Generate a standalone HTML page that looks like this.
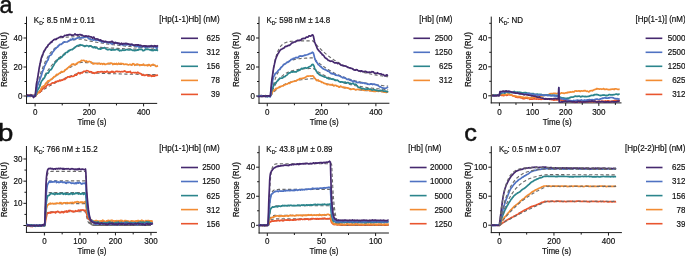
<!DOCTYPE html>
<html><head><meta charset="utf-8"><style>
html,body{margin:0;padding:0;background:#fff;}
svg{display:block;will-change:transform;}
text{font-family:"Liberation Sans",sans-serif;fill:#111;stroke:#111;stroke-width:0.18px;}
</style></head><body>
<svg xmlns="http://www.w3.org/2000/svg" width="685" height="256" viewBox="0 0 685 256">
<rect width="685" height="256" fill="#fff"/>
<line x1="26.50" y1="16.60" x2="26.50" y2="103.90" stroke="#1a1a1a" stroke-width="1.0" />
<line x1="26.00" y1="103.40" x2="157.20" y2="103.40" stroke="#1a1a1a" stroke-width="1.0" />
<line x1="35.10" y1="103.40" x2="35.10" y2="106.40" stroke="#1a1a1a" stroke-width="1.0" />
<text transform="translate(35.10,114.70) scale(1,1.05)" text-anchor="middle" font-size="8" >0</text>
<line x1="62.22" y1="103.40" x2="62.22" y2="105.40" stroke="#1a1a1a" stroke-width="1.0" />
<line x1="89.34" y1="103.40" x2="89.34" y2="106.40" stroke="#1a1a1a" stroke-width="1.0" />
<text transform="translate(89.34,114.70) scale(1,1.05)" text-anchor="middle" font-size="8" >200</text>
<line x1="116.46" y1="103.40" x2="116.46" y2="105.40" stroke="#1a1a1a" stroke-width="1.0" />
<line x1="143.58" y1="103.40" x2="143.58" y2="106.40" stroke="#1a1a1a" stroke-width="1.0" />
<text transform="translate(143.58,114.70) scale(1,1.05)" text-anchor="middle" font-size="8" >400</text>
<line x1="23.50" y1="96.00" x2="26.50" y2="96.00" stroke="#1a1a1a" stroke-width="1.0" />
<text transform="translate(22.50,98.90) scale(1,1.05)" text-anchor="end" font-size="8" >0</text>
<line x1="24.50" y1="81.50" x2="26.50" y2="81.50" stroke="#1a1a1a" stroke-width="1.0" />
<line x1="23.50" y1="67.00" x2="26.50" y2="67.00" stroke="#1a1a1a" stroke-width="1.0" />
<text transform="translate(22.50,69.90) scale(1,1.05)" text-anchor="end" font-size="8" >20</text>
<line x1="24.50" y1="52.50" x2="26.50" y2="52.50" stroke="#1a1a1a" stroke-width="1.0" />
<line x1="23.50" y1="38.00" x2="26.50" y2="38.00" stroke="#1a1a1a" stroke-width="1.0" />
<text transform="translate(22.50,40.90) scale(1,1.05)" text-anchor="end" font-size="8" >40</text>
<line x1="24.50" y1="23.50" x2="26.50" y2="23.50" stroke="#1a1a1a" stroke-width="1.0" />
<text x="0" y="0" transform="translate(6.80,59.60) rotate(-90) scale(1,1.05)" text-anchor="middle" font-size="8">Response (RU)</text>
<text transform="translate(91.90,125.00) scale(1,1.05)" text-anchor="middle" font-size="8" >Time (s)</text>
<text transform="translate(33.80,22.70) scale(1,1.05)" font-size="8">K<tspan font-size="5" dy="2.3">D</tspan><tspan dx="-0.5" dy="-2.3">: 8.5 nM ± 0.11</tspan></text>
<text transform="translate(219.60,21.60) scale(1,1.05)" text-anchor="end" font-size="8" >[Hp(1-1)Hb] (nM)</text>
<line x1="181.00" y1="38.30" x2="198.00" y2="38.30" stroke="#46296f" stroke-width="1.6" />
<text transform="translate(219.90,41.20) scale(1,1.05)" text-anchor="end" font-size="8" >625</text>
<line x1="181.00" y1="52.30" x2="198.00" y2="52.30" stroke="#4f72c2" stroke-width="1.6" />
<text transform="translate(219.90,55.20) scale(1,1.05)" text-anchor="end" font-size="8" >312</text>
<line x1="181.00" y1="66.30" x2="198.00" y2="66.30" stroke="#2b858c" stroke-width="1.6" />
<text transform="translate(219.90,69.20) scale(1,1.05)" text-anchor="end" font-size="8" >156</text>
<line x1="181.00" y1="80.40" x2="198.00" y2="80.40" stroke="#f28c33" stroke-width="1.6" />
<text transform="translate(219.90,83.30) scale(1,1.05)" text-anchor="end" font-size="8" >78</text>
<line x1="181.00" y1="94.40" x2="198.00" y2="94.40" stroke="#e9552f" stroke-width="1.6" />
<text transform="translate(219.90,97.30) scale(1,1.05)" text-anchor="end" font-size="8" >39</text>
<path d="M35.1,96.0 L36.6,94.8 L38.2,93.6 L39.7,92.5 L41.2,91.4 L42.8,90.3 L44.3,89.3 L45.8,88.3 L47.4,87.3 L48.9,86.4 L50.5,85.4 L52.0,84.6 L53.5,83.7 L55.1,82.9 L56.6,82.1 L58.1,81.3 L59.7,80.6 L61.2,79.9 L62.7,79.2 L64.3,78.5 L65.8,77.8 L67.3,77.2 L68.9,76.6 L70.4,76.0 L72.0,75.4 L73.5,74.9 L75.0,74.4 L76.6,73.8 L78.1,73.3 L79.6,72.8 L81.2,72.4 L82.7,72.4 L84.2,72.5 L85.8,72.6 L87.3,72.7 L88.8,72.8 L90.4,72.8 L91.9,72.9 L93.5,73.0 L95.0,73.1 L96.5,73.1 L98.1,73.2 L99.6,73.2 L101.1,73.3 L102.7,73.4 L104.2,73.4 L105.7,73.5 L107.3,73.5 L108.8,73.6 L110.3,73.6 L111.9,73.7 L113.4,73.7 L115.0,73.8 L116.5,73.8 L118.0,73.9 L119.6,73.9 L121.1,74.0 L122.6,74.0 L124.2,74.0 L125.7,74.1 L127.2,74.1 L128.8,74.2 L130.3,74.2 L131.8,74.2 L133.4,74.3 L134.9,74.3 L136.5,74.3 L138.0,74.4 L139.5,74.4 L141.1,74.4 L142.6,74.4 L144.1,74.5 L145.7,74.5 L147.2,74.5 L148.7,74.6 L150.3,74.6 L151.8,74.6 L153.3,74.6 L154.9,74.6 L156.4,74.7 L158.0,74.7" fill="none" stroke="#6a6a6a" stroke-width="1.1" stroke-linejoin="round" stroke-dasharray="3.3,2.3"/>
<path d="M35.1,96.0 L36.6,94.2 L38.2,92.4 L39.7,90.7 L41.2,89.1 L42.8,87.5 L44.3,86.0 L45.8,84.5 L47.4,83.1 L48.9,81.7 L50.5,80.4 L52.0,79.1 L53.5,77.9 L55.1,76.7 L56.6,75.6 L58.1,74.5 L59.7,73.5 L61.2,72.5 L62.7,71.5 L64.3,70.6 L65.8,69.7 L67.3,68.8 L68.9,68.0 L70.4,67.2 L72.0,66.4 L73.5,65.6 L75.0,64.9 L76.6,64.2 L78.1,63.5 L79.6,62.9 L81.2,62.3 L82.7,62.4 L84.2,62.5 L85.8,62.6 L87.3,62.7 L88.8,62.8 L90.4,62.9 L91.9,63.0 L93.5,63.1 L95.0,63.2 L96.5,63.3 L98.1,63.3 L99.6,63.4 L101.1,63.5 L102.7,63.6 L104.2,63.7 L105.7,63.7 L107.3,63.8 L108.8,63.9 L110.3,63.9 L111.9,64.0 L113.4,64.1 L115.0,64.1 L116.5,64.2 L118.0,64.3 L119.6,64.3 L121.1,64.4 L122.6,64.4 L124.2,64.5 L125.7,64.5 L127.2,64.6 L128.8,64.6 L130.3,64.7 L131.8,64.7 L133.4,64.8 L134.9,64.8 L136.5,64.9 L138.0,64.9 L139.5,64.9 L141.1,65.0 L142.6,65.0 L144.1,65.0 L145.7,65.1 L147.2,65.1 L148.7,65.1 L150.3,65.2 L151.8,65.2 L153.3,65.2 L154.9,65.3 L156.4,65.3 L158.0,65.3" fill="none" stroke="#6a6a6a" stroke-width="1.1" stroke-linejoin="round" stroke-dasharray="3.3,2.3"/>
<path d="M35.1,96.0 L36.6,92.1 L38.2,88.4 L39.7,85.0 L41.2,81.9 L42.8,78.9 L44.3,76.2 L45.8,73.6 L47.4,71.2 L48.9,69.0 L50.5,66.9 L52.0,65.0 L53.5,63.2 L55.1,61.5 L56.6,60.0 L58.1,58.5 L59.7,57.2 L61.2,55.9 L62.7,54.7 L64.3,53.6 L65.8,52.6 L67.3,51.7 L68.9,50.8 L70.4,50.0 L72.0,49.2 L73.5,48.5 L75.0,47.8 L76.6,47.2 L78.1,46.6 L79.6,46.1 L81.2,45.6 L82.7,45.7 L84.2,45.9 L85.8,46.1 L87.3,46.2 L88.8,46.4 L90.4,46.5 L91.9,46.6 L93.5,46.8 L95.0,46.9 L96.5,47.0 L98.1,47.1 L99.6,47.3 L101.1,47.4 L102.7,47.5 L104.2,47.6 L105.7,47.7 L107.3,47.8 L108.8,47.9 L110.3,48.0 L111.9,48.1 L113.4,48.1 L115.0,48.2 L116.5,48.3 L118.0,48.4 L119.6,48.5 L121.1,48.5 L122.6,48.6 L124.2,48.7 L125.7,48.7 L127.2,48.8 L128.8,48.8 L130.3,48.9 L131.8,49.0 L133.4,49.0 L134.9,49.1 L136.5,49.1 L138.0,49.2 L139.5,49.2 L141.1,49.3 L142.6,49.3 L144.1,49.4 L145.7,49.4 L147.2,49.4 L148.7,49.5 L150.3,49.5 L151.8,49.6 L153.3,49.6 L154.9,49.6 L156.4,49.7 L158.0,49.7" fill="none" stroke="#6a6a6a" stroke-width="1.1" stroke-linejoin="round" stroke-dasharray="3.3,2.3"/>
<path d="M35.1,96.0 L36.6,88.6 L38.2,82.2 L39.7,76.6 L41.2,71.7 L42.8,67.4 L44.3,63.7 L45.8,60.4 L47.4,57.6 L48.9,55.1 L50.5,52.9 L52.0,51.0 L53.5,49.4 L55.1,47.9 L56.6,46.7 L58.1,45.6 L59.7,44.6 L61.2,43.8 L62.7,43.0 L64.3,42.4 L65.8,41.8 L67.3,41.3 L68.9,40.9 L70.4,40.5 L72.0,40.2 L73.5,39.9 L75.0,39.7 L76.6,39.5 L78.1,39.3 L79.6,39.1 L81.2,39.0 L82.7,39.4 L84.2,39.7 L85.8,40.1 L87.3,40.4 L88.8,40.8 L90.4,41.1 L91.9,41.4 L93.5,41.7 L95.0,42.0 L96.5,42.3 L98.1,42.5 L99.6,42.8 L101.1,43.0 L102.7,43.3 L104.2,43.5 L105.7,43.8 L107.3,44.0 L108.8,44.2 L110.3,44.4 L111.9,44.6 L113.4,44.8 L115.0,45.0 L116.5,45.2 L118.0,45.3 L119.6,45.5 L121.1,45.7 L122.6,45.8 L124.2,46.0 L125.7,46.1 L127.2,46.3 L128.8,46.4 L130.3,46.5 L131.8,46.7 L133.4,46.8 L134.9,46.9 L136.5,47.0 L138.0,47.1 L139.5,47.2 L141.1,47.4 L142.6,47.5 L144.1,47.6 L145.7,47.6 L147.2,47.7 L148.7,47.8 L150.3,47.9 L151.8,48.0 L153.3,48.1 L154.9,48.2 L156.4,48.2 L158.0,48.3" fill="none" stroke="#6a6a6a" stroke-width="1.1" stroke-linejoin="round" stroke-dasharray="3.3,2.3"/>
<path d="M35.1,96.0 L36.6,84.0 L38.2,74.3 L39.7,66.7 L41.2,60.6 L42.8,55.7 L44.3,51.8 L45.8,48.7 L47.4,46.3 L48.9,44.3 L50.5,42.7 L52.0,41.5 L53.5,40.5 L55.1,39.7 L56.6,39.0 L58.1,38.5 L59.7,38.1 L61.2,37.8 L62.7,37.6 L64.3,37.4 L65.8,37.2 L67.3,37.1 L68.9,37.0 L70.4,36.9 L72.0,36.8 L73.5,36.8 L75.0,36.7 L76.6,36.7 L78.1,36.7 L79.6,36.6 L81.2,36.6 L82.7,37.0 L84.2,37.4 L85.8,37.8 L87.3,38.1 L88.8,38.5 L90.4,38.8 L91.9,39.1 L93.5,39.4 L95.0,39.7 L96.5,40.0 L98.1,40.3 L99.6,40.6 L101.1,40.9 L102.7,41.1 L104.2,41.4 L105.7,41.6 L107.3,41.8 L108.8,42.0 L110.3,42.3 L111.9,42.5 L113.4,42.7 L115.0,42.9 L116.5,43.1 L118.0,43.2 L119.6,43.4 L121.1,43.6 L122.6,43.7 L124.2,43.9 L125.7,44.1 L127.2,44.2 L128.8,44.3 L130.3,44.5 L131.8,44.6 L133.4,44.7 L134.9,44.9 L136.5,45.0 L138.0,45.1 L139.5,45.2 L141.1,45.3 L142.6,45.4 L144.1,45.5 L145.7,45.6 L147.2,45.7 L148.7,45.8 L150.3,45.9 L151.8,46.0 L153.3,46.1 L154.9,46.2 L156.4,46.2 L158.0,46.3" fill="none" stroke="#6a6a6a" stroke-width="1.1" stroke-linejoin="round" stroke-dasharray="3.3,2.3"/>
<path d="M27.0,96.0 L27.7,95.7 L28.4,95.9 L29.1,96.0 L29.9,96.4 L30.6,96.3 L31.3,95.7 L32.1,95.7 L32.8,95.4 L33.5,95.5 L34.2,95.6 L35.0,95.7 L35.7,96.1 L36.4,94.5 L37.2,93.2 L37.9,92.5 L38.6,92.7 L39.3,92.7 L40.1,92.0 L40.8,91.2 L41.5,90.1 L42.2,89.4 L43.0,88.6 L43.7,88.3 L44.4,87.6 L45.2,86.9 L45.9,86.7 L46.6,85.5 L47.3,85.1 L48.1,84.4 L48.8,84.6 L49.5,84.6 L50.3,84.3 L51.0,83.9 L51.7,83.3 L52.4,82.9 L53.2,82.9 L53.9,82.9 L54.6,82.7 L55.3,81.7 L56.1,81.8 L56.8,81.4 L57.5,81.0 L58.3,81.4 L59.0,80.9 L59.7,80.1 L60.4,80.8 L61.2,80.5 L61.9,80.1 L62.6,80.1 L63.3,79.4 L64.1,79.2 L64.8,79.5 L65.5,78.7 L66.3,78.1 L67.0,77.6 L67.7,76.9 L68.4,76.8 L69.2,76.8 L69.9,77.2 L70.6,76.5 L71.4,76.5 L72.1,76.3 L72.8,76.4 L73.5,76.2 L74.3,75.8 L75.0,74.6 L75.7,75.2 L76.4,75.1 L77.2,74.2 L77.9,73.1 L78.6,72.6 L79.4,73.3 L80.1,73.8 L80.8,73.0 L81.5,72.8 L82.3,72.9 L83.0,72.0 L83.7,71.4 L84.5,71.4 L85.2,71.3 L85.9,71.2 L86.6,70.6 L87.4,70.8 L88.1,71.0 L88.8,71.2 L89.5,72.2 L90.3,71.8 L91.0,71.7 L91.7,71.9 L92.5,73.0 L93.2,73.2 L93.9,72.6 L94.6,73.3 L95.4,73.0 L96.1,72.3 L96.8,72.8 L97.6,71.9 L98.3,71.8 L99.0,72.0 L99.7,71.9 L100.5,71.7 L101.2,71.8 L101.9,71.5 L102.6,72.0 L103.4,72.2 L104.1,71.7 L104.8,71.8 L105.6,72.2 L106.3,71.7 L107.0,71.2 L107.7,71.7 L108.5,72.4 L109.2,72.3 L109.9,72.2 L110.7,72.2 L111.4,71.5 L112.1,72.1 L112.8,71.5 L113.6,72.2 L114.3,72.4 L115.0,72.0 L115.7,71.5 L116.5,71.3 L117.2,71.4 L117.9,71.6 L118.7,71.7 L119.4,71.6 L120.1,71.8 L120.8,71.8 L121.6,71.6 L122.3,71.8 L123.0,71.6 L123.8,71.5 L124.5,70.9 L125.2,71.3 L125.9,71.8 L126.7,72.1 L127.4,72.1 L128.1,71.8 L128.8,72.1 L129.6,72.0 L130.3,71.4 L131.0,72.8 L131.8,73.1 L132.5,72.7 L133.2,72.5 L133.9,72.5 L134.7,72.8 L135.4,72.6 L136.1,72.6 L136.8,73.1 L137.6,72.2 L138.3,72.5 L139.0,73.1 L139.8,73.4 L140.5,73.7 L141.2,73.8 L141.9,75.1 L142.7,75.1 L143.4,74.6 L144.1,75.3 L144.9,75.4 L145.6,75.0 L146.3,75.0 L147.0,74.7 L147.8,75.8 L148.5,75.9 L149.2,76.0 L149.9,75.6 L150.7,75.2 L151.4,76.4 L152.1,75.7 L152.9,76.2 L153.6,75.7 L154.3,76.2 L155.0,75.8 L155.8,75.2 L156.5,75.3 L157.2,75.3 L158.0,75.0" fill="none" stroke="#e9552f" stroke-width="1.7" stroke-linejoin="round" />
<path d="M27.0,95.8 L27.7,95.9 L28.4,95.3 L29.1,95.1 L29.9,95.6 L30.6,94.6 L31.3,95.6 L32.1,95.4 L32.8,95.7 L33.5,95.8 L34.2,95.6 L35.0,95.7 L35.7,95.1 L36.4,94.5 L37.2,93.7 L37.9,92.5 L38.6,92.1 L39.3,91.6 L40.1,91.0 L40.8,89.3 L41.5,88.1 L42.2,86.7 L43.0,86.7 L43.7,85.9 L44.4,85.6 L45.2,84.4 L45.9,83.0 L46.6,83.0 L47.3,81.7 L48.1,80.9 L48.8,80.7 L49.5,81.1 L50.3,79.7 L51.0,79.3 L51.7,79.1 L52.4,78.4 L53.2,77.7 L53.9,76.7 L54.6,76.9 L55.3,76.0 L56.1,75.0 L56.8,74.3 L57.5,74.3 L58.3,74.4 L59.0,73.5 L59.7,73.1 L60.4,72.7 L61.2,71.7 L61.9,71.6 L62.6,72.1 L63.3,71.5 L64.1,71.5 L64.8,70.3 L65.5,69.6 L66.3,69.3 L67.0,68.7 L67.7,67.9 L68.4,67.5 L69.2,66.5 L69.9,66.4 L70.6,65.6 L71.4,64.9 L72.1,64.2 L72.8,64.6 L73.5,64.0 L74.3,64.7 L75.0,64.5 L75.7,64.7 L76.4,63.3 L77.2,63.3 L77.9,62.6 L78.6,62.2 L79.4,61.8 L80.1,61.7 L80.8,61.2 L81.5,60.3 L82.3,60.5 L83.0,60.5 L83.7,60.3 L84.5,60.7 L85.2,61.4 L85.9,61.5 L86.6,61.0 L87.4,61.9 L88.1,62.0 L88.8,61.5 L89.5,61.4 L90.3,61.9 L91.0,62.0 L91.7,62.5 L92.5,63.4 L93.2,64.0 L93.9,64.0 L94.6,63.2 L95.4,63.4 L96.1,63.6 L96.8,63.6 L97.6,63.9 L98.3,63.6 L99.0,63.8 L99.7,63.3 L100.5,64.2 L101.2,63.6 L101.9,63.7 L102.6,64.3 L103.4,63.6 L104.1,63.6 L104.8,64.4 L105.6,64.4 L106.3,64.0 L107.0,64.0 L107.7,63.6 L108.5,63.4 L109.2,63.3 L109.9,63.4 L110.7,63.1 L111.4,63.2 L112.1,63.4 L112.8,64.5 L113.6,64.0 L114.3,63.5 L115.0,63.9 L115.7,64.2 L116.5,63.4 L117.2,64.5 L117.9,64.2 L118.7,63.2 L119.4,64.0 L120.1,63.9 L120.8,63.3 L121.6,63.8 L122.3,63.8 L123.0,63.6 L123.8,64.3 L124.5,64.4 L125.2,64.3 L125.9,64.0 L126.7,64.2 L127.4,64.4 L128.1,64.9 L128.8,64.9 L129.6,64.4 L130.3,64.4 L131.0,64.8 L131.8,65.1 L132.5,63.8 L133.2,63.7 L133.9,63.9 L134.7,65.3 L135.4,64.8 L136.1,64.6 L136.8,64.1 L137.6,64.2 L138.3,64.5 L139.0,64.5 L139.8,65.5 L140.5,64.9 L141.2,64.8 L141.9,65.2 L142.7,64.6 L143.4,64.1 L144.1,65.1 L144.9,65.4 L145.6,65.2 L146.3,65.2 L147.0,65.4 L147.8,65.8 L148.5,64.7 L149.2,64.6 L149.9,65.4 L150.7,66.0 L151.4,65.1 L152.1,64.9 L152.9,64.4 L153.6,64.5 L154.3,65.3 L155.0,65.3 L155.8,66.3 L156.5,66.4 L157.2,66.1 L158.0,65.8" fill="none" stroke="#f28c33" stroke-width="1.7" stroke-linejoin="round" />
<path d="M27.0,96.4 L27.7,96.4 L28.4,96.1 L29.1,95.9 L29.9,95.7 L30.6,95.8 L31.3,96.0 L32.1,95.7 L32.8,95.8 L33.5,96.3 L34.2,96.4 L35.0,96.2 L35.7,95.5 L36.4,93.3 L37.2,91.2 L37.9,89.7 L38.6,88.4 L39.3,87.5 L40.1,85.5 L40.8,83.0 L41.5,81.3 L42.2,80.5 L43.0,79.4 L43.7,78.6 L44.4,77.9 L45.2,76.1 L45.9,75.0 L46.6,73.5 L47.3,73.1 L48.1,73.2 L48.8,72.3 L49.5,70.5 L50.3,69.9 L51.0,69.6 L51.7,68.8 L52.4,67.4 L53.2,66.1 L53.9,65.0 L54.6,63.4 L55.3,62.4 L56.1,61.9 L56.8,61.0 L57.5,59.8 L58.3,59.1 L59.0,58.4 L59.7,58.6 L60.4,58.1 L61.2,57.2 L61.9,56.9 L62.6,55.9 L63.3,55.3 L64.1,54.6 L64.8,54.4 L65.5,52.9 L66.3,52.4 L67.0,52.4 L67.7,52.1 L68.4,50.7 L69.2,50.8 L69.9,50.3 L70.6,49.7 L71.4,49.5 L72.1,49.7 L72.8,49.2 L73.5,48.6 L74.3,47.7 L75.0,47.2 L75.7,46.9 L76.4,46.3 L77.2,45.8 L77.9,45.5 L78.6,45.3 L79.4,45.2 L80.1,44.7 L80.8,45.1 L81.5,45.2 L82.3,45.1 L83.0,45.7 L83.7,45.7 L84.5,46.4 L85.2,46.4 L85.9,45.9 L86.6,45.6 L87.4,45.8 L88.1,46.0 L88.8,46.7 L89.5,45.8 L90.3,45.9 L91.0,45.8 L91.7,46.6 L92.5,46.8 L93.2,47.7 L93.9,47.2 L94.6,46.9 L95.4,47.9 L96.1,47.8 L96.8,47.5 L97.6,48.3 L98.3,48.9 L99.0,49.0 L99.7,48.9 L100.5,49.2 L101.2,48.8 L101.9,48.5 L102.6,48.3 L103.4,48.1 L104.1,47.7 L104.8,47.7 L105.6,48.7 L106.3,49.0 L107.0,49.4 L107.7,49.8 L108.5,49.6 L109.2,49.4 L109.9,49.2 L110.7,49.9 L111.4,50.2 L112.1,49.9 L112.8,49.8 L113.6,49.8 L114.3,49.7 L115.0,49.9 L115.7,49.5 L116.5,49.4 L117.2,49.5 L117.9,49.8 L118.7,49.8 L119.4,50.8 L120.1,50.7 L120.8,50.3 L121.6,50.6 L122.3,50.2 L123.0,49.9 L123.8,50.4 L124.5,50.2 L125.2,50.1 L125.9,49.8 L126.7,49.5 L127.4,49.6 L128.1,50.0 L128.8,50.0 L129.6,49.9 L130.3,49.6 L131.0,49.5 L131.8,49.9 L132.5,50.4 L133.2,50.3 L133.9,50.4 L134.7,50.7 L135.4,50.4 L136.1,50.4 L136.8,50.2 L137.6,49.9 L138.3,50.1 L139.0,49.1 L139.8,49.6 L140.5,49.3 L141.2,49.5 L141.9,49.3 L142.7,50.6 L143.4,50.7 L144.1,50.4 L144.9,50.0 L145.6,49.1 L146.3,49.4 L147.0,49.2 L147.8,49.3 L148.5,49.3 L149.2,49.5 L149.9,49.9 L150.7,49.9 L151.4,50.5 L152.1,50.0 L152.9,50.6 L153.6,50.5 L154.3,49.6 L155.0,50.1 L155.8,50.3 L156.5,49.9 L157.2,50.2 L158.0,50.7" fill="none" stroke="#2b858c" stroke-width="1.7" stroke-linejoin="round" />
<path d="M27.0,96.0 L27.7,95.8 L28.4,95.7 L29.1,96.2 L29.9,95.4 L30.6,95.0 L31.3,95.4 L32.1,95.6 L32.8,95.9 L33.5,95.4 L34.2,95.9 L35.0,95.7 L35.7,94.2 L36.4,90.5 L37.2,87.4 L37.9,84.6 L38.6,82.7 L39.3,81.2 L40.1,78.8 L40.8,77.0 L41.5,74.9 L42.2,72.4 L43.0,70.4 L43.7,69.1 L44.4,66.4 L45.2,65.1 L45.9,63.4 L46.6,62.2 L47.3,60.6 L48.1,59.8 L48.8,57.3 L49.5,55.7 L50.3,55.3 L51.0,54.9 L51.7,54.3 L52.4,52.4 L53.2,51.6 L53.9,50.7 L54.6,49.8 L55.3,48.8 L56.1,48.3 L56.8,47.3 L57.5,47.1 L58.3,46.2 L59.0,45.4 L59.7,44.6 L60.4,44.3 L61.2,44.3 L61.9,43.7 L62.6,43.4 L63.3,42.3 L64.1,41.9 L64.8,41.9 L65.5,42.0 L66.3,42.0 L67.0,42.0 L67.7,41.7 L68.4,41.1 L69.2,40.6 L69.9,40.2 L70.6,39.3 L71.4,39.8 L72.1,39.7 L72.8,38.4 L73.5,39.4 L74.3,39.4 L75.0,39.0 L75.7,38.7 L76.4,38.3 L77.2,38.2 L77.9,37.9 L78.6,37.7 L79.4,37.3 L80.1,38.0 L80.8,38.0 L81.5,37.6 L82.3,37.7 L83.0,37.8 L83.7,37.1 L84.5,37.3 L85.2,36.9 L85.9,36.7 L86.6,37.0 L87.4,37.2 L88.1,37.8 L88.8,38.8 L89.5,39.0 L90.3,39.1 L91.0,39.5 L91.7,39.7 L92.5,39.5 L93.2,40.1 L93.9,39.9 L94.6,39.3 L95.4,40.0 L96.1,40.2 L96.8,40.5 L97.6,40.0 L98.3,40.3 L99.0,40.3 L99.7,40.9 L100.5,41.1 L101.2,41.3 L101.9,42.1 L102.6,41.4 L103.4,41.2 L104.1,42.2 L104.8,41.9 L105.6,42.0 L106.3,42.0 L107.0,42.0 L107.7,42.8 L108.5,42.8 L109.2,42.2 L109.9,42.7 L110.7,43.2 L111.4,43.7 L112.1,43.9 L112.8,43.5 L113.6,42.7 L114.3,42.8 L115.0,43.0 L115.7,42.3 L116.5,43.1 L117.2,43.6 L117.9,43.5 L118.7,43.5 L119.4,44.1 L120.1,44.6 L120.8,44.3 L121.6,44.2 L122.3,44.8 L123.0,44.7 L123.8,44.9 L124.5,44.6 L125.2,44.7 L125.9,44.8 L126.7,44.9 L127.4,44.5 L128.1,44.1 L128.8,44.7 L129.6,44.5 L130.3,45.1 L131.0,45.2 L131.8,45.0 L132.5,44.6 L133.2,45.1 L133.9,45.4 L134.7,45.5 L135.4,46.2 L136.1,46.1 L136.8,46.3 L137.6,46.1 L138.3,46.6 L139.0,47.2 L139.8,46.8 L140.5,46.5 L141.2,46.7 L141.9,46.2 L142.7,46.5 L143.4,46.7 L144.1,46.5 L144.9,47.2 L145.6,47.3 L146.3,47.1 L147.0,46.6 L147.8,46.8 L148.5,46.7 L149.2,47.0 L149.9,46.9 L150.7,46.2 L151.4,46.8 L152.1,45.9 L152.9,46.7 L153.6,46.8 L154.3,46.9 L155.0,46.6 L155.8,47.4 L156.5,48.2 L157.2,47.6 L158.0,47.2" fill="none" stroke="#4f72c2" stroke-width="1.7" stroke-linejoin="round" />
<path d="M27.0,95.9 L27.7,94.9 L28.4,95.3 L29.1,95.5 L29.9,95.4 L30.6,95.5 L31.3,95.1 L32.1,96.0 L32.8,96.2 L33.5,97.5 L34.2,96.6 L35.0,96.5 L35.7,91.0 L36.4,84.1 L37.2,80.2 L37.9,76.3 L38.6,71.8 L39.3,67.4 L40.1,63.8 L40.8,60.1 L41.5,57.5 L42.2,55.5 L43.0,53.8 L43.7,51.9 L44.4,50.5 L45.2,49.5 L45.9,48.1 L46.6,47.3 L47.3,46.8 L48.1,45.1 L48.8,44.2 L49.5,44.0 L50.3,42.8 L51.0,42.2 L51.7,42.3 L52.4,40.9 L53.2,40.4 L53.9,39.7 L54.6,39.4 L55.3,39.2 L56.1,39.5 L56.8,38.5 L57.5,38.2 L58.3,38.0 L59.0,37.5 L59.7,37.2 L60.4,36.7 L61.2,36.7 L61.9,36.5 L62.6,37.2 L63.3,36.8 L64.1,36.0 L64.8,35.3 L65.5,35.5 L66.3,35.5 L67.0,34.8 L67.7,35.2 L68.4,35.0 L69.2,34.4 L69.9,34.8 L70.6,34.5 L71.4,35.1 L72.1,35.1 L72.8,35.2 L73.5,35.1 L74.3,34.7 L75.0,33.9 L75.7,34.6 L76.4,34.9 L77.2,34.7 L77.9,35.2 L78.6,34.8 L79.4,34.6 L80.1,34.8 L80.8,34.6 L81.5,35.4 L82.3,35.0 L83.0,35.8 L83.7,36.0 L84.5,36.1 L85.2,36.2 L85.9,35.8 L86.6,36.0 L87.4,36.4 L88.1,36.4 L88.8,36.1 L89.5,36.6 L90.3,36.9 L91.0,36.8 L91.7,37.2 L92.5,38.2 L93.2,37.4 L93.9,37.1 L94.6,38.7 L95.4,38.9 L96.1,39.0 L96.8,38.9 L97.6,39.0 L98.3,39.5 L99.0,40.1 L99.7,40.1 L100.5,39.8 L101.2,40.6 L101.9,41.0 L102.6,41.0 L103.4,41.7 L104.1,41.6 L104.8,41.6 L105.6,41.3 L106.3,41.7 L107.0,42.0 L107.7,42.0 L108.5,42.0 L109.2,42.2 L109.9,42.1 L110.7,41.8 L111.4,41.5 L112.1,41.2 L112.8,42.0 L113.6,42.4 L114.3,43.5 L115.0,42.5 L115.7,42.9 L116.5,43.0 L117.2,42.8 L117.9,43.5 L118.7,43.2 L119.4,43.3 L120.1,44.1 L120.8,43.8 L121.6,43.2 L122.3,44.2 L123.0,43.7 L123.8,43.7 L124.5,43.6 L125.2,43.6 L125.9,43.3 L126.7,43.8 L127.4,43.7 L128.1,44.1 L128.8,44.0 L129.6,44.6 L130.3,44.7 L131.0,44.0 L131.8,44.2 L132.5,44.5 L133.2,45.2 L133.9,45.5 L134.7,45.3 L135.4,44.9 L136.1,44.9 L136.8,44.9 L137.6,45.2 L138.3,44.8 L139.0,45.3 L139.8,45.7 L140.5,45.4 L141.2,45.5 L141.9,45.8 L142.7,46.1 L143.4,46.1 L144.1,45.8 L144.9,45.8 L145.6,46.4 L146.3,46.1 L147.0,46.0 L147.8,46.5 L148.5,46.1 L149.2,46.3 L149.9,46.4 L150.7,46.0 L151.4,45.6 L152.1,46.2 L152.9,46.1 L153.6,46.6 L154.3,45.6 L155.0,46.1 L155.8,45.8 L156.5,46.4 L157.2,46.1 L158.0,45.4" fill="none" stroke="#46296f" stroke-width="1.7" stroke-linejoin="round" />
<line x1="259.00" y1="16.60" x2="259.00" y2="103.75" stroke="#1a1a1a" stroke-width="1.0" />
<line x1="258.50" y1="103.25" x2="389.40" y2="103.25" stroke="#1a1a1a" stroke-width="1.0" />
<line x1="267.25" y1="103.25" x2="267.25" y2="106.25" stroke="#1a1a1a" stroke-width="1.0" />
<text transform="translate(267.25,114.70) scale(1,1.05)" text-anchor="middle" font-size="8" >0</text>
<line x1="294.41" y1="103.25" x2="294.41" y2="105.25" stroke="#1a1a1a" stroke-width="1.0" />
<line x1="321.57" y1="103.25" x2="321.57" y2="106.25" stroke="#1a1a1a" stroke-width="1.0" />
<text transform="translate(321.57,114.70) scale(1,1.05)" text-anchor="middle" font-size="8" >200</text>
<line x1="348.73" y1="103.25" x2="348.73" y2="105.25" stroke="#1a1a1a" stroke-width="1.0" />
<line x1="375.89" y1="103.25" x2="375.89" y2="106.25" stroke="#1a1a1a" stroke-width="1.0" />
<text transform="translate(375.89,114.70) scale(1,1.05)" text-anchor="middle" font-size="8" >400</text>
<line x1="256.00" y1="96.00" x2="259.00" y2="96.00" stroke="#1a1a1a" stroke-width="1.0" />
<text transform="translate(255.00,98.90) scale(1,1.05)" text-anchor="end" font-size="8" >0</text>
<line x1="257.00" y1="81.50" x2="259.00" y2="81.50" stroke="#1a1a1a" stroke-width="1.0" />
<line x1="256.00" y1="67.00" x2="259.00" y2="67.00" stroke="#1a1a1a" stroke-width="1.0" />
<text transform="translate(255.00,69.90) scale(1,1.05)" text-anchor="end" font-size="8" >20</text>
<line x1="257.00" y1="52.50" x2="259.00" y2="52.50" stroke="#1a1a1a" stroke-width="1.0" />
<line x1="256.00" y1="38.00" x2="259.00" y2="38.00" stroke="#1a1a1a" stroke-width="1.0" />
<text transform="translate(255.00,40.90) scale(1,1.05)" text-anchor="end" font-size="8" >40</text>
<line x1="257.00" y1="23.50" x2="259.00" y2="23.50" stroke="#1a1a1a" stroke-width="1.0" />
<text x="0" y="0" transform="translate(239.30,59.60) rotate(-90) scale(1,1.05)" text-anchor="middle" font-size="8">Response (RU)</text>
<text transform="translate(324.20,125.00) scale(1,1.05)" text-anchor="middle" font-size="8" >Time (s)</text>
<text transform="translate(266.40,22.70) scale(1,1.05)" font-size="8">K<tspan font-size="5" dy="2.3">D</tspan><tspan dx="-0.5" dy="-2.3">: 598 nM ± 14.8</tspan></text>
<text transform="translate(452.50,21.60) scale(1,1.05)" text-anchor="end" font-size="8" >[Hb] (nM)</text>
<line x1="413.40" y1="38.30" x2="430.00" y2="38.30" stroke="#46296f" stroke-width="1.6" />
<text transform="translate(452.40,41.20) scale(1,1.05)" text-anchor="end" font-size="8" >2500</text>
<line x1="413.40" y1="52.30" x2="430.00" y2="52.30" stroke="#4f72c2" stroke-width="1.6" />
<text transform="translate(452.40,55.20) scale(1,1.05)" text-anchor="end" font-size="8" >1250</text>
<line x1="413.40" y1="66.30" x2="430.00" y2="66.30" stroke="#2b858c" stroke-width="1.6" />
<text transform="translate(452.40,69.20) scale(1,1.05)" text-anchor="end" font-size="8" >625</text>
<line x1="413.40" y1="80.40" x2="430.00" y2="80.40" stroke="#f28c33" stroke-width="1.6" />
<text transform="translate(452.40,83.30) scale(1,1.05)" text-anchor="end" font-size="8" >312</text>
<path d="M270.6,96.0 L271.8,94.5 L273.0,93.1 L274.2,91.9 L275.3,90.7 L276.5,89.6 L277.7,88.7 L278.9,87.8 L280.0,86.9 L281.2,86.2 L282.4,85.5 L283.6,84.9 L284.7,84.3 L285.9,83.8 L287.1,83.3 L288.3,82.8 L289.4,82.4 L290.6,82.0 L291.8,81.7 L293.0,81.4 L294.1,81.1 L295.3,80.8 L296.5,80.6 L297.7,80.4 L298.8,80.1 L300.0,80.0 L301.2,79.8 L302.4,79.6 L303.5,79.5 L304.7,79.4 L305.9,79.2 L307.1,79.1 L308.2,79.0 L309.4,78.9 L310.6,78.8 L311.8,78.8 L312.9,78.7 L314.1,79.1 L315.3,79.6 L316.5,80.1 L317.6,80.6 L318.8,81.1 L320.0,81.5 L321.2,81.9 L322.3,82.3 L323.5,82.7 L324.7,83.1 L325.9,83.5 L327.0,83.9 L328.2,84.2 L329.4,84.5 L330.6,84.9 L331.7,85.2 L332.9,85.5 L334.1,85.7 L335.3,86.0 L336.4,86.3 L337.6,86.5 L338.8,86.8 L340.0,87.0 L341.1,87.3 L342.3,87.5 L343.5,87.7 L344.6,87.9 L345.8,88.1 L347.0,88.3 L348.2,88.5 L349.3,88.7 L350.5,88.8 L351.7,89.0 L352.9,89.1 L354.0,89.3 L355.2,89.5 L356.4,89.6 L357.6,89.7 L358.7,89.9 L359.9,90.0 L361.1,90.1 L362.3,90.2 L363.4,90.3 L364.6,90.5 L365.8,90.6 L367.0,90.7 L368.1,90.8 L369.3,90.9 L370.5,91.0 L371.7,91.0 L372.8,91.1 L374.0,91.2 L375.2,91.3 L376.4,91.4 L377.5,91.4 L378.7,91.5 L379.9,91.6 L381.1,91.6 L382.2,91.7 L383.4,91.8 L384.6,91.8 L385.8,91.9 L386.9,91.9 L388.1,92.0" fill="none" stroke="#6a6a6a" stroke-width="1.1" stroke-linejoin="round" stroke-dasharray="3.3,2.3"/>
<path d="M270.6,96.0 L271.8,92.6 L273.0,89.6 L274.2,87.0 L275.3,84.7 L276.5,82.7 L277.7,80.9 L278.9,79.4 L280.0,78.0 L281.2,76.8 L282.4,75.8 L283.6,74.8 L284.7,74.0 L285.9,73.3 L287.1,72.7 L288.3,72.1 L289.4,71.7 L290.6,71.2 L291.8,70.9 L293.0,70.5 L294.1,70.2 L295.3,70.0 L296.5,69.8 L297.7,69.6 L298.8,69.4 L300.0,69.2 L301.2,69.1 L302.4,69.0 L303.5,68.9 L304.7,68.8 L305.9,68.7 L307.1,68.7 L308.2,68.6 L309.4,68.5 L310.6,68.5 L311.8,68.5 L312.9,68.4 L314.1,69.1 L315.3,69.9 L316.5,70.7 L317.6,71.5 L318.8,72.2 L320.0,72.9 L321.2,73.6 L322.3,74.3 L323.5,74.9 L324.7,75.5 L325.9,76.1 L327.0,76.7 L328.2,77.2 L329.4,77.8 L330.6,78.3 L331.7,78.8 L332.9,79.2 L334.1,79.7 L335.3,80.1 L336.4,80.5 L337.6,81.0 L338.8,81.3 L340.0,81.7 L341.1,82.1 L342.3,82.4 L343.5,82.8 L344.6,83.1 L345.8,83.4 L347.0,83.7 L348.2,84.0 L349.3,84.3 L350.5,84.6 L351.7,84.8 L352.9,85.1 L354.0,85.3 L355.2,85.6 L356.4,85.8 L357.6,86.0 L358.7,86.2 L359.9,86.4 L361.1,86.6 L362.3,86.8 L363.4,87.0 L364.6,87.2 L365.8,87.3 L367.0,87.5 L368.1,87.7 L369.3,87.8 L370.5,88.0 L371.7,88.1 L372.8,88.2 L374.0,88.4 L375.2,88.5 L376.4,88.6 L377.5,88.7 L378.7,88.8 L379.9,89.0 L381.1,89.1 L382.2,89.2 L383.4,89.3 L384.6,89.4 L385.8,89.4 L386.9,89.5 L388.1,89.6" fill="none" stroke="#6a6a6a" stroke-width="1.1" stroke-linejoin="round" stroke-dasharray="3.3,2.3"/>
<path d="M270.6,96.0 L271.8,90.6 L273.0,86.0 L274.2,82.0 L275.3,78.6 L276.5,75.7 L277.7,73.2 L278.9,71.0 L280.0,69.1 L281.2,67.5 L282.4,66.1 L283.6,65.0 L284.7,63.9 L285.9,63.1 L287.1,62.3 L288.3,61.7 L289.4,61.1 L290.6,60.6 L291.8,60.2 L293.0,59.9 L294.1,59.6 L295.3,59.3 L296.5,59.1 L297.7,58.9 L298.8,58.7 L300.0,58.6 L301.2,58.5 L302.4,58.4 L303.5,58.3 L304.7,58.2 L305.9,58.1 L307.1,58.1 L308.2,58.0 L309.4,58.0 L310.6,57.9 L311.8,57.9 L312.9,57.9 L314.1,58.8 L315.3,59.9 L316.5,61.0 L317.6,62.0 L318.8,63.0 L320.0,63.9 L321.2,64.8 L322.3,65.7 L323.5,66.5 L324.7,67.3 L325.9,68.1 L327.0,68.9 L328.2,69.6 L329.4,70.3 L330.6,71.0 L331.7,71.7 L332.9,72.3 L334.1,72.9 L335.3,73.5 L336.4,74.1 L337.6,74.6 L338.8,75.1 L340.0,75.6 L341.1,76.1 L342.3,76.6 L343.5,77.0 L344.6,77.5 L345.8,77.9 L347.0,78.3 L348.2,78.7 L349.3,79.1 L350.5,79.4 L351.7,79.8 L352.9,80.1 L354.0,80.4 L355.2,80.8 L356.4,81.1 L357.6,81.4 L358.7,81.6 L359.9,81.9 L361.1,82.2 L362.3,82.4 L363.4,82.7 L364.6,82.9 L365.8,83.1 L367.0,83.3 L368.1,83.5 L369.3,83.7 L370.5,83.9 L371.7,84.1 L372.8,84.3 L374.0,84.5 L375.2,84.7 L376.4,84.8 L377.5,85.0 L378.7,85.1 L379.9,85.3 L381.1,85.4 L382.2,85.5 L383.4,85.7 L384.6,85.8 L385.8,85.9 L386.9,86.0 L388.1,86.1" fill="none" stroke="#6a6a6a" stroke-width="1.1" stroke-linejoin="round" stroke-dasharray="3.3,2.3"/>
<path d="M270.6,96.0 L271.8,82.9 L273.0,72.9 L274.2,65.2 L275.3,59.4 L276.5,55.0 L277.7,51.6 L278.9,49.1 L280.0,47.1 L281.2,45.6 L282.4,44.5 L283.6,43.7 L284.7,43.0 L285.9,42.5 L287.1,42.1 L288.3,41.8 L289.4,41.6 L290.6,41.4 L291.8,41.3 L293.0,41.2 L294.1,41.1 L295.3,41.1 L296.5,41.0 L297.7,41.0 L298.8,41.0 L300.0,41.0 L301.2,40.9 L302.4,40.9 L303.5,40.9 L304.7,40.9 L305.9,40.9 L307.1,40.9 L308.2,40.9 L309.4,40.9 L310.6,40.9 L311.8,40.9 L312.9,40.9 L314.1,42.1 L315.3,43.5 L316.5,44.8 L317.6,46.1 L318.8,47.3 L320.0,48.5 L321.2,49.7 L322.3,50.8 L323.5,51.9 L324.7,52.9 L325.9,53.9 L327.0,54.9 L328.2,55.8 L329.4,56.7 L330.6,57.6 L331.7,58.4 L332.9,59.2 L334.1,60.0 L335.3,60.7 L336.4,61.4 L337.6,62.1 L338.8,62.8 L340.0,63.4 L341.1,64.0 L342.3,64.6 L343.5,65.2 L344.6,65.8 L345.8,66.3 L347.0,66.8 L348.2,67.3 L349.3,67.8 L350.5,68.3 L351.7,68.7 L352.9,69.1 L354.0,69.5 L355.2,69.9 L356.4,70.3 L357.6,70.7 L358.7,71.1 L359.9,71.4 L361.1,71.7 L362.3,72.0 L363.4,72.4 L364.6,72.6 L365.8,72.9 L367.0,73.2 L368.1,73.5 L369.3,73.7 L370.5,74.0 L371.7,74.2 L372.8,74.4 L374.0,74.7 L375.2,74.9 L376.4,75.1 L377.5,75.3 L378.7,75.5 L379.9,75.7 L381.1,75.8 L382.2,76.0 L383.4,76.2 L384.6,76.3 L385.8,76.5 L386.9,76.6 L388.1,76.8" fill="none" stroke="#6a6a6a" stroke-width="1.1" stroke-linejoin="round" stroke-dasharray="3.3,2.3"/>
<path d="M257.7,96.7 L258.3,96.5 L258.9,96.2 L259.5,96.1 L260.1,96.3 L260.7,95.6 L261.3,95.7 L261.9,96.3 L262.5,95.9 L263.1,96.4 L263.7,95.9 L264.3,96.1 L264.9,96.0 L265.4,95.7 L266.0,95.8 L266.6,96.2 L267.2,96.6 L267.8,96.0 L268.4,95.8 L269.0,96.1 L269.6,95.8 L270.2,95.8 L270.8,95.0 L271.4,94.4 L272.0,92.9 L272.6,91.7 L273.2,90.9 L273.7,90.2 L274.3,90.5 L274.9,89.9 L275.5,89.3 L276.1,88.3 L276.7,88.4 L277.3,88.3 L277.9,87.9 L278.5,87.4 L279.1,87.3 L279.7,86.7 L280.3,86.8 L280.9,86.4 L281.4,86.3 L282.0,86.0 L282.6,85.9 L283.2,86.0 L283.8,85.3 L284.4,84.9 L285.0,84.9 L285.6,84.5 L286.2,84.0 L286.8,84.2 L287.4,83.9 L288.0,83.5 L288.6,83.2 L289.2,83.1 L289.7,83.4 L290.3,82.6 L290.9,82.3 L291.5,82.1 L292.1,81.9 L292.7,81.6 L293.3,81.5 L293.9,81.5 L294.5,81.3 L295.1,81.1 L295.7,80.9 L296.3,80.8 L296.9,80.2 L297.4,80.2 L298.0,79.7 L298.6,79.7 L299.2,79.3 L299.8,78.7 L300.4,78.6 L301.0,78.7 L301.6,78.5 L302.2,78.2 L302.8,78.5 L303.4,78.3 L304.0,77.9 L304.6,77.8 L305.2,77.5 L305.7,77.0 L306.3,76.7 L306.9,76.3 L307.5,76.1 L308.1,76.2 L308.7,76.1 L309.3,76.0 L309.9,76.0 L310.5,75.9 L311.1,76.2 L311.7,76.0 L312.3,75.8 L312.9,76.0 L313.4,76.3 L314.0,77.3 L314.6,78.4 L315.2,78.3 L315.8,79.6 L316.4,79.9 L317.0,80.6 L317.6,80.3 L318.2,79.9 L318.8,81.0 L319.4,81.1 L320.0,81.1 L320.6,81.5 L321.2,81.6 L321.7,82.5 L322.3,82.4 L322.9,82.5 L323.5,82.8 L324.1,83.3 L324.7,83.3 L325.3,83.7 L325.9,83.8 L326.5,84.1 L327.1,84.7 L327.7,84.6 L328.3,84.5 L328.9,84.3 L329.4,84.7 L330.0,84.8 L330.6,84.7 L331.2,84.8 L331.8,84.7 L332.4,84.4 L333.0,85.1 L333.6,85.8 L334.2,85.5 L334.8,85.3 L335.4,85.3 L336.0,85.4 L336.6,85.9 L337.1,86.2 L337.7,86.1 L338.3,86.5 L338.9,87.0 L339.5,87.2 L340.1,86.4 L340.7,86.1 L341.3,86.7 L341.9,87.0 L342.5,87.1 L343.1,87.4 L343.7,87.1 L344.3,87.3 L344.9,87.7 L345.4,87.4 L346.0,87.7 L346.6,87.8 L347.2,87.9 L347.8,88.1 L348.4,88.1 L349.0,88.3 L349.6,88.9 L350.2,89.3 L350.8,89.4 L351.4,89.3 L352.0,89.1 L352.6,89.0 L353.1,88.8 L353.7,88.9 L354.3,89.2 L354.9,89.4 L355.5,89.9 L356.1,89.7 L356.7,89.5 L357.3,89.4 L357.9,89.5 L358.5,89.6 L359.1,89.4 L359.7,89.5 L360.3,89.5 L360.9,89.5 L361.4,89.6 L362.0,89.5 L362.6,89.9 L363.2,90.1 L363.8,90.3 L364.4,90.5 L365.0,90.1 L365.6,89.7 L366.2,90.0 L366.8,90.1 L367.4,90.0 L368.0,90.0 L368.6,90.0 L369.1,90.6 L369.7,90.9 L370.3,90.7 L370.9,90.4 L371.5,90.6 L372.1,91.0 L372.7,91.1 L373.3,91.3 L373.9,91.5 L374.5,91.0 L375.1,91.3 L375.7,91.3 L376.3,90.8 L376.9,90.7 L377.4,90.9 L378.0,91.3 L378.6,91.3 L379.2,91.0 L379.8,91.1 L380.4,91.1 L381.0,91.3 L381.6,91.4 L382.2,91.7 L382.8,91.7 L383.4,91.5 L384.0,92.1 L384.6,92.1 L385.1,92.1 L385.7,92.3 L386.3,92.4 L386.9,92.2 L387.5,91.7 L388.1,91.9" fill="none" stroke="#f28c33" stroke-width="1.7" stroke-linejoin="round" />
<path d="M257.7,95.9 L258.3,96.4 L258.9,95.7 L259.5,95.8 L260.1,95.9 L260.7,96.2 L261.3,96.2 L261.9,96.4 L262.5,96.2 L263.1,96.0 L263.7,96.0 L264.3,95.9 L264.9,96.2 L265.4,95.7 L266.0,96.0 L266.6,96.5 L267.2,96.3 L267.8,96.4 L268.4,96.5 L269.0,96.4 L269.6,96.2 L270.2,96.4 L270.8,94.8 L271.4,92.1 L272.0,89.6 L272.6,88.1 L273.2,86.7 L273.7,85.6 L274.3,84.6 L274.9,83.5 L275.5,82.8 L276.1,82.6 L276.7,81.7 L277.3,81.2 L277.9,80.2 L278.5,79.8 L279.1,79.2 L279.7,78.2 L280.3,78.3 L280.9,78.2 L281.4,78.1 L282.0,78.2 L282.6,78.0 L283.2,77.2 L283.8,76.8 L284.4,76.8 L285.0,76.6 L285.6,75.7 L286.2,75.5 L286.8,75.1 L287.4,74.6 L288.0,73.8 L288.6,73.2 L289.2,72.9 L289.7,72.9 L290.3,72.7 L290.9,72.2 L291.5,71.8 L292.1,72.1 L292.7,71.9 L293.3,71.8 L293.9,71.8 L294.5,71.8 L295.1,72.0 L295.7,71.9 L296.3,71.9 L296.9,71.2 L297.4,70.8 L298.0,71.0 L298.6,70.3 L299.2,69.9 L299.8,70.3 L300.4,69.4 L301.0,69.1 L301.6,68.4 L302.2,68.8 L302.8,68.5 L303.4,68.3 L304.0,68.1 L304.6,68.0 L305.2,67.6 L305.7,68.0 L306.3,68.1 L306.9,68.1 L307.5,67.8 L308.1,67.6 L308.7,67.1 L309.3,66.8 L309.9,66.5 L310.5,66.3 L311.1,65.9 L311.7,65.0 L312.3,64.5 L312.9,64.4 L313.4,65.0 L314.0,66.1 L314.6,68.1 L315.2,69.1 L315.8,70.0 L316.4,71.3 L317.0,72.1 L317.6,73.3 L318.2,73.6 L318.8,74.0 L319.4,74.9 L320.0,74.9 L320.6,75.5 L321.2,75.3 L321.7,75.8 L322.3,76.1 L322.9,76.3 L323.5,76.6 L324.1,76.7 L324.7,77.1 L325.3,77.1 L325.9,77.3 L326.5,77.5 L327.1,78.4 L327.7,78.0 L328.3,78.2 L328.9,78.8 L329.4,78.8 L330.0,78.7 L330.6,78.6 L331.2,79.2 L331.8,78.9 L332.4,79.3 L333.0,78.9 L333.6,79.4 L334.2,79.5 L334.8,80.0 L335.4,80.5 L336.0,80.3 L336.6,80.3 L337.1,80.1 L337.7,80.3 L338.3,80.9 L338.9,81.5 L339.5,81.7 L340.1,81.9 L340.7,82.1 L341.3,81.9 L341.9,81.9 L342.5,82.1 L343.1,82.2 L343.7,82.3 L344.3,82.3 L344.9,82.2 L345.4,82.2 L346.0,82.6 L346.6,83.1 L347.2,82.6 L347.8,82.7 L348.4,82.6 L349.0,83.2 L349.6,83.3 L350.2,83.3 L350.8,83.7 L351.4,83.8 L352.0,83.6 L352.6,83.4 L353.1,83.2 L353.7,83.8 L354.3,84.3 L354.9,84.3 L355.5,84.2 L356.1,84.4 L356.7,85.2 L357.3,85.9 L357.9,87.0 L358.5,87.2 L359.1,87.6 L359.7,87.7 L360.3,87.7 L360.9,88.1 L361.4,88.8 L362.0,88.7 L362.6,88.6 L363.2,88.7 L363.8,88.6 L364.4,89.0 L365.0,89.1 L365.6,89.3 L366.2,89.2 L366.8,88.9 L367.4,89.2 L368.0,88.8 L368.6,88.8 L369.1,89.0 L369.7,89.2 L370.3,89.0 L370.9,89.4 L371.5,89.7 L372.1,90.1 L372.7,90.0 L373.3,89.7 L373.9,89.7 L374.5,89.8 L375.1,90.0 L375.7,90.1 L376.3,90.5 L376.9,90.2 L377.4,90.4 L378.0,90.7 L378.6,90.8 L379.2,90.9 L379.8,90.5 L380.4,90.3 L381.0,90.8 L381.6,90.5 L382.2,90.3 L382.8,90.7 L383.4,91.1 L384.0,91.2 L384.6,91.2 L385.1,91.0 L385.7,91.1 L386.3,91.6 L386.9,91.4 L387.5,91.7 L388.1,91.3" fill="none" stroke="#2b858c" stroke-width="1.7" stroke-linejoin="round" />
<path d="M257.7,96.3 L258.3,96.4 L258.9,96.4 L259.5,96.4 L260.1,95.9 L260.7,95.7 L261.3,95.7 L261.9,95.7 L262.5,96.2 L263.1,96.3 L263.7,96.3 L264.3,96.4 L264.9,96.1 L265.4,96.3 L266.0,96.3 L266.6,96.5 L267.2,96.8 L267.8,96.3 L268.4,95.9 L269.0,95.9 L269.6,96.2 L270.2,96.8 L270.8,94.9 L271.4,88.4 L272.0,84.0 L272.6,80.8 L273.2,78.2 L273.7,76.5 L274.3,75.6 L274.9,74.3 L275.5,73.3 L276.1,73.1 L276.7,72.4 L277.3,71.9 L277.9,71.0 L278.5,70.1 L279.1,69.7 L279.7,69.5 L280.3,68.3 L280.9,67.7 L281.4,66.8 L282.0,66.8 L282.6,66.0 L283.2,65.1 L283.8,64.3 L284.4,64.3 L285.0,64.0 L285.6,63.7 L286.2,63.0 L286.8,62.4 L287.4,62.2 L288.0,62.3 L288.6,61.6 L289.2,61.4 L289.7,60.8 L290.3,60.4 L290.9,59.7 L291.5,59.3 L292.1,59.4 L292.7,59.1 L293.3,58.4 L293.9,58.6 L294.5,58.3 L295.1,57.9 L295.7,57.5 L296.3,57.4 L296.9,57.7 L297.4,57.8 L298.0,57.4 L298.6,57.0 L299.2,56.1 L299.8,56.4 L300.4,56.0 L301.0,55.8 L301.6,56.3 L302.2,56.2 L302.8,55.9 L303.4,55.8 L304.0,55.6 L304.6,55.2 L305.2,55.3 L305.7,55.0 L306.3,55.0 L306.9,54.9 L307.5,54.5 L308.1,54.5 L308.7,54.2 L309.3,53.6 L309.9,53.6 L310.5,53.5 L311.1,53.1 L311.7,52.9 L312.3,52.2 L312.9,52.5 L313.4,53.1 L314.0,55.3 L314.6,57.7 L315.2,59.2 L315.8,61.1 L316.4,61.8 L317.0,62.7 L317.6,63.3 L318.2,64.6 L318.8,64.9 L319.4,65.3 L320.0,66.1 L320.6,66.8 L321.2,66.7 L321.7,67.4 L322.3,68.1 L322.9,68.7 L323.5,68.9 L324.1,69.2 L324.7,69.6 L325.3,69.5 L325.9,70.1 L326.5,70.4 L327.1,70.4 L327.7,71.2 L328.3,71.2 L328.9,71.1 L329.4,72.0 L330.0,72.6 L330.6,73.0 L331.2,73.6 L331.8,73.4 L332.4,74.0 L333.0,73.8 L333.6,73.6 L334.2,74.3 L334.8,74.5 L335.4,75.1 L336.0,74.9 L336.6,75.2 L337.1,75.4 L337.7,75.5 L338.3,75.5 L338.9,75.8 L339.5,76.0 L340.1,76.3 L340.7,76.5 L341.3,77.0 L341.9,77.0 L342.5,77.7 L343.1,77.8 L343.7,77.3 L344.3,77.6 L344.9,78.2 L345.4,78.2 L346.0,78.7 L346.6,79.2 L347.2,79.4 L347.8,79.2 L348.4,79.3 L349.0,79.5 L349.6,80.0 L350.2,80.4 L350.8,80.1 L351.4,80.3 L352.0,80.8 L352.6,81.4 L353.1,81.7 L353.7,81.0 L354.3,81.5 L354.9,81.6 L355.5,81.7 L356.1,81.9 L356.7,82.1 L357.3,82.5 L357.9,82.7 L358.5,82.2 L359.1,82.5 L359.7,82.4 L360.3,83.0 L360.9,83.0 L361.4,82.9 L362.0,82.7 L362.6,83.1 L363.2,83.0 L363.8,82.9 L364.4,83.3 L365.0,83.2 L365.6,83.5 L366.2,83.7 L366.8,83.6 L367.4,84.3 L368.0,84.1 L368.6,84.2 L369.1,84.4 L369.7,84.3 L370.3,83.9 L370.9,84.1 L371.5,83.8 L372.1,84.2 L372.7,84.6 L373.3,84.1 L373.9,84.2 L374.5,84.1 L375.1,84.7 L375.7,84.6 L376.3,84.8 L376.9,85.0 L377.4,85.3 L378.0,85.3 L378.6,85.9 L379.2,86.4 L379.8,87.0 L380.4,86.7 L381.0,87.1 L381.6,87.5 L382.2,87.8 L382.8,87.9 L383.4,88.2 L384.0,88.2 L384.6,88.3 L385.1,88.3 L385.7,88.3 L386.3,88.0 L386.9,87.8 L387.5,87.4 L388.1,87.0" fill="none" stroke="#4f72c2" stroke-width="1.7" stroke-linejoin="round" />
<path d="M257.7,95.9 L258.3,96.5 L258.9,96.5 L259.5,96.5 L260.1,96.1 L260.7,96.5 L261.3,96.5 L261.9,96.4 L262.5,96.3 L263.1,95.9 L263.7,96.1 L264.3,95.8 L264.9,96.3 L265.4,96.6 L266.0,96.1 L266.6,95.9 L267.2,95.8 L267.8,95.9 L268.4,95.8 L269.0,96.2 L269.6,95.9 L270.2,96.1 L270.8,91.1 L271.4,83.7 L272.0,78.9 L272.6,74.8 L273.2,70.6 L273.7,67.4 L274.3,64.9 L274.9,62.1 L275.5,59.5 L276.1,58.0 L276.7,56.5 L277.3,55.2 L277.9,53.7 L278.5,53.0 L279.1,51.8 L279.7,50.9 L280.3,50.1 L280.9,49.6 L281.4,49.3 L282.0,49.0 L282.6,48.6 L283.2,48.4 L283.8,48.0 L284.4,47.7 L285.0,46.8 L285.6,46.4 L286.2,46.2 L286.8,46.4 L287.4,45.9 L288.0,45.6 L288.6,45.4 L289.2,45.3 L289.7,45.3 L290.3,44.6 L290.9,44.1 L291.5,43.1 L292.1,43.0 L292.7,42.9 L293.3,42.3 L293.9,42.2 L294.5,42.0 L295.1,41.8 L295.7,41.8 L296.3,41.1 L296.9,40.7 L297.4,40.3 L298.0,40.5 L298.6,40.4 L299.2,40.6 L299.8,40.1 L300.4,40.3 L301.0,39.8 L301.6,39.2 L302.2,38.6 L302.8,38.8 L303.4,38.3 L304.0,38.4 L304.6,38.3 L305.2,38.4 L305.7,37.7 L306.3,37.0 L306.9,37.1 L307.5,37.2 L308.1,37.0 L308.7,36.1 L309.3,35.8 L309.9,35.9 L310.5,36.2 L311.1,36.0 L311.7,35.4 L312.3,34.8 L312.9,35.0 L313.4,36.3 L314.0,39.0 L314.6,42.0 L315.2,43.3 L315.8,45.1 L316.4,46.2 L317.0,47.9 L317.6,49.2 L318.2,49.8 L318.8,50.7 L319.4,51.1 L320.0,51.8 L320.6,52.7 L321.2,53.1 L321.7,53.6 L322.3,54.8 L322.9,54.9 L323.5,55.5 L324.1,56.1 L324.7,57.3 L325.3,57.9 L325.9,58.4 L326.5,58.4 L327.1,59.2 L327.7,59.7 L328.3,60.4 L328.9,60.5 L329.4,60.5 L330.0,61.1 L330.6,61.3 L331.2,61.2 L331.8,61.0 L332.4,61.2 L333.0,61.7 L333.6,62.3 L334.2,62.6 L334.8,62.9 L335.4,62.9 L336.0,63.0 L336.6,62.7 L337.1,63.0 L337.7,63.6 L338.3,63.3 L338.9,63.4 L339.5,63.8 L340.1,64.3 L340.7,65.0 L341.3,65.3 L341.9,65.0 L342.5,65.4 L343.1,65.9 L343.7,65.9 L344.3,65.9 L344.9,66.0 L345.4,66.1 L346.0,66.1 L346.6,66.7 L347.2,66.8 L347.8,67.4 L348.4,67.4 L349.0,67.7 L349.6,67.9 L350.2,67.9 L350.8,68.3 L351.4,68.3 L352.0,68.5 L352.6,68.8 L353.1,69.3 L353.7,69.7 L354.3,70.0 L354.9,70.1 L355.5,70.2 L356.1,69.5 L356.7,69.8 L357.3,69.9 L357.9,70.5 L358.5,70.8 L359.1,71.0 L359.7,70.9 L360.3,71.3 L360.9,70.8 L361.4,71.1 L362.0,70.9 L362.6,71.7 L363.2,71.6 L363.8,71.5 L364.4,71.5 L365.0,71.4 L365.6,71.4 L366.2,71.5 L366.8,72.1 L367.4,72.2 L368.0,72.7 L368.6,72.2 L369.1,72.0 L369.7,72.1 L370.3,72.3 L370.9,72.4 L371.5,71.9 L372.1,71.6 L372.7,72.0 L373.3,71.9 L373.9,72.6 L374.5,73.1 L375.1,73.2 L375.7,73.3 L376.3,73.4 L376.9,73.4 L377.4,72.7 L378.0,73.3 L378.6,73.5 L379.2,73.7 L379.8,73.9 L380.4,73.9 L381.0,73.7 L381.6,74.4 L382.2,74.5 L382.8,74.7 L383.4,74.7 L384.0,75.2 L384.6,75.6 L385.1,76.0 L385.7,75.4 L386.3,75.1 L386.9,74.9 L387.5,75.3 L388.1,75.1" fill="none" stroke="#46296f" stroke-width="1.7" stroke-linejoin="round" />
<line x1="491.25" y1="16.60" x2="491.25" y2="103.40" stroke="#1a1a1a" stroke-width="1.0" />
<line x1="490.75" y1="102.90" x2="621.50" y2="102.90" stroke="#1a1a1a" stroke-width="1.0" />
<line x1="499.40" y1="102.90" x2="499.40" y2="105.90" stroke="#1a1a1a" stroke-width="1.0" />
<text transform="translate(499.40,114.70) scale(1,1.05)" text-anchor="middle" font-size="8" >0</text>
<line x1="515.97" y1="102.90" x2="515.97" y2="104.90" stroke="#1a1a1a" stroke-width="1.0" />
<line x1="532.54" y1="102.90" x2="532.54" y2="105.90" stroke="#1a1a1a" stroke-width="1.0" />
<text transform="translate(532.54,114.70) scale(1,1.05)" text-anchor="middle" font-size="8" >100</text>
<line x1="549.11" y1="102.90" x2="549.11" y2="104.90" stroke="#1a1a1a" stroke-width="1.0" />
<line x1="565.68" y1="102.90" x2="565.68" y2="105.90" stroke="#1a1a1a" stroke-width="1.0" />
<text transform="translate(565.68,114.70) scale(1,1.05)" text-anchor="middle" font-size="8" >200</text>
<line x1="582.25" y1="102.90" x2="582.25" y2="104.90" stroke="#1a1a1a" stroke-width="1.0" />
<line x1="598.82" y1="102.90" x2="598.82" y2="105.90" stroke="#1a1a1a" stroke-width="1.0" />
<text transform="translate(598.82,114.70) scale(1,1.05)" text-anchor="middle" font-size="8" >300</text>
<line x1="615.39" y1="102.90" x2="615.39" y2="104.90" stroke="#1a1a1a" stroke-width="1.0" />
<line x1="488.25" y1="95.80" x2="491.25" y2="95.80" stroke="#1a1a1a" stroke-width="1.0" />
<text transform="translate(487.25,98.70) scale(1,1.05)" text-anchor="end" font-size="8" >0</text>
<line x1="489.25" y1="81.30" x2="491.25" y2="81.30" stroke="#1a1a1a" stroke-width="1.0" />
<line x1="488.25" y1="66.80" x2="491.25" y2="66.80" stroke="#1a1a1a" stroke-width="1.0" />
<text transform="translate(487.25,69.70) scale(1,1.05)" text-anchor="end" font-size="8" >20</text>
<line x1="489.25" y1="52.30" x2="491.25" y2="52.30" stroke="#1a1a1a" stroke-width="1.0" />
<line x1="488.25" y1="37.80" x2="491.25" y2="37.80" stroke="#1a1a1a" stroke-width="1.0" />
<text transform="translate(487.25,40.70) scale(1,1.05)" text-anchor="end" font-size="8" >40</text>
<line x1="489.25" y1="23.30" x2="491.25" y2="23.30" stroke="#1a1a1a" stroke-width="1.0" />
<text x="0" y="0" transform="translate(471.10,59.60) rotate(-90) scale(1,1.05)" text-anchor="middle" font-size="8">Response (RU)</text>
<text transform="translate(557.20,125.00) scale(1,1.05)" text-anchor="middle" font-size="8" >Time (s)</text>
<text transform="translate(498.5,22.7) scale(1,1.05)" font-size="8">K<tspan font-size="5" dy="2.3">D</tspan><tspan dx="-0.5" dy="-2.3">: ND</tspan></text>
<text transform="translate(685.60,21.60) scale(1,1.05)" text-anchor="end" font-size="8" >[Hp(1-1)] (nM)</text>
<line x1="645.60" y1="38.30" x2="662.30" y2="38.30" stroke="#46296f" stroke-width="1.6" />
<text transform="translate(685.50,41.20) scale(1,1.05)" text-anchor="end" font-size="8" >5000</text>
<line x1="645.60" y1="52.30" x2="662.30" y2="52.30" stroke="#4f72c2" stroke-width="1.6" />
<text transform="translate(685.50,55.20) scale(1,1.05)" text-anchor="end" font-size="8" >2500</text>
<line x1="645.60" y1="66.30" x2="662.30" y2="66.30" stroke="#2b858c" stroke-width="1.6" />
<text transform="translate(685.50,69.20) scale(1,1.05)" text-anchor="end" font-size="8" >1250</text>
<line x1="645.60" y1="80.40" x2="662.30" y2="80.40" stroke="#f28c33" stroke-width="1.6" />
<text transform="translate(685.50,83.30) scale(1,1.05)" text-anchor="end" font-size="8" >625</text>
<line x1="645.60" y1="94.40" x2="662.30" y2="94.40" stroke="#e9552f" stroke-width="1.6" />
<text transform="translate(685.50,97.30) scale(1,1.05)" text-anchor="end" font-size="8" >312</text>
<path d="M492.0,95.3 L492.6,95.1 L493.2,95.1 L493.8,95.4 L494.4,95.6 L495.0,95.5 L495.6,95.6 L496.3,95.4 L496.9,95.5 L497.5,95.5 L498.1,95.6 L498.7,95.6 L499.3,95.5 L500.0,95.2 L500.7,94.9 L501.4,95.4 L502.0,95.3 L502.6,95.2 L503.3,95.6 L503.9,95.6 L504.5,94.9 L505.1,95.0 L505.8,95.0 L506.4,95.3 L507.0,95.3 L507.6,95.1 L508.3,94.6 L508.9,94.4 L509.5,94.7 L510.1,95.0 L510.8,94.9 L511.4,95.1 L512.0,95.3 L512.6,95.6 L513.3,95.9 L513.9,96.0 L514.5,96.0 L515.1,96.6 L515.8,97.1 L516.4,97.1 L517.0,97.3 L517.6,97.4 L518.2,97.5 L518.9,97.5 L519.5,97.3 L520.1,97.5 L520.7,97.8 L521.3,97.5 L521.9,98.0 L522.5,98.4 L523.1,98.6 L523.8,98.8 L524.4,98.6 L525.0,98.4 L525.6,98.2 L526.2,98.0 L526.8,98.2 L527.4,98.3 L528.0,98.5 L528.7,98.1 L529.3,98.8 L529.9,99.3 L530.5,99.1 L531.1,99.1 L531.8,99.1 L532.4,99.1 L533.1,99.0 L533.7,98.9 L534.4,98.8 L535.0,98.9 L535.7,99.0 L536.3,99.1 L537.0,98.9 L537.6,99.0 L538.3,99.1 L538.9,99.3 L539.5,99.0 L540.1,99.1 L540.8,99.3 L541.4,99.3 L542.0,99.1 L542.6,98.9 L543.3,98.8 L543.9,99.0 L544.5,99.2 L545.1,99.0 L545.8,98.7 L546.4,98.8 L547.0,98.9 L547.6,98.8 L548.3,98.8 L548.9,99.0 L549.5,99.4 L550.1,99.2 L550.8,99.2 L551.4,99.6 L552.0,99.5 L552.6,99.8 L553.3,100.0 L553.9,100.2 L554.6,99.9 L555.3,99.9 L556.0,99.8 L556.6,99.9 L557.3,99.7 L558.0,99.9 L558.6,99.5 L559.2,99.6 L559.9,99.8 L560.5,100.1 L561.1,99.9 L561.7,100.1 L562.3,100.0 L562.9,100.2 L563.5,100.6 L564.2,100.3 L564.8,100.4 L565.4,100.1 L566.0,100.5 L566.6,100.8 L567.3,100.7 L567.9,100.5 L568.5,100.8 L569.1,101.1 L569.8,101.3 L570.4,101.5 L571.0,101.0 L571.6,101.0 L572.3,101.5 L572.9,101.3 L573.5,101.7 L574.1,102.2 L574.8,102.3 L575.4,102.3 L576.0,102.0 L576.6,101.7 L577.2,101.7 L577.8,101.7 L578.4,101.7 L579.0,101.9 L579.6,101.8 L580.2,101.8 L580.8,101.9 L581.4,101.8 L582.0,102.2 L582.6,102.1 L583.2,102.0 L583.8,101.8 L584.4,101.6 L585.0,102.0 L585.6,101.9 L586.2,101.6 L586.8,101.5 L587.4,101.5 L588.0,101.5 L588.6,101.8 L589.2,101.5 L589.8,101.7 L590.4,101.7 L591.0,101.4 L591.6,101.5 L592.2,101.6 L592.8,101.7 L593.4,101.6 L594.0,101.7 L594.6,101.3 L595.2,101.2 L595.8,101.5 L596.4,101.8 L597.0,101.7 L597.6,101.5 L598.2,101.8 L598.8,101.2 L599.4,101.2 L600.0,101.5 L600.6,101.6 L601.2,101.3 L601.9,101.0 L602.5,101.5 L603.1,101.5 L603.7,101.2 L604.3,101.3 L604.9,101.5 L605.5,100.9 L606.1,101.3 L606.7,101.4 L607.3,100.9 L607.9,101.2 L608.5,100.8 L609.2,101.2 L609.8,101.3 L610.4,101.7 L611.0,101.3 L611.6,101.2 L612.2,101.4 L612.8,101.1 L613.5,100.8 L614.1,100.7 L614.7,100.7 L615.3,100.4 L616.0,100.6 L616.6,100.6 L617.2,100.6 L617.8,100.8 L618.5,100.5 L619.1,100.7 L619.7,100.2" fill="none" stroke="#e9552f" stroke-width="1.7" stroke-linejoin="round" />
<path d="M492.0,95.4 L492.6,95.6 L493.2,95.1 L493.8,95.3 L494.4,95.4 L495.0,95.3 L495.6,95.2 L496.3,95.3 L496.9,95.2 L497.5,94.8 L498.1,95.0 L498.7,95.1 L499.3,95.1 L500.0,94.5 L500.7,94.4 L501.4,94.5 L502.0,94.4 L502.6,94.3 L503.3,94.6 L503.9,94.7 L504.5,94.7 L505.1,94.7 L505.8,94.4 L506.4,94.3 L507.0,94.4 L507.6,94.1 L508.3,94.1 L508.9,94.1 L509.5,94.4 L510.2,94.5 L510.8,94.9 L511.5,95.1 L512.1,95.4 L512.8,95.8 L513.4,96.0 L514.1,96.3 L514.8,96.1 L515.4,96.1 L516.0,96.1 L516.6,96.4 L517.2,96.9 L517.9,96.5 L518.5,96.7 L519.1,96.6 L519.7,96.6 L520.3,96.7 L520.9,97.0 L521.5,97.1 L522.1,97.4 L522.8,97.1 L523.4,97.4 L524.0,97.6 L524.6,97.5 L525.2,97.6 L525.8,97.4 L526.4,97.3 L527.0,97.3 L527.7,97.3 L528.3,98.1 L528.9,97.9 L529.5,98.3 L530.1,98.0 L530.8,97.9 L531.4,97.9 L532.0,97.5 L532.6,97.6 L533.2,97.5 L533.9,97.0 L534.5,97.2 L535.1,97.2 L535.8,97.2 L536.4,97.4 L537.0,97.0 L537.6,97.0 L538.2,97.0 L538.9,96.6 L539.5,96.8 L540.1,96.3 L540.8,96.0 L541.4,96.1 L542.0,95.8 L542.6,95.8 L543.2,95.4 L543.9,95.5 L544.5,95.2 L545.1,95.3 L545.8,94.9 L546.4,95.0 L547.0,94.9 L547.6,94.9 L548.2,94.7 L548.9,94.7 L549.5,94.2 L550.1,93.7 L550.8,93.8 L551.4,93.7 L552.0,93.6 L552.6,93.8 L553.3,93.4 L553.9,93.4 L554.6,93.4 L555.2,93.3 L555.9,93.6 L556.5,93.6 L557.2,93.5 L557.8,93.3 L558.5,93.6 L559.1,93.5 L559.8,93.6 L560.4,93.6 L561.0,93.1 L561.6,92.9 L562.2,93.0 L562.8,93.1 L563.4,93.2 L564.0,93.3 L564.6,93.3 L565.2,93.0 L565.8,92.8 L566.4,92.9 L567.0,92.6 L567.6,92.8 L568.2,92.2 L568.8,92.4 L569.4,92.3 L570.0,91.8 L570.6,92.1 L571.2,92.1 L571.8,92.0 L572.5,91.7 L573.1,91.7 L573.7,92.0 L574.3,91.7 L574.9,90.9 L575.5,91.0 L576.1,90.9 L576.7,91.1 L577.4,91.1 L578.0,91.0 L578.6,90.9 L579.2,91.3 L579.8,90.9 L580.4,91.4 L581.0,91.1 L581.6,90.8 L582.3,91.0 L582.9,91.1 L583.5,90.7 L584.1,90.9 L584.8,90.6 L585.4,90.6 L586.1,91.2 L586.8,91.3 L587.5,91.1 L588.1,91.5 L588.8,91.9 L589.4,91.6 L590.0,90.9 L590.7,90.7 L591.3,90.7 L591.9,90.7 L592.5,90.8 L593.2,90.3 L593.8,89.9 L594.4,89.6 L595.0,89.6 L595.7,89.1 L596.3,89.2 L596.9,88.5 L597.5,88.9 L598.2,88.8 L598.8,89.0 L599.4,89.2 L600.0,88.9 L600.7,89.0 L601.3,89.1 L601.9,89.3 L602.5,89.0 L603.1,88.9 L603.8,88.6 L604.4,89.5 L605.0,89.4 L605.6,89.3 L606.3,89.0 L606.9,89.4 L607.5,89.3 L608.1,89.6 L608.7,89.7 L609.3,89.6 L609.9,89.7 L610.5,89.3 L611.2,89.3 L611.8,89.2 L612.4,89.0 L613.0,89.2 L613.6,89.2 L614.2,89.6 L614.8,88.8 L615.4,88.9 L616.0,88.9 L616.7,89.0 L617.3,89.2 L617.9,89.4 L618.5,89.4 L619.1,89.3 L619.7,89.4" fill="none" stroke="#f28c33" stroke-width="1.7" stroke-linejoin="round" />
<path d="M492.0,95.6 L492.6,95.6 L493.2,95.2 L493.8,95.3 L494.4,95.0 L495.0,95.0 L495.6,95.2 L496.3,95.3 L496.9,95.4 L497.5,95.3 L498.1,95.3 L498.7,95.2 L499.3,95.4 L500.0,93.1 L500.6,93.4 L501.2,93.5 L501.8,93.0 L502.5,92.8 L503.1,92.6 L503.7,92.7 L504.3,93.1 L504.9,93.1 L505.5,92.4 L506.2,92.2 L506.8,92.0 L507.4,92.3 L508.0,92.4 L508.6,92.5 L509.2,92.8 L509.9,92.5 L510.5,92.3 L511.1,92.7 L511.7,92.7 L512.3,92.4 L513.0,91.9 L513.6,91.7 L514.2,91.4 L514.8,91.8 L515.4,92.0 L516.1,92.3 L516.7,92.2 L517.3,92.0 L517.9,92.0 L518.5,92.6 L519.1,92.1 L519.7,92.3 L520.3,92.4 L520.9,92.6 L521.5,92.5 L522.1,92.7 L522.8,92.9 L523.4,92.8 L524.0,92.7 L524.6,92.8 L525.2,92.6 L525.8,92.7 L526.4,92.8 L527.0,93.0 L527.6,93.4 L528.2,93.6 L528.9,93.4 L529.5,93.6 L530.1,93.6 L530.7,93.8 L531.4,93.7 L532.0,93.8 L532.6,93.7 L533.2,93.6 L533.9,94.0 L534.5,94.3 L535.1,94.4 L535.8,94.4 L536.4,94.4 L537.0,94.3 L537.6,94.0 L538.3,94.3 L538.9,94.5 L539.5,94.4 L540.1,94.3 L540.8,94.8 L541.4,94.4 L542.0,94.9 L542.6,95.0 L543.3,95.5 L543.9,95.1 L544.5,95.1 L545.1,95.0 L545.8,95.0 L546.4,95.0 L547.0,94.9 L547.6,95.3 L548.3,95.1 L548.9,95.1 L549.5,95.3 L550.1,95.3 L550.8,95.2 L551.4,95.4 L552.0,95.4 L552.6,95.2 L553.2,95.3 L553.9,95.3 L554.5,95.8 L555.1,95.4 L555.8,95.7 L556.4,95.4 L557.0,95.4 L557.7,95.7 L558.4,96.2 L559.1,96.7 L559.8,97.4 L560.4,97.2 L561.0,97.6 L561.6,97.8 L562.3,98.0 L562.9,97.8 L563.5,98.1 L564.1,98.1 L564.8,98.3 L565.4,98.3 L566.0,98.3 L566.6,98.4 L567.3,98.4 L567.9,98.0 L568.5,98.0 L569.1,98.1 L569.8,97.5 L570.4,97.7 L571.0,97.1 L571.6,97.1 L572.3,97.1 L572.9,97.2 L573.5,97.0 L574.1,96.6 L574.8,96.3 L575.4,96.1 L576.0,96.4 L576.6,96.3 L577.2,96.2 L577.8,96.4 L578.4,96.2 L579.0,96.2 L579.6,96.2 L580.2,96.6 L580.9,96.9 L581.5,96.6 L582.1,96.2 L582.7,96.3 L583.3,96.4 L583.9,96.5 L584.5,96.6 L585.1,96.4 L585.7,96.6 L586.4,96.7 L587.0,96.6 L587.6,96.5 L588.2,96.3 L588.8,96.5 L589.4,96.1 L590.0,95.9 L590.7,95.7 L591.3,95.3 L591.9,95.5 L592.5,95.4 L593.2,95.2 L593.8,95.3 L594.4,94.7 L595.0,94.7 L595.7,94.6 L596.3,94.7 L596.9,94.4 L597.5,94.7 L598.1,94.8 L598.7,95.1 L599.3,95.3 L599.9,95.3 L600.5,95.7 L601.1,95.5 L601.7,95.3 L602.3,95.2 L602.9,95.1 L603.5,95.2 L604.1,94.9 L604.7,95.2 L605.3,95.4 L605.9,95.6 L606.5,95.4 L607.1,95.6 L607.7,95.3 L608.3,95.2 L608.9,94.7 L609.5,94.6 L610.1,94.6 L610.7,95.0 L611.3,95.0 L611.9,94.7 L612.5,94.8 L613.1,94.8 L613.7,94.7 L614.3,94.6 L614.9,94.5 L615.5,94.3 L616.1,94.0 L616.7,94.1 L617.3,94.4 L617.9,94.6 L618.5,94.4 L619.1,94.1 L619.7,94.1" fill="none" stroke="#2b858c" stroke-width="1.7" stroke-linejoin="round" />
<path d="M492.0,95.5 L492.6,95.7 L493.2,95.7 L493.8,95.5 L494.4,95.6 L495.0,95.5 L495.6,95.6 L496.3,95.5 L496.9,95.2 L497.5,95.3 L498.1,95.6 L498.7,95.3 L499.3,95.4 L500.0,92.6 L500.6,92.4 L501.2,92.1 L501.8,92.5 L502.4,92.5 L503.0,92.5 L503.6,92.0 L504.2,92.2 L504.8,91.6 L505.4,91.4 L506.0,91.5 L506.6,91.9 L507.2,91.6 L507.8,91.5 L508.4,91.7 L509.0,91.3 L509.6,91.7 L510.2,91.9 L510.8,91.8 L511.4,92.0 L512.0,92.2 L512.6,92.3 L513.2,92.5 L513.8,92.8 L514.5,92.6 L515.1,92.7 L515.7,92.7 L516.3,93.0 L516.9,93.0 L517.5,93.2 L518.2,93.3 L518.8,93.3 L519.4,93.8 L520.0,93.7 L520.6,94.0 L521.2,94.0 L521.8,94.1 L522.5,93.9 L523.1,94.0 L523.7,94.0 L524.3,93.8 L524.9,93.8 L525.5,93.8 L526.1,93.8 L526.8,94.1 L527.4,93.8 L528.0,93.5 L528.6,93.3 L529.2,93.4 L529.8,93.5 L530.5,93.7 L531.1,93.9 L531.7,94.3 L532.3,94.3 L532.9,94.4 L533.6,94.2 L534.2,94.4 L534.9,94.7 L535.5,94.9 L536.1,94.4 L536.8,94.7 L537.4,95.1 L538.1,95.2 L538.7,94.8 L539.4,94.8 L540.0,95.1 L540.6,95.2 L541.2,95.0 L541.8,94.9 L542.5,95.2 L543.1,94.9 L543.7,95.4 L544.3,95.4 L544.9,95.4 L545.5,95.1 L546.2,95.1 L546.8,95.4 L547.4,95.1 L548.0,95.7 L548.6,95.4 L549.2,95.2 L549.8,95.4 L550.5,95.6 L551.1,95.8 L551.7,95.7 L552.3,95.7 L552.9,95.7 L553.5,95.7 L554.2,95.2 L554.8,95.7 L555.4,95.9 L556.0,96.0 L556.6,96.1 L557.2,96.5 L557.9,96.7 L558.5,97.0 L558.8,87.7 L559.1,98.1 L559.7,98.3 L560.3,98.3 L560.9,98.4 L561.5,99.0 L562.1,98.8 L562.7,99.0 L563.3,99.0 L563.9,99.4 L564.5,99.3 L565.2,99.1 L565.8,99.5 L566.4,99.7 L567.0,99.8 L567.6,100.2 L568.2,100.1 L568.8,100.2 L569.4,100.4 L570.0,100.7 L570.6,100.5 L571.2,100.7 L571.8,101.1 L572.5,100.8 L573.1,101.1 L573.7,100.4 L574.3,100.7 L574.9,100.5 L575.5,100.5 L576.1,100.4 L576.7,100.3 L577.4,100.0 L578.0,100.1 L578.6,100.5 L579.2,100.6 L579.8,100.4 L580.4,100.3 L581.0,100.1 L581.6,99.9 L582.3,100.4 L582.9,100.5 L583.5,100.4 L584.1,100.2 L584.7,99.9 L585.3,100.3 L585.9,100.3 L586.6,100.0 L587.2,100.2 L587.8,99.8 L588.4,100.0 L589.0,99.7 L589.6,99.6 L590.2,99.8 L590.8,99.8 L591.5,99.9 L592.1,99.6 L592.7,99.9 L593.3,100.0 L593.9,99.8 L594.5,99.7 L595.1,99.4 L595.7,99.3 L596.4,99.0 L597.0,99.1 L597.6,99.2 L598.2,99.5 L598.8,99.5 L599.4,99.4 L600.0,99.1 L600.6,98.9 L601.2,98.7 L601.9,98.6 L602.5,98.1 L603.1,98.4 L603.7,98.0 L604.3,97.9 L604.9,98.0 L605.5,97.8 L606.1,98.2 L606.7,98.0 L607.4,98.2 L608.0,98.2 L608.6,97.8 L609.2,97.7 L609.8,97.8 L610.4,97.5 L611.0,97.5 L611.6,97.5 L612.3,97.7 L612.9,97.7 L613.5,97.9 L614.1,98.3 L614.7,98.6 L615.4,98.6 L616.0,98.6 L616.6,98.9 L617.2,98.8 L617.8,98.7 L618.5,99.1 L619.1,99.0 L619.7,99.2" fill="none" stroke="#4f72c2" stroke-width="1.7" stroke-linejoin="round" />
<path d="M492.0,95.7 L492.6,95.4 L493.2,95.8 L493.8,95.5 L494.4,95.7 L495.0,95.9 L495.6,95.5 L496.3,95.8 L496.9,95.5 L497.5,95.1 L498.1,95.4 L498.7,95.6 L499.3,95.5 L500.0,91.5 L500.6,91.6 L501.2,91.5 L501.8,91.5 L502.4,91.4 L503.0,91.0 L503.6,91.0 L504.2,91.4 L504.8,91.6 L505.4,91.3 L506.0,90.9 L506.7,91.1 L507.4,91.4 L508.0,91.5 L508.7,91.2 L509.4,91.4 L510.1,91.5 L510.8,91.8 L511.4,92.1 L512.0,92.2 L512.6,92.5 L513.3,92.4 L513.9,92.8 L514.5,92.7 L515.1,92.9 L515.8,93.2 L516.4,93.1 L517.0,93.1 L517.7,92.9 L518.3,93.2 L518.9,93.4 L519.6,93.5 L520.2,93.8 L520.8,93.5 L521.5,93.8 L522.1,94.0 L522.7,94.1 L523.4,94.5 L524.0,94.9 L524.6,94.7 L525.3,94.5 L525.9,94.5 L526.6,94.7 L527.2,95.0 L527.8,94.8 L528.5,95.2 L529.1,95.0 L529.7,95.3 L530.4,95.4 L531.0,95.5 L531.7,96.0 L532.3,95.8 L532.9,95.8 L533.5,96.0 L534.1,96.3 L534.7,96.0 L535.3,96.3 L535.9,96.3 L536.5,96.7 L537.1,97.1 L537.7,97.2 L538.3,97.2 L538.9,97.4 L539.5,96.9 L540.1,97.4 L540.8,97.8 L541.4,98.0 L542.0,98.0 L542.6,98.1 L543.3,98.3 L543.9,98.7 L544.5,98.8 L545.1,99.2 L545.8,98.7 L546.4,98.9 L547.0,99.1 L547.6,99.1 L548.3,98.8 L548.9,98.8 L549.5,99.2 L550.1,98.9 L550.8,98.8 L551.4,98.8 L552.0,98.8 L552.7,99.0 L553.3,99.0 L554.0,98.5 L554.7,98.8 L555.3,98.5 L556.0,98.3 L556.6,98.8 L557.2,98.8 L557.9,98.5 L558.5,98.6 L558.8,87.7 L559.2,102.1 L559.8,102.0 L560.5,102.2 L561.1,102.1 L561.8,101.6 L562.4,102.2 L563.1,101.6 L563.7,101.5 L564.4,101.3 L565.0,101.3 L565.6,101.2 L566.2,101.3 L566.8,101.8 L567.4,101.7 L568.0,101.4 L568.7,101.5 L569.3,101.4 L569.9,101.4 L570.5,101.5 L571.1,101.7 L571.7,101.7 L572.3,101.9 L572.9,101.9 L573.5,101.6 L574.1,102.0 L574.8,101.9 L575.4,102.2 L576.0,102.0 L576.6,102.1 L577.2,102.1 L577.8,101.4 L578.4,101.3 L579.0,101.3 L579.6,101.8 L580.2,101.4 L580.8,101.8 L581.4,102.0 L582.0,102.1 L582.7,102.1 L583.3,101.9 L583.9,101.8 L584.5,101.9 L585.1,101.9 L585.7,102.0 L586.3,101.8 L586.9,101.6 L587.5,101.5 L588.1,101.7 L588.7,101.3 L589.4,101.2 L590.0,101.3 L590.6,101.3 L591.2,101.4 L591.8,100.9 L592.4,101.1 L593.0,101.2 L593.6,101.6 L594.2,101.2 L594.8,101.3 L595.4,101.6 L596.0,101.7 L596.6,102.0 L597.2,102.1 L597.8,101.7 L598.4,101.9 L599.0,101.7 L599.6,101.6 L600.2,102.0 L600.8,101.8 L601.4,101.6 L602.0,101.6 L602.6,101.5 L603.2,101.8 L603.8,101.9 L604.4,102.2 L605.0,102.2 L605.6,101.9 L606.2,102.1 L606.8,101.9 L607.4,101.8 L608.0,101.8 L608.6,101.9 L609.2,102.2 L609.8,102.0 L610.4,102.0 L611.0,102.0 L611.6,101.7 L612.2,101.6 L612.8,101.7 L613.5,101.8 L614.1,101.9 L614.7,101.9 L615.3,101.9 L616.0,101.7 L616.6,101.8 L617.2,101.5 L617.8,101.2 L618.5,101.3 L619.1,101.1 L619.7,101.5" fill="none" stroke="#46296f" stroke-width="1.7" stroke-linejoin="round" />
<line x1="26.45" y1="146.00" x2="26.45" y2="232.90" stroke="#1a1a1a" stroke-width="1.0" />
<line x1="25.95" y1="232.40" x2="156.90" y2="232.40" stroke="#1a1a1a" stroke-width="1.0" />
<line x1="44.40" y1="232.40" x2="44.40" y2="235.40" stroke="#1a1a1a" stroke-width="1.0" />
<text transform="translate(44.40,243.90) scale(1,1.05)" text-anchor="middle" font-size="8" >0</text>
<line x1="62.16" y1="232.40" x2="62.16" y2="234.40" stroke="#1a1a1a" stroke-width="1.0" />
<line x1="79.92" y1="232.40" x2="79.92" y2="235.40" stroke="#1a1a1a" stroke-width="1.0" />
<text transform="translate(79.92,243.90) scale(1,1.05)" text-anchor="middle" font-size="8" >100</text>
<line x1="97.68" y1="232.40" x2="97.68" y2="234.40" stroke="#1a1a1a" stroke-width="1.0" />
<line x1="115.44" y1="232.40" x2="115.44" y2="235.40" stroke="#1a1a1a" stroke-width="1.0" />
<text transform="translate(115.44,243.90) scale(1,1.05)" text-anchor="middle" font-size="8" >200</text>
<line x1="133.20" y1="232.40" x2="133.20" y2="234.40" stroke="#1a1a1a" stroke-width="1.0" />
<line x1="150.96" y1="232.40" x2="150.96" y2="235.40" stroke="#1a1a1a" stroke-width="1.0" />
<text transform="translate(150.96,243.90) scale(1,1.05)" text-anchor="middle" font-size="8" >300</text>
<line x1="23.45" y1="225.50" x2="26.45" y2="225.50" stroke="#1a1a1a" stroke-width="1.0" />
<line x1="24.45" y1="214.41" x2="26.45" y2="214.41" stroke="#1a1a1a" stroke-width="1.0" />
<line x1="23.45" y1="203.33" x2="26.45" y2="203.33" stroke="#1a1a1a" stroke-width="1.0" />
<text transform="translate(22.45,206.23) scale(1,1.05)" text-anchor="end" font-size="8" >10</text>
<line x1="24.45" y1="192.25" x2="26.45" y2="192.25" stroke="#1a1a1a" stroke-width="1.0" />
<line x1="23.45" y1="181.16" x2="26.45" y2="181.16" stroke="#1a1a1a" stroke-width="1.0" />
<text transform="translate(22.45,184.06) scale(1,1.05)" text-anchor="end" font-size="8" >20</text>
<line x1="24.45" y1="170.07" x2="26.45" y2="170.07" stroke="#1a1a1a" stroke-width="1.0" />
<line x1="23.45" y1="158.99" x2="26.45" y2="158.99" stroke="#1a1a1a" stroke-width="1.0" />
<text transform="translate(22.45,161.89) scale(1,1.05)" text-anchor="end" font-size="8" >30</text>
<text x="0" y="0" transform="translate(6.80,189.70) rotate(-90) scale(1,1.05)" text-anchor="middle" font-size="8">Response (RU)</text>
<text transform="translate(92.00,254.40) scale(1,1.05)" text-anchor="middle" font-size="8" >Time (s)</text>
<text transform="translate(33.70,151.70) scale(1,1.05)" font-size="8">K<tspan font-size="5" dy="2.3">D</tspan><tspan dx="-0.5" dy="-2.3">: 766 nM ± 15.2</tspan></text>
<text transform="translate(219.60,150.60) scale(1,1.05)" text-anchor="end" font-size="8" >[Hp(1-1)Hb] (nM)</text>
<line x1="181.00" y1="167.50" x2="198.00" y2="167.50" stroke="#46296f" stroke-width="1.6" />
<text transform="translate(219.90,170.40) scale(1,1.05)" text-anchor="end" font-size="8" >2500</text>
<line x1="181.00" y1="181.50" x2="198.00" y2="181.50" stroke="#4f72c2" stroke-width="1.6" />
<text transform="translate(219.90,184.40) scale(1,1.05)" text-anchor="end" font-size="8" >1250</text>
<line x1="181.00" y1="195.60" x2="198.00" y2="195.60" stroke="#2b858c" stroke-width="1.6" />
<text transform="translate(219.90,198.50) scale(1,1.05)" text-anchor="end" font-size="8" >625</text>
<line x1="181.00" y1="209.60" x2="198.00" y2="209.60" stroke="#f28c33" stroke-width="1.6" />
<text transform="translate(219.90,212.50) scale(1,1.05)" text-anchor="end" font-size="8" >312</text>
<line x1="181.00" y1="223.70" x2="198.00" y2="223.70" stroke="#e9552f" stroke-width="1.6" />
<text transform="translate(219.90,226.60) scale(1,1.05)" text-anchor="end" font-size="8" >156</text>
<path d="M44.4,225.5 L44.9,225.5 L45.5,219.9 L46.0,216.2 L46.5,214.2 L47.1,213.1 L47.6,212.5 L48.1,212.2 L48.7,212.0 L49.2,211.9 L49.7,211.8 L50.3,211.8 L50.8,211.8 L51.3,211.8 L51.9,211.8 L52.4,211.8 L52.9,211.8 L53.5,211.8 L54.0,211.8 L54.5,211.8 L55.1,211.8 L55.6,211.8 L56.1,211.8 L56.7,211.8 L57.2,211.8 L57.7,211.8 L58.3,211.8 L58.8,211.8 L59.3,211.8 L59.9,211.8 L60.4,211.8 L60.9,211.8 L61.4,211.8 L62.0,211.8 L62.5,211.8 L63.0,211.8 L63.6,211.8 L64.1,211.8 L64.6,211.8 L65.2,211.8 L65.7,211.8 L66.2,211.8 L66.8,211.8 L67.3,211.8 L67.8,211.8 L68.4,211.8 L68.9,211.8 L69.4,211.8 L70.0,211.8 L70.5,211.8 L71.0,211.8 L71.6,211.8 L72.1,211.8 L72.6,211.8 L73.2,211.8 L73.7,211.8 L74.2,211.8 L74.8,211.8 L75.3,211.8 L75.8,211.8 L76.4,211.8 L76.9,211.8 L77.4,211.8 L78.0,211.8 L78.5,211.8 L79.0,211.8 L79.6,211.8 L80.1,211.8 L80.6,211.8 L81.2,211.8 L81.7,211.8 L82.2,211.8 L82.8,211.8 L83.3,211.8 L83.8,211.8 L84.4,211.8 L84.9,211.8 L85.4,211.8 L86.0,213.1 L86.5,216.3 L87.0,218.7 L87.6,220.4 L88.1,221.8 L88.6,222.7 L89.2,223.4 L89.7,224.0 L90.2,224.4 L90.8,224.7 L91.3,224.9 L91.8,225.0 L92.4,225.2 L92.9,225.2 L93.4,225.3 L94.0,225.4 L94.5,225.4 L95.0,225.4 L95.5,225.4 L96.1,225.5 L96.6,225.5 L97.1,225.5 L97.7,225.5 L98.2,225.5 L98.7,225.5 L99.3,225.5 L99.8,225.5 L100.3,225.5 L100.9,225.5 L101.4,225.5 L101.9,225.5 L102.5,225.5 L103.0,225.5 L103.5,225.5 L104.1,225.5 L104.6,225.5 L105.1,225.5 L105.7,225.5 L106.2,225.5 L106.7,225.5 L107.3,225.5 L107.8,225.5 L108.3,225.5 L108.9,225.5 L109.4,225.5 L109.9,225.5 L110.5,225.5 L111.0,225.5 L111.5,225.5 L112.1,225.5 L112.6,225.5 L113.1,225.5 L113.7,225.5 L114.2,225.5 L114.7,225.5 L115.3,225.5 L115.8,225.5 L116.3,225.5 L116.9,225.5 L117.4,225.5 L117.9,225.5 L118.5,225.5 L119.0,225.5 L119.5,225.5 L120.1,225.5 L120.6,225.5 L121.1,225.5 L121.7,225.5 L122.2,225.5 L122.7,225.5 L123.3,225.5 L123.8,225.5 L124.3,225.5 L124.9,225.5 L125.4,225.5 L125.9,225.5 L126.5,225.5 L127.0,225.5 L127.5,225.5 L128.0,225.5 L128.6,225.5 L129.1,225.5 L129.6,225.5 L130.2,225.5 L130.7,225.5 L131.2,225.5 L131.8,225.5 L132.3,225.5 L132.8,225.5 L133.4,225.5 L133.9,225.5 L134.4,225.5 L135.0,225.5 L135.5,225.5 L136.0,225.5 L136.6,225.5 L137.1,225.5 L137.6,225.5 L138.2,225.5 L138.7,225.5 L139.2,225.5 L139.8,225.5 L140.3,225.5 L140.8,225.5 L141.4,225.5 L141.9,225.5 L142.4,225.5 L143.0,225.5 L143.5,225.5 L144.0,225.5 L144.6,225.5 L145.1,225.5 L145.6,225.5 L146.2,225.5 L146.7,225.5 L147.2,225.5 L147.8,225.5 L148.3,225.5 L148.8,225.5 L149.4,225.5 L149.9,225.5 L150.4,225.5 L151.0,225.5" fill="none" stroke="#6a6a6a" stroke-width="1.1" stroke-linejoin="round" stroke-dasharray="3.3,2.3"/>
<path d="M44.4,225.5 L44.9,225.5 L45.5,216.6 L46.0,210.7 L46.5,207.5 L47.1,205.7 L47.6,204.7 L48.1,204.2 L48.7,203.9 L49.2,203.7 L49.7,203.7 L50.3,203.6 L50.8,203.6 L51.3,203.6 L51.9,203.6 L52.4,203.6 L52.9,203.6 L53.5,203.6 L54.0,203.6 L54.5,203.6 L55.1,203.6 L55.6,203.6 L56.1,203.6 L56.7,203.6 L57.2,203.6 L57.7,203.6 L58.3,203.6 L58.8,203.6 L59.3,203.6 L59.9,203.6 L60.4,203.6 L60.9,203.6 L61.4,203.6 L62.0,203.6 L62.5,203.6 L63.0,203.6 L63.6,203.6 L64.1,203.6 L64.6,203.6 L65.2,203.6 L65.7,203.6 L66.2,203.6 L66.8,203.6 L67.3,203.6 L67.8,203.6 L68.4,203.6 L68.9,203.6 L69.4,203.6 L70.0,203.6 L70.5,203.6 L71.0,203.6 L71.6,203.6 L72.1,203.6 L72.6,203.6 L73.2,203.6 L73.7,203.6 L74.2,203.6 L74.8,203.6 L75.3,203.6 L75.8,203.6 L76.4,203.6 L76.9,203.6 L77.4,203.6 L78.0,203.6 L78.5,203.6 L79.0,203.6 L79.6,203.6 L80.1,203.6 L80.6,203.6 L81.2,203.6 L81.7,203.6 L82.2,203.6 L82.8,203.6 L83.3,203.6 L83.8,203.6 L84.4,203.6 L84.9,203.6 L85.4,203.6 L86.0,205.6 L86.5,210.8 L87.0,214.6 L87.6,217.4 L88.1,219.5 L88.6,221.1 L89.2,222.2 L89.7,223.1 L90.2,223.7 L90.8,224.2 L91.3,224.5 L91.8,224.8 L92.4,225.0 L92.9,225.1 L93.4,225.2 L94.0,225.3 L94.5,225.3 L95.0,225.4 L95.5,225.4 L96.1,225.4 L96.6,225.5 L97.1,225.5 L97.7,225.5 L98.2,225.5 L98.7,225.5 L99.3,225.5 L99.8,225.5 L100.3,225.5 L100.9,225.5 L101.4,225.5 L101.9,225.5 L102.5,225.5 L103.0,225.5 L103.5,225.5 L104.1,225.5 L104.6,225.5 L105.1,225.5 L105.7,225.5 L106.2,225.5 L106.7,225.5 L107.3,225.5 L107.8,225.5 L108.3,225.5 L108.9,225.5 L109.4,225.5 L109.9,225.5 L110.5,225.5 L111.0,225.5 L111.5,225.5 L112.1,225.5 L112.6,225.5 L113.1,225.5 L113.7,225.5 L114.2,225.5 L114.7,225.5 L115.3,225.5 L115.8,225.5 L116.3,225.5 L116.9,225.5 L117.4,225.5 L117.9,225.5 L118.5,225.5 L119.0,225.5 L119.5,225.5 L120.1,225.5 L120.6,225.5 L121.1,225.5 L121.7,225.5 L122.2,225.5 L122.7,225.5 L123.3,225.5 L123.8,225.5 L124.3,225.5 L124.9,225.5 L125.4,225.5 L125.9,225.5 L126.5,225.5 L127.0,225.5 L127.5,225.5 L128.0,225.5 L128.6,225.5 L129.1,225.5 L129.6,225.5 L130.2,225.5 L130.7,225.5 L131.2,225.5 L131.8,225.5 L132.3,225.5 L132.8,225.5 L133.4,225.5 L133.9,225.5 L134.4,225.5 L135.0,225.5 L135.5,225.5 L136.0,225.5 L136.6,225.5 L137.1,225.5 L137.6,225.5 L138.2,225.5 L138.7,225.5 L139.2,225.5 L139.8,225.5 L140.3,225.5 L140.8,225.5 L141.4,225.5 L141.9,225.5 L142.4,225.5 L143.0,225.5 L143.5,225.5 L144.0,225.5 L144.6,225.5 L145.1,225.5 L145.6,225.5 L146.2,225.5 L146.7,225.5 L147.2,225.5 L147.8,225.5 L148.3,225.5 L148.8,225.5 L149.4,225.5 L149.9,225.5 L150.4,225.5 L151.0,225.5" fill="none" stroke="#6a6a6a" stroke-width="1.1" stroke-linejoin="round" stroke-dasharray="3.3,2.3"/>
<path d="M44.4,225.5 L44.9,225.5 L45.5,212.1 L46.0,203.2 L46.5,198.4 L47.1,195.7 L47.6,194.2 L48.1,193.4 L48.7,193.0 L49.2,192.8 L49.7,192.6 L50.3,192.6 L50.8,192.5 L51.3,192.5 L51.9,192.5 L52.4,192.5 L52.9,192.5 L53.5,192.5 L54.0,192.5 L54.5,192.5 L55.1,192.5 L55.6,192.5 L56.1,192.5 L56.7,192.5 L57.2,192.5 L57.7,192.5 L58.3,192.5 L58.8,192.5 L59.3,192.5 L59.9,192.5 L60.4,192.5 L60.9,192.5 L61.4,192.5 L62.0,192.5 L62.5,192.5 L63.0,192.5 L63.6,192.5 L64.1,192.5 L64.6,192.5 L65.2,192.5 L65.7,192.5 L66.2,192.5 L66.8,192.5 L67.3,192.5 L67.8,192.5 L68.4,192.5 L68.9,192.5 L69.4,192.5 L70.0,192.5 L70.5,192.5 L71.0,192.5 L71.6,192.5 L72.1,192.5 L72.6,192.5 L73.2,192.5 L73.7,192.5 L74.2,192.5 L74.8,192.5 L75.3,192.5 L75.8,192.5 L76.4,192.5 L76.9,192.5 L77.4,192.5 L78.0,192.5 L78.5,192.5 L79.0,192.5 L79.6,192.5 L80.1,192.5 L80.6,192.5 L81.2,192.5 L81.7,192.5 L82.2,192.5 L82.8,192.5 L83.3,192.5 L83.8,192.5 L84.4,192.5 L84.9,192.5 L85.4,192.5 L86.0,195.6 L86.5,203.4 L87.0,209.1 L87.6,213.3 L88.1,216.5 L88.6,218.8 L89.2,220.6 L89.7,221.8 L90.2,222.8 L90.8,223.5 L91.3,224.0 L91.8,224.4 L92.4,224.7 L92.9,224.9 L93.4,225.1 L94.0,225.2 L94.5,225.3 L95.0,225.3 L95.5,225.4 L96.1,225.4 L96.6,225.4 L97.1,225.4 L97.7,225.5 L98.2,225.5 L98.7,225.5 L99.3,225.5 L99.8,225.5 L100.3,225.5 L100.9,225.5 L101.4,225.5 L101.9,225.5 L102.5,225.5 L103.0,225.5 L103.5,225.5 L104.1,225.5 L104.6,225.5 L105.1,225.5 L105.7,225.5 L106.2,225.5 L106.7,225.5 L107.3,225.5 L107.8,225.5 L108.3,225.5 L108.9,225.5 L109.4,225.5 L109.9,225.5 L110.5,225.5 L111.0,225.5 L111.5,225.5 L112.1,225.5 L112.6,225.5 L113.1,225.5 L113.7,225.5 L114.2,225.5 L114.7,225.5 L115.3,225.5 L115.8,225.5 L116.3,225.5 L116.9,225.5 L117.4,225.5 L117.9,225.5 L118.5,225.5 L119.0,225.5 L119.5,225.5 L120.1,225.5 L120.6,225.5 L121.1,225.5 L121.7,225.5 L122.2,225.5 L122.7,225.5 L123.3,225.5 L123.8,225.5 L124.3,225.5 L124.9,225.5 L125.4,225.5 L125.9,225.5 L126.5,225.5 L127.0,225.5 L127.5,225.5 L128.0,225.5 L128.6,225.5 L129.1,225.5 L129.6,225.5 L130.2,225.5 L130.7,225.5 L131.2,225.5 L131.8,225.5 L132.3,225.5 L132.8,225.5 L133.4,225.5 L133.9,225.5 L134.4,225.5 L135.0,225.5 L135.5,225.5 L136.0,225.5 L136.6,225.5 L137.1,225.5 L137.6,225.5 L138.2,225.5 L138.7,225.5 L139.2,225.5 L139.8,225.5 L140.3,225.5 L140.8,225.5 L141.4,225.5 L141.9,225.5 L142.4,225.5 L143.0,225.5 L143.5,225.5 L144.0,225.5 L144.6,225.5 L145.1,225.5 L145.6,225.5 L146.2,225.5 L146.7,225.5 L147.2,225.5 L147.8,225.5 L148.3,225.5 L148.8,225.5 L149.4,225.5 L149.9,225.5 L150.4,225.5 L151.0,225.5" fill="none" stroke="#6a6a6a" stroke-width="1.1" stroke-linejoin="round" stroke-dasharray="3.3,2.3"/>
<path d="M44.4,225.5 L44.9,225.5 L45.5,207.4 L46.0,195.5 L46.5,188.9 L47.1,185.3 L47.6,183.3 L48.1,182.3 L48.7,181.7 L49.2,181.3 L49.7,181.2 L50.3,181.1 L50.8,181.0 L51.3,181.0 L51.9,181.0 L52.4,180.9 L52.9,180.9 L53.5,180.9 L54.0,180.9 L54.5,180.9 L55.1,180.9 L55.6,180.9 L56.1,180.9 L56.7,180.9 L57.2,180.9 L57.7,180.9 L58.3,180.9 L58.8,180.9 L59.3,180.9 L59.9,180.9 L60.4,180.9 L60.9,180.9 L61.4,180.9 L62.0,180.9 L62.5,180.9 L63.0,180.9 L63.6,180.9 L64.1,180.9 L64.6,180.9 L65.2,180.9 L65.7,180.9 L66.2,180.9 L66.8,180.9 L67.3,180.9 L67.8,180.9 L68.4,180.9 L68.9,180.9 L69.4,180.9 L70.0,180.9 L70.5,180.9 L71.0,180.9 L71.6,180.9 L72.1,180.9 L72.6,180.9 L73.2,180.9 L73.7,180.9 L74.2,180.9 L74.8,180.9 L75.3,180.9 L75.8,180.9 L76.4,180.9 L76.9,180.9 L77.4,180.9 L78.0,180.9 L78.5,180.9 L79.0,180.9 L79.6,180.9 L80.1,180.9 L80.6,180.9 L81.2,180.9 L81.7,180.9 L82.2,180.9 L82.8,180.9 L83.3,180.9 L83.8,180.9 L84.4,180.9 L84.9,180.9 L85.4,180.9 L86.0,185.2 L86.5,195.6 L87.0,203.4 L87.6,209.1 L88.1,213.4 L88.6,216.5 L89.2,218.8 L89.7,220.6 L90.2,221.8 L90.8,222.8 L91.3,223.5 L91.8,224.0 L92.4,224.4 L92.9,224.7 L93.4,224.9 L94.0,225.1 L94.5,225.2 L95.0,225.3 L95.5,225.3 L96.1,225.4 L96.6,225.4 L97.1,225.4 L97.7,225.4 L98.2,225.5 L98.7,225.5 L99.3,225.5 L99.8,225.5 L100.3,225.5 L100.9,225.5 L101.4,225.5 L101.9,225.5 L102.5,225.5 L103.0,225.5 L103.5,225.5 L104.1,225.5 L104.6,225.5 L105.1,225.5 L105.7,225.5 L106.2,225.5 L106.7,225.5 L107.3,225.5 L107.8,225.5 L108.3,225.5 L108.9,225.5 L109.4,225.5 L109.9,225.5 L110.5,225.5 L111.0,225.5 L111.5,225.5 L112.1,225.5 L112.6,225.5 L113.1,225.5 L113.7,225.5 L114.2,225.5 L114.7,225.5 L115.3,225.5 L115.8,225.5 L116.3,225.5 L116.9,225.5 L117.4,225.5 L117.9,225.5 L118.5,225.5 L119.0,225.5 L119.5,225.5 L120.1,225.5 L120.6,225.5 L121.1,225.5 L121.7,225.5 L122.2,225.5 L122.7,225.5 L123.3,225.5 L123.8,225.5 L124.3,225.5 L124.9,225.5 L125.4,225.5 L125.9,225.5 L126.5,225.5 L127.0,225.5 L127.5,225.5 L128.0,225.5 L128.6,225.5 L129.1,225.5 L129.6,225.5 L130.2,225.5 L130.7,225.5 L131.2,225.5 L131.8,225.5 L132.3,225.5 L132.8,225.5 L133.4,225.5 L133.9,225.5 L134.4,225.5 L135.0,225.5 L135.5,225.5 L136.0,225.5 L136.6,225.5 L137.1,225.5 L137.6,225.5 L138.2,225.5 L138.7,225.5 L139.2,225.5 L139.8,225.5 L140.3,225.5 L140.8,225.5 L141.4,225.5 L141.9,225.5 L142.4,225.5 L143.0,225.5 L143.5,225.5 L144.0,225.5 L144.6,225.5 L145.1,225.5 L145.6,225.5 L146.2,225.5 L146.7,225.5 L147.2,225.5 L147.8,225.5 L148.3,225.5 L148.8,225.5 L149.4,225.5 L149.9,225.5 L150.4,225.5 L151.0,225.5" fill="none" stroke="#6a6a6a" stroke-width="1.1" stroke-linejoin="round" stroke-dasharray="3.3,2.3"/>
<path d="M44.4,225.5 L44.9,225.5 L45.5,203.6 L46.0,189.1 L46.5,181.1 L47.1,176.7 L47.6,174.3 L48.1,173.0 L48.7,172.3 L49.2,171.9 L49.7,171.7 L50.3,171.6 L50.8,171.5 L51.3,171.4 L51.9,171.4 L52.4,171.4 L52.9,171.4 L53.5,171.4 L54.0,171.4 L54.5,171.4 L55.1,171.4 L55.6,171.4 L56.1,171.4 L56.7,171.4 L57.2,171.4 L57.7,171.4 L58.3,171.4 L58.8,171.4 L59.3,171.4 L59.9,171.4 L60.4,171.4 L60.9,171.4 L61.4,171.4 L62.0,171.4 L62.5,171.4 L63.0,171.4 L63.6,171.4 L64.1,171.4 L64.6,171.4 L65.2,171.4 L65.7,171.4 L66.2,171.4 L66.8,171.4 L67.3,171.4 L67.8,171.4 L68.4,171.4 L68.9,171.4 L69.4,171.4 L70.0,171.4 L70.5,171.4 L71.0,171.4 L71.6,171.4 L72.1,171.4 L72.6,171.4 L73.2,171.4 L73.7,171.4 L74.2,171.4 L74.8,171.4 L75.3,171.4 L75.8,171.4 L76.4,171.4 L76.9,171.4 L77.4,171.4 L78.0,171.4 L78.5,171.4 L79.0,171.4 L79.6,171.4 L80.1,171.4 L80.6,171.4 L81.2,171.4 L81.7,171.4 L82.2,171.4 L82.8,171.4 L83.3,171.4 L83.8,171.4 L84.4,171.4 L84.9,171.4 L85.4,171.4 L86.0,176.6 L86.5,189.2 L87.0,198.6 L87.6,205.6 L88.1,210.8 L88.6,214.6 L89.2,217.4 L89.7,219.5 L90.2,221.1 L90.8,222.2 L91.3,223.1 L91.8,223.7 L92.4,224.2 L92.9,224.5 L93.4,224.8 L94.0,225.0 L94.5,225.1 L95.0,225.2 L95.5,225.3 L96.1,225.3 L96.6,225.4 L97.1,225.4 L97.7,225.4 L98.2,225.5 L98.7,225.5 L99.3,225.5 L99.8,225.5 L100.3,225.5 L100.9,225.5 L101.4,225.5 L101.9,225.5 L102.5,225.5 L103.0,225.5 L103.5,225.5 L104.1,225.5 L104.6,225.5 L105.1,225.5 L105.7,225.5 L106.2,225.5 L106.7,225.5 L107.3,225.5 L107.8,225.5 L108.3,225.5 L108.9,225.5 L109.4,225.5 L109.9,225.5 L110.5,225.5 L111.0,225.5 L111.5,225.5 L112.1,225.5 L112.6,225.5 L113.1,225.5 L113.7,225.5 L114.2,225.5 L114.7,225.5 L115.3,225.5 L115.8,225.5 L116.3,225.5 L116.9,225.5 L117.4,225.5 L117.9,225.5 L118.5,225.5 L119.0,225.5 L119.5,225.5 L120.1,225.5 L120.6,225.5 L121.1,225.5 L121.7,225.5 L122.2,225.5 L122.7,225.5 L123.3,225.5 L123.8,225.5 L124.3,225.5 L124.9,225.5 L125.4,225.5 L125.9,225.5 L126.5,225.5 L127.0,225.5 L127.5,225.5 L128.0,225.5 L128.6,225.5 L129.1,225.5 L129.6,225.5 L130.2,225.5 L130.7,225.5 L131.2,225.5 L131.8,225.5 L132.3,225.5 L132.8,225.5 L133.4,225.5 L133.9,225.5 L134.4,225.5 L135.0,225.5 L135.5,225.5 L136.0,225.5 L136.6,225.5 L137.1,225.5 L137.6,225.5 L138.2,225.5 L138.7,225.5 L139.2,225.5 L139.8,225.5 L140.3,225.5 L140.8,225.5 L141.4,225.5 L141.9,225.5 L142.4,225.5 L143.0,225.5 L143.5,225.5 L144.0,225.5 L144.6,225.5 L145.1,225.5 L145.6,225.5 L146.2,225.5 L146.7,225.5 L147.2,225.5 L147.8,225.5 L148.3,225.5 L148.8,225.5 L149.4,225.5 L149.9,225.5 L150.4,225.5 L151.0,225.5" fill="none" stroke="#6a6a6a" stroke-width="1.1" stroke-linejoin="round" stroke-dasharray="3.3,2.3"/>
<path d="M26.6,225.7 L27.1,225.8 L27.5,225.9 L27.9,225.7 L28.3,225.9 L28.7,225.9 L29.2,226.2 L29.6,225.9 L30.0,226.0 L30.4,225.7 L30.8,226.5 L31.3,226.3 L31.7,225.9 L32.1,226.5 L32.5,226.2 L32.9,225.9 L33.4,225.7 L33.8,226.1 L34.2,225.8 L34.6,225.6 L35.0,225.9 L35.5,225.5 L35.9,225.5 L36.3,225.5 L36.7,225.6 L37.1,225.4 L37.6,225.4 L38.0,225.1 L38.4,225.1 L38.8,225.5 L39.2,225.5 L39.7,225.3 L40.1,225.5 L40.5,225.4 L40.9,225.3 L41.4,225.4 L41.8,226.1 L42.2,225.8 L42.6,225.6 L43.0,225.5 L43.5,225.8 L43.9,225.3 L44.3,225.4 L44.7,225.6 L45.1,224.3 L45.6,220.4 L46.0,218.2 L46.4,216.7 L46.8,214.8 L47.2,213.8 L47.7,213.2 L48.1,212.7 L48.5,212.6 L48.9,213.2 L49.3,212.7 L49.8,212.4 L50.2,212.4 L50.6,213.1 L51.0,212.6 L51.4,212.2 L51.9,212.5 L52.3,212.5 L52.7,212.3 L53.1,212.4 L53.5,212.1 L54.0,212.2 L54.4,212.1 L54.8,212.2 L55.2,212.7 L55.6,212.9 L56.1,211.7 L56.5,211.9 L56.9,211.7 L57.3,211.6 L57.7,211.3 L58.2,211.5 L58.6,212.0 L59.0,212.0 L59.4,212.7 L59.8,212.5 L60.3,212.1 L60.7,212.7 L61.1,212.4 L61.5,212.0 L61.9,211.6 L62.4,212.0 L62.8,212.2 L63.2,212.6 L63.6,212.6 L64.0,212.2 L64.5,211.4 L64.9,211.9 L65.3,211.4 L65.7,211.4 L66.2,211.7 L66.6,211.0 L67.0,212.1 L67.4,211.9 L67.8,211.7 L68.3,211.0 L68.7,210.7 L69.1,210.4 L69.5,210.8 L69.9,210.8 L70.4,210.6 L70.8,210.8 L71.2,210.9 L71.6,211.2 L72.0,211.4 L72.5,211.7 L72.9,211.0 L73.3,211.2 L73.7,211.9 L74.1,211.5 L74.6,211.4 L75.0,211.3 L75.4,210.7 L75.8,210.9 L76.2,211.0 L76.7,211.3 L77.1,211.2 L77.5,211.3 L77.9,211.1 L78.3,210.1 L78.8,210.3 L79.2,210.8 L79.6,210.3 L80.0,210.2 L80.4,210.2 L80.9,210.2 L81.3,210.2 L81.7,210.2 L82.1,210.0 L82.5,210.0 L83.0,209.8 L83.4,210.3 L83.8,210.4 L84.2,210.7 L84.6,210.4 L85.1,210.2 L85.5,210.5 L85.9,211.0 L86.3,212.3 L86.7,213.9 L87.2,216.0 L87.6,217.1 L88.0,217.9 L88.4,218.7 L88.8,219.2 L89.3,219.3 L89.7,219.8 L90.1,220.6 L90.5,220.6 L90.9,220.9 L91.4,221.0 L91.8,221.3 L92.2,221.8 L92.6,222.1 L93.1,222.0 L93.5,222.1 L93.9,222.7 L94.3,222.0 L94.7,222.2 L95.2,222.2 L95.6,221.8 L96.0,222.5 L96.4,221.8 L96.8,222.0 L97.3,221.7 L97.7,221.8 L98.1,221.7 L98.5,221.7 L98.9,221.7 L99.4,222.3 L99.8,222.5 L100.2,222.2 L100.6,221.6 L101.0,221.8 L101.5,221.6 L101.9,221.6 L102.3,221.5 L102.7,221.3 L103.1,221.9 L103.6,221.8 L104.0,221.8 L104.4,221.9 L104.8,222.1 L105.2,222.2 L105.7,222.3 L106.1,222.4 L106.5,221.4 L106.9,221.0 L107.3,221.3 L107.8,221.2 L108.2,221.7 L108.6,222.6 L109.0,222.8 L109.4,222.3 L109.9,221.7 L110.3,221.7 L110.7,222.0 L111.1,222.0 L111.5,222.2 L112.0,222.4 L112.4,222.2 L112.8,222.1 L113.2,222.2 L113.6,222.3 L114.1,222.4 L114.5,222.0 L114.9,221.5 L115.3,221.6 L115.7,221.0 L116.2,221.8 L116.6,221.7 L117.0,222.1 L117.4,222.0 L117.8,221.8 L118.3,221.6 L118.7,221.3 L119.1,221.7 L119.5,222.1 L120.0,222.0 L120.4,221.8 L120.8,222.0 L121.2,221.6 L121.6,221.1 L122.1,221.8 L122.5,221.7 L122.9,221.4 L123.3,222.1 L123.7,221.9 L124.2,221.9 L124.6,222.3 L125.0,221.7 L125.4,221.6 L125.8,221.8 L126.3,221.6 L126.7,221.5 L127.1,221.3 L127.5,221.3 L127.9,221.4 L128.4,221.9 L128.8,221.9 L129.2,221.8 L129.6,222.6 L130.0,221.6 L130.5,221.8 L130.9,222.1 L131.3,222.5 L131.7,222.1 L132.1,221.9 L132.6,222.0 L133.0,222.0 L133.4,222.2 L133.8,222.2 L134.2,222.1 L134.7,222.1 L135.1,221.8 L135.5,221.8 L135.9,221.7 L136.3,221.6 L136.8,221.3 L137.2,221.3 L137.6,221.4 L138.0,221.6 L138.4,221.9 L138.9,221.9 L139.3,221.6 L139.7,221.6 L140.1,221.8 L140.5,222.2 L141.0,222.5 L141.4,222.1 L141.8,221.6 L142.2,221.6 L142.6,222.0 L143.1,222.0 L143.5,221.8 L143.9,222.1 L144.3,221.8 L144.7,221.8 L145.2,222.1 L145.6,222.3 L146.0,221.8 L146.4,221.7 L146.9,222.0 L147.3,222.2 L147.7,221.7 L148.1,221.6 L148.5,221.7 L149.0,221.2 L149.4,221.5 L149.8,221.9 L150.2,221.5 L150.6,221.7 L151.1,221.6 L151.5,221.6 L151.9,222.0 L152.3,222.2 L152.7,222.1" fill="none" stroke="#e9552f" stroke-width="1.7" stroke-linejoin="round" />
<path d="M26.6,225.1 L27.1,225.5 L27.5,225.1 L27.9,225.2 L28.3,225.7 L28.7,225.5 L29.2,225.3 L29.6,225.7 L30.0,226.2 L30.4,225.8 L30.8,226.0 L31.3,225.7 L31.7,226.2 L32.1,226.0 L32.5,226.0 L32.9,226.3 L33.4,226.0 L33.8,225.8 L34.2,225.8 L34.6,226.1 L35.0,225.8 L35.5,226.2 L35.9,225.8 L36.3,225.5 L36.7,225.0 L37.1,224.9 L37.6,225.1 L38.0,225.2 L38.4,225.3 L38.8,225.8 L39.2,225.2 L39.7,225.2 L40.1,225.4 L40.5,225.8 L40.9,225.2 L41.4,225.2 L41.8,225.7 L42.2,225.4 L42.6,224.9 L43.0,225.1 L43.5,225.2 L43.9,225.4 L44.3,225.6 L44.7,225.3 L45.1,221.8 L45.6,215.7 L46.0,211.7 L46.4,208.8 L46.8,207.2 L47.2,205.8 L47.7,204.8 L48.1,204.7 L48.5,204.7 L48.9,204.3 L49.3,203.8 L49.8,203.6 L50.2,203.2 L50.6,203.8 L51.0,203.5 L51.4,203.7 L51.9,203.6 L52.3,203.4 L52.7,203.7 L53.1,203.6 L53.5,203.9 L54.0,203.6 L54.4,203.7 L54.8,203.7 L55.2,203.5 L55.6,203.6 L56.1,203.1 L56.5,203.4 L56.9,203.1 L57.3,203.0 L57.7,203.4 L58.2,203.4 L58.6,203.5 L59.0,203.5 L59.4,203.4 L59.8,202.7 L60.3,203.0 L60.7,202.6 L61.1,202.6 L61.5,203.2 L61.9,203.8 L62.4,203.3 L62.8,203.7 L63.2,203.2 L63.6,202.8 L64.0,202.7 L64.5,202.9 L64.9,202.9 L65.3,202.8 L65.7,202.9 L66.2,203.0 L66.6,203.1 L67.0,202.6 L67.4,202.9 L67.8,202.7 L68.3,203.1 L68.7,203.1 L69.1,203.4 L69.5,203.2 L69.9,202.7 L70.4,202.6 L70.8,202.8 L71.2,202.5 L71.6,202.6 L72.0,202.5 L72.5,202.4 L72.9,202.3 L73.3,203.1 L73.7,203.3 L74.1,202.7 L74.6,202.6 L75.0,201.9 L75.4,202.2 L75.8,202.4 L76.2,202.0 L76.7,202.0 L77.1,201.5 L77.5,201.7 L77.9,202.0 L78.3,201.9 L78.8,202.3 L79.2,202.4 L79.6,202.5 L80.0,202.5 L80.4,202.1 L80.9,202.3 L81.3,202.1 L81.7,202.3 L82.1,202.0 L82.5,202.8 L83.0,202.6 L83.4,202.3 L83.8,202.5 L84.2,202.0 L84.6,202.0 L85.1,201.6 L85.5,201.5 L85.9,202.6 L86.3,206.3 L86.7,209.5 L87.2,211.8 L87.6,213.7 L88.0,215.0 L88.4,216.3 L88.8,216.2 L89.3,217.8 L89.7,218.1 L90.1,218.9 L90.5,219.4 L90.9,219.4 L91.4,219.8 L91.8,220.4 L92.2,220.4 L92.6,220.6 L93.1,221.3 L93.5,221.0 L93.9,221.3 L94.3,221.3 L94.7,221.0 L95.2,220.9 L95.6,221.0 L96.0,220.4 L96.4,220.5 L96.8,220.9 L97.3,220.9 L97.7,221.0 L98.1,221.7 L98.5,221.9 L98.9,222.0 L99.4,221.0 L99.8,221.1 L100.2,221.1 L100.6,221.3 L101.0,220.9 L101.5,221.0 L101.9,220.5 L102.3,220.5 L102.7,220.2 L103.1,220.6 L103.6,220.7 L104.0,221.0 L104.4,221.1 L104.8,221.6 L105.2,221.5 L105.7,221.6 L106.1,221.6 L106.5,221.0 L106.9,221.0 L107.3,220.6 L107.8,220.6 L108.2,220.5 L108.6,220.4 L109.0,220.9 L109.4,220.7 L109.9,220.9 L110.3,221.2 L110.7,220.8 L111.1,220.2 L111.5,220.9 L112.0,220.4 L112.4,220.4 L112.8,220.9 L113.2,220.9 L113.6,220.9 L114.1,220.8 L114.5,221.0 L114.9,221.4 L115.3,221.3 L115.7,220.9 L116.2,220.8 L116.6,220.7 L117.0,220.5 L117.4,221.0 L117.8,221.1 L118.3,221.0 L118.7,220.7 L119.1,220.8 L119.5,220.8 L120.0,220.8 L120.4,220.3 L120.8,221.3 L121.2,221.2 L121.6,220.4 L122.1,220.6 L122.5,221.3 L122.9,221.2 L123.3,221.6 L123.7,221.6 L124.2,221.3 L124.6,220.7 L125.0,220.7 L125.4,220.6 L125.8,220.5 L126.3,220.7 L126.7,221.1 L127.1,221.1 L127.5,221.0 L127.9,221.1 L128.4,221.3 L128.8,221.3 L129.2,221.7 L129.6,221.7 L130.0,221.5 L130.5,221.4 L130.9,221.3 L131.3,220.8 L131.7,220.8 L132.1,220.9 L132.6,221.3 L133.0,221.5 L133.4,221.2 L133.8,221.4 L134.2,221.2 L134.7,221.4 L135.1,221.3 L135.5,221.2 L135.9,220.8 L136.3,221.1 L136.8,221.2 L137.2,221.1 L137.6,221.0 L138.0,220.5 L138.4,220.8 L138.9,221.1 L139.3,221.2 L139.7,221.0 L140.1,220.9 L140.5,220.8 L141.0,221.3 L141.4,220.5 L141.8,220.2 L142.2,220.5 L142.6,221.1 L143.1,221.0 L143.5,220.9 L143.9,221.7 L144.3,221.4 L144.7,221.7 L145.2,221.3 L145.6,220.8 L146.0,220.6 L146.4,221.2 L146.9,220.8 L147.3,220.6 L147.7,220.9 L148.1,220.8 L148.5,220.5 L149.0,220.8 L149.4,220.9 L149.8,221.1 L150.2,220.8 L150.6,221.5 L151.1,220.9 L151.5,221.3 L151.9,220.9 L152.3,221.5 L152.7,221.6" fill="none" stroke="#f28c33" stroke-width="1.7" stroke-linejoin="round" />
<path d="M26.6,225.7 L27.1,225.4 L27.5,225.9 L27.9,225.6 L28.3,225.7 L28.7,225.3 L29.2,225.5 L29.6,225.3 L30.0,225.4 L30.4,224.9 L30.8,225.3 L31.3,225.4 L31.7,224.8 L32.1,225.1 L32.5,225.0 L32.9,225.4 L33.4,225.4 L33.8,226.1 L34.2,225.8 L34.6,225.9 L35.0,226.2 L35.5,226.3 L35.9,225.7 L36.3,225.5 L36.7,225.9 L37.1,225.2 L37.6,225.5 L38.0,225.6 L38.4,225.5 L38.8,225.8 L39.2,226.2 L39.7,226.1 L40.1,225.5 L40.5,225.2 L40.9,225.8 L41.4,225.3 L41.8,225.4 L42.2,225.3 L42.6,225.4 L43.0,225.3 L43.5,225.7 L43.9,225.9 L44.3,225.9 L44.7,225.9 L45.1,221.8 L45.6,212.8 L46.0,206.0 L46.4,202.2 L46.8,199.7 L47.2,197.6 L47.7,196.3 L48.1,195.7 L48.5,195.5 L48.9,195.3 L49.3,195.4 L49.8,194.6 L50.2,194.1 L50.6,193.6 L51.0,193.6 L51.4,193.7 L51.9,193.7 L52.3,193.5 L52.7,193.8 L53.1,193.8 L53.5,193.3 L54.0,194.1 L54.4,194.5 L54.8,194.6 L55.2,194.2 L55.6,193.7 L56.1,194.0 L56.5,193.8 L56.9,193.9 L57.3,193.8 L57.7,194.1 L58.2,194.0 L58.6,194.0 L59.0,193.7 L59.4,193.1 L59.8,194.0 L60.3,193.8 L60.7,193.9 L61.1,193.6 L61.5,193.4 L61.9,193.4 L62.4,193.3 L62.8,193.8 L63.2,194.4 L63.6,193.7 L64.0,193.4 L64.5,193.9 L64.9,193.5 L65.3,193.4 L65.7,194.3 L66.2,193.9 L66.6,194.1 L67.0,193.7 L67.4,193.9 L67.8,194.1 L68.3,194.4 L68.7,194.2 L69.1,193.8 L69.5,194.0 L69.9,194.4 L70.4,193.5 L70.8,193.1 L71.2,193.1 L71.6,193.5 L72.0,194.0 L72.5,194.4 L72.9,193.9 L73.3,193.4 L73.7,193.9 L74.1,193.8 L74.6,193.8 L75.0,193.8 L75.4,193.6 L75.8,193.0 L76.2,193.5 L76.7,193.3 L77.1,193.1 L77.5,193.4 L77.9,193.5 L78.3,194.0 L78.8,193.5 L79.2,193.7 L79.6,193.8 L80.0,193.7 L80.4,193.9 L80.9,194.1 L81.3,194.0 L81.7,193.3 L82.1,193.5 L82.5,193.3 L83.0,193.9 L83.4,194.3 L83.8,193.4 L84.2,193.6 L84.6,194.0 L85.1,193.8 L85.5,193.5 L85.9,195.8 L86.3,201.1 L86.7,205.0 L87.2,208.6 L87.6,211.0 L88.0,212.9 L88.4,214.7 L88.8,216.4 L89.3,217.6 L89.7,218.8 L90.1,219.5 L90.5,220.0 L90.9,220.6 L91.4,220.7 L91.8,220.3 L92.2,221.1 L92.6,221.4 L93.1,221.4 L93.5,221.6 L93.9,221.9 L94.3,222.3 L94.7,222.0 L95.2,222.0 L95.6,222.0 L96.0,222.5 L96.4,222.3 L96.8,222.2 L97.3,222.4 L97.7,222.3 L98.1,221.7 L98.5,222.6 L98.9,222.4 L99.4,222.9 L99.8,223.2 L100.2,223.0 L100.6,222.7 L101.0,222.6 L101.5,223.0 L101.9,223.3 L102.3,223.2 L102.7,222.9 L103.1,223.1 L103.6,223.3 L104.0,222.5 L104.4,222.8 L104.8,222.8 L105.2,222.9 L105.7,223.0 L106.1,222.8 L106.5,222.8 L106.9,222.6 L107.3,222.9 L107.8,223.3 L108.2,222.4 L108.6,222.5 L109.0,222.3 L109.4,222.1 L109.9,222.1 L110.3,222.3 L110.7,222.9 L111.1,223.3 L111.5,222.7 L112.0,222.5 L112.4,222.4 L112.8,223.0 L113.2,223.5 L113.6,223.4 L114.1,223.5 L114.5,223.1 L114.9,223.2 L115.3,222.5 L115.7,222.7 L116.2,222.9 L116.6,222.5 L117.0,222.4 L117.4,222.8 L117.8,222.5 L118.3,222.0 L118.7,222.6 L119.1,222.7 L119.5,223.0 L120.0,223.4 L120.4,222.9 L120.8,222.6 L121.2,222.3 L121.6,222.3 L122.1,223.0 L122.5,222.9 L122.9,223.0 L123.3,223.2 L123.7,223.3 L124.2,222.8 L124.6,222.8 L125.0,222.1 L125.4,222.2 L125.8,222.9 L126.3,222.5 L126.7,222.2 L127.1,222.4 L127.5,222.8 L127.9,222.2 L128.4,222.8 L128.8,222.7 L129.2,223.3 L129.6,223.4 L130.0,223.6 L130.5,222.9 L130.9,222.4 L131.3,222.6 L131.7,223.0 L132.1,222.9 L132.6,222.7 L133.0,223.1 L133.4,223.3 L133.8,223.0 L134.2,222.7 L134.7,222.6 L135.1,222.5 L135.5,222.9 L135.9,223.5 L136.3,223.1 L136.8,223.2 L137.2,223.0 L137.6,223.0 L138.0,222.7 L138.4,222.9 L138.9,222.3 L139.3,222.4 L139.7,222.4 L140.1,222.3 L140.5,222.1 L141.0,222.2 L141.4,222.9 L141.8,223.0 L142.2,222.3 L142.6,222.3 L143.1,222.2 L143.5,222.2 L143.9,222.6 L144.3,222.8 L144.7,222.9 L145.2,222.5 L145.6,222.4 L146.0,222.0 L146.4,222.1 L146.9,221.7 L147.3,221.9 L147.7,222.6 L148.1,222.1 L148.5,222.2 L149.0,222.0 L149.4,222.2 L149.8,222.5 L150.2,222.5 L150.6,222.9 L151.1,223.1 L151.5,223.2 L151.9,223.1 L152.3,223.3 L152.7,223.1" fill="none" stroke="#2b858c" stroke-width="1.7" stroke-linejoin="round" />
<path d="M26.6,225.4 L27.1,224.8 L27.5,224.5 L27.9,224.9 L28.3,224.9 L28.7,225.2 L29.2,225.2 L29.6,225.3 L30.0,225.6 L30.4,225.5 L30.8,226.0 L31.3,225.6 L31.7,225.7 L32.1,225.9 L32.5,225.9 L32.9,225.6 L33.4,225.7 L33.8,225.5 L34.2,225.3 L34.6,224.9 L35.0,225.5 L35.5,225.5 L35.9,225.4 L36.3,225.0 L36.7,225.1 L37.1,225.0 L37.6,225.7 L38.0,225.8 L38.4,225.2 L38.8,225.4 L39.2,224.8 L39.7,225.3 L40.1,225.5 L40.5,226.0 L40.9,225.6 L41.4,225.5 L41.8,224.9 L42.2,225.1 L42.6,225.3 L43.0,225.8 L43.5,225.7 L43.9,225.3 L44.3,225.2 L44.7,224.9 L45.1,219.6 L45.6,206.6 L46.0,197.8 L46.4,192.2 L46.8,188.9 L47.2,185.8 L47.7,184.2 L48.1,183.6 L48.5,182.7 L48.9,182.2 L49.3,181.7 L49.8,181.2 L50.2,182.3 L50.6,181.8 L51.0,181.3 L51.4,181.7 L51.9,182.2 L52.3,181.9 L52.7,181.7 L53.1,181.6 L53.5,182.0 L54.0,182.0 L54.4,181.9 L54.8,181.6 L55.2,181.0 L55.6,181.3 L56.1,181.7 L56.5,182.5 L56.9,182.0 L57.3,182.0 L57.7,182.0 L58.2,182.3 L58.6,182.0 L59.0,182.6 L59.4,182.4 L59.8,182.2 L60.3,182.1 L60.7,181.7 L61.1,182.0 L61.5,182.0 L61.9,181.9 L62.4,182.5 L62.8,182.5 L63.2,182.4 L63.6,182.1 L64.0,182.5 L64.5,182.2 L64.9,182.2 L65.3,182.8 L65.7,183.1 L66.2,183.3 L66.6,183.0 L67.0,182.7 L67.4,182.5 L67.8,182.3 L68.3,182.6 L68.7,182.3 L69.1,182.2 L69.5,182.3 L69.9,182.3 L70.4,182.9 L70.8,182.8 L71.2,183.1 L71.6,183.4 L72.0,183.3 L72.5,183.1 L72.9,183.0 L73.3,183.1 L73.7,183.4 L74.1,183.2 L74.6,183.4 L75.0,183.7 L75.4,183.4 L75.8,182.8 L76.2,183.1 L76.7,183.5 L77.1,182.9 L77.5,182.5 L77.9,182.9 L78.3,183.1 L78.8,183.1 L79.2,182.3 L79.6,182.7 L80.0,182.7 L80.4,182.8 L80.9,183.6 L81.3,183.9 L81.7,184.1 L82.1,183.7 L82.5,183.6 L83.0,183.1 L83.4,183.4 L83.8,183.4 L84.2,183.5 L84.6,183.5 L85.1,182.9 L85.5,183.1 L85.9,185.4 L86.3,192.5 L86.7,198.8 L87.2,203.5 L87.6,207.6 L88.0,210.7 L88.4,213.1 L88.8,215.2 L89.3,217.0 L89.7,217.8 L90.1,219.1 L90.5,219.8 L90.9,220.1 L91.4,220.7 L91.8,221.1 L92.2,221.3 L92.6,221.6 L93.1,221.7 L93.5,222.7 L93.9,222.4 L94.3,222.8 L94.7,223.6 L95.2,223.7 L95.6,224.1 L96.0,223.9 L96.4,224.2 L96.8,224.3 L97.3,224.0 L97.7,223.8 L98.1,224.0 L98.5,223.9 L98.9,223.9 L99.4,223.8 L99.8,223.8 L100.2,223.8 L100.6,223.5 L101.0,224.1 L101.5,224.1 L101.9,223.9 L102.3,224.0 L102.7,224.0 L103.1,224.0 L103.6,223.9 L104.0,223.4 L104.4,223.6 L104.8,223.7 L105.2,223.6 L105.7,223.7 L106.1,224.3 L106.5,224.0 L106.9,224.0 L107.3,224.1 L107.8,223.7 L108.2,223.7 L108.6,223.9 L109.0,224.5 L109.4,224.7 L109.9,224.3 L110.3,224.1 L110.7,223.8 L111.1,223.7 L111.5,223.9 L112.0,224.2 L112.4,224.4 L112.8,224.1 L113.2,224.3 L113.6,223.9 L114.1,224.2 L114.5,224.6 L114.9,224.3 L115.3,224.6 L115.7,223.8 L116.2,224.1 L116.6,223.9 L117.0,223.9 L117.4,224.1 L117.8,224.5 L118.3,224.8 L118.7,224.1 L119.1,223.6 L119.5,223.0 L120.0,223.7 L120.4,223.6 L120.8,223.6 L121.2,223.4 L121.6,223.7 L122.1,223.5 L122.5,223.3 L122.9,223.3 L123.3,223.0 L123.7,223.4 L124.2,223.0 L124.6,223.5 L125.0,223.1 L125.4,224.2 L125.8,224.0 L126.3,224.1 L126.7,224.0 L127.1,223.6 L127.5,223.4 L127.9,223.5 L128.4,223.1 L128.8,223.8 L129.2,224.0 L129.6,223.4 L130.0,223.4 L130.5,224.2 L130.9,223.9 L131.3,224.2 L131.7,223.6 L132.1,223.3 L132.6,223.6 L133.0,223.3 L133.4,223.7 L133.8,223.4 L134.2,223.4 L134.7,223.6 L135.1,224.1 L135.5,224.0 L135.9,224.6 L136.3,224.4 L136.8,224.7 L137.2,223.9 L137.6,224.2 L138.0,224.7 L138.4,224.2 L138.9,223.9 L139.3,224.0 L139.7,223.2 L140.1,223.2 L140.5,223.4 L141.0,223.7 L141.4,224.6 L141.8,224.1 L142.2,223.7 L142.6,223.9 L143.1,224.3 L143.5,224.1 L143.9,224.4 L144.3,224.2 L144.7,223.7 L145.2,223.3 L145.6,223.4 L146.0,223.5 L146.4,223.3 L146.9,223.1 L147.3,223.4 L147.7,223.9 L148.1,224.1 L148.5,224.3 L149.0,224.4 L149.4,224.1 L149.8,223.9 L150.2,223.8 L150.6,223.7 L151.1,223.8 L151.5,223.7 L151.9,223.4 L152.3,223.3 L152.7,223.0" fill="none" stroke="#4f72c2" stroke-width="1.7" stroke-linejoin="round" />
<path d="M26.6,225.6 L27.1,225.6 L27.5,225.1 L27.9,225.2 L28.3,225.2 L28.7,225.4 L29.2,225.1 L29.6,225.4 L30.0,225.8 L30.4,225.7 L30.8,225.7 L31.3,225.4 L31.7,225.5 L32.1,225.5 L32.5,225.6 L32.9,225.4 L33.4,225.7 L33.8,225.2 L34.2,225.8 L34.6,225.8 L35.0,225.9 L35.5,225.5 L35.9,225.5 L36.3,225.4 L36.7,225.5 L37.1,225.7 L37.6,226.0 L38.0,225.9 L38.4,225.9 L38.8,225.7 L39.2,225.5 L39.7,225.2 L40.1,225.3 L40.5,225.6 L40.9,225.9 L41.4,225.7 L41.8,225.5 L42.2,224.9 L42.6,225.1 L43.0,224.7 L43.5,224.4 L43.9,225.2 L44.3,224.9 L44.7,224.8 L45.1,216.0 L45.6,196.3 L46.0,184.4 L46.4,177.9 L46.8,174.0 L47.2,171.7 L47.7,169.8 L48.1,169.3 L48.5,168.6 L48.9,168.5 L49.3,168.7 L49.8,168.5 L50.2,168.3 L50.6,168.6 L51.0,168.4 L51.4,168.7 L51.9,168.9 L52.3,168.7 L52.7,168.7 L53.1,169.0 L53.5,169.3 L54.0,169.0 L54.4,168.8 L54.8,168.9 L55.2,168.7 L55.6,169.2 L56.1,168.8 L56.5,168.6 L56.9,168.6 L57.3,168.8 L57.7,168.8 L58.2,168.7 L58.6,168.4 L59.0,168.5 L59.4,168.5 L59.8,168.8 L60.3,168.6 L60.7,168.3 L61.1,168.7 L61.5,168.5 L61.9,168.6 L62.4,168.7 L62.8,169.2 L63.2,168.5 L63.6,169.2 L64.0,169.0 L64.5,169.1 L64.9,168.7 L65.3,168.9 L65.7,168.9 L66.2,168.8 L66.6,168.7 L67.0,169.0 L67.4,168.8 L67.8,168.8 L68.3,168.6 L68.7,168.9 L69.1,169.0 L69.5,169.2 L69.9,169.4 L70.4,169.2 L70.8,169.0 L71.2,168.6 L71.6,168.9 L72.0,168.9 L72.5,168.7 L72.9,168.9 L73.3,169.0 L73.7,169.1 L74.1,169.3 L74.6,169.6 L75.0,169.1 L75.4,169.1 L75.8,169.2 L76.2,169.6 L76.7,169.5 L77.1,169.0 L77.5,169.5 L77.9,169.7 L78.3,169.2 L78.8,168.8 L79.2,168.6 L79.6,169.1 L80.0,169.0 L80.4,169.4 L80.9,169.3 L81.3,169.5 L81.7,169.4 L82.1,169.0 L82.5,169.1 L83.0,169.3 L83.4,169.4 L83.8,169.4 L84.2,169.6 L84.6,169.5 L85.1,169.4 L85.5,169.0 L85.9,173.2 L86.3,183.2 L86.7,191.3 L87.2,197.2 L87.6,201.5 L88.0,205.9 L88.4,209.4 L88.8,211.9 L89.3,215.1 L89.7,216.8 L90.1,219.0 L90.5,219.7 L90.9,220.5 L91.4,221.2 L91.8,221.5 L92.2,222.1 L92.6,222.1 L93.1,222.5 L93.5,222.7 L93.9,222.2 L94.3,222.8 L94.7,222.8 L95.2,223.4 L95.6,223.1 L96.0,223.1 L96.4,223.3 L96.8,223.2 L97.3,223.0 L97.7,222.9 L98.1,223.3 L98.5,223.6 L98.9,223.4 L99.4,224.0 L99.8,224.2 L100.2,223.9 L100.6,223.7 L101.0,223.3 L101.5,223.0 L101.9,223.3 L102.3,223.4 L102.7,224.0 L103.1,224.0 L103.6,223.9 L104.0,224.0 L104.4,224.0 L104.8,223.8 L105.2,224.1 L105.7,224.2 L106.1,224.7 L106.5,224.0 L106.9,224.3 L107.3,224.7 L107.8,224.2 L108.2,224.1 L108.6,223.8 L109.0,224.0 L109.4,223.3 L109.9,223.3 L110.3,223.5 L110.7,223.7 L111.1,223.8 L111.5,223.6 L112.0,223.1 L112.4,223.6 L112.8,224.1 L113.2,223.8 L113.6,223.6 L114.1,224.2 L114.5,224.3 L114.9,224.5 L115.3,224.1 L115.7,223.9 L116.2,224.1 L116.6,224.4 L117.0,224.0 L117.4,224.6 L117.8,224.2 L118.3,224.1 L118.7,223.5 L119.1,223.4 L119.5,223.8 L120.0,223.9 L120.4,224.0 L120.8,224.2 L121.2,224.1 L121.6,223.7 L122.1,224.3 L122.5,224.2 L122.9,223.7 L123.3,223.5 L123.7,224.0 L124.2,224.2 L124.6,224.4 L125.0,224.7 L125.4,224.0 L125.8,224.0 L126.3,224.2 L126.7,224.5 L127.1,224.4 L127.5,224.4 L127.9,223.7 L128.4,223.9 L128.8,223.9 L129.2,223.6 L129.6,223.5 L130.0,223.8 L130.5,224.5 L130.9,223.8 L131.3,223.7 L131.7,223.9 L132.1,224.0 L132.6,224.3 L133.0,224.4 L133.4,224.7 L133.8,224.2 L134.2,224.0 L134.7,223.9 L135.1,223.7 L135.5,223.6 L135.9,223.7 L136.3,224.1 L136.8,223.8 L137.2,223.5 L137.6,223.5 L138.0,223.3 L138.4,223.7 L138.9,224.1 L139.3,223.7 L139.7,224.0 L140.1,223.9 L140.5,224.0 L141.0,224.0 L141.4,224.0 L141.8,224.2 L142.2,224.6 L142.6,223.8 L143.1,223.8 L143.5,224.4 L143.9,224.5 L144.3,224.6 L144.7,224.6 L145.2,225.1 L145.6,224.5 L146.0,223.8 L146.4,223.9 L146.9,223.7 L147.3,223.6 L147.7,224.1 L148.1,223.7 L148.5,224.3 L149.0,224.3 L149.4,224.3 L149.8,223.8 L150.2,223.8 L150.6,223.9 L151.1,224.2 L151.5,224.1 L151.9,224.0 L152.3,223.8 L152.7,223.4" fill="none" stroke="#46296f" stroke-width="1.7" stroke-linejoin="round" />
<line x1="259.10" y1="145.80" x2="259.10" y2="233.50" stroke="#1a1a1a" stroke-width="1.0" />
<line x1="258.60" y1="233.00" x2="388.90" y2="233.00" stroke="#1a1a1a" stroke-width="1.0" />
<line x1="267.30" y1="233.00" x2="267.30" y2="236.00" stroke="#1a1a1a" stroke-width="1.0" />
<text transform="translate(267.30,244.10) scale(1,1.05)" text-anchor="middle" font-size="8" >0</text>
<line x1="294.38" y1="233.00" x2="294.38" y2="235.00" stroke="#1a1a1a" stroke-width="1.0" />
<line x1="321.45" y1="233.00" x2="321.45" y2="236.00" stroke="#1a1a1a" stroke-width="1.0" />
<text transform="translate(321.45,244.10) scale(1,1.05)" text-anchor="middle" font-size="8" >50</text>
<line x1="348.52" y1="233.00" x2="348.52" y2="235.00" stroke="#1a1a1a" stroke-width="1.0" />
<line x1="375.60" y1="233.00" x2="375.60" y2="236.00" stroke="#1a1a1a" stroke-width="1.0" />
<text transform="translate(375.60,244.10) scale(1,1.05)" text-anchor="middle" font-size="8" >100</text>
<line x1="256.10" y1="225.30" x2="259.10" y2="225.30" stroke="#1a1a1a" stroke-width="1.0" />
<text transform="translate(255.10,228.20) scale(1,1.05)" text-anchor="end" font-size="8" >0</text>
<line x1="257.10" y1="210.78" x2="259.10" y2="210.78" stroke="#1a1a1a" stroke-width="1.0" />
<line x1="256.10" y1="196.25" x2="259.10" y2="196.25" stroke="#1a1a1a" stroke-width="1.0" />
<text transform="translate(255.10,199.15) scale(1,1.05)" text-anchor="end" font-size="8" >20</text>
<line x1="257.10" y1="181.73" x2="259.10" y2="181.73" stroke="#1a1a1a" stroke-width="1.0" />
<line x1="256.10" y1="167.20" x2="259.10" y2="167.20" stroke="#1a1a1a" stroke-width="1.0" />
<text transform="translate(255.10,170.10) scale(1,1.05)" text-anchor="end" font-size="8" >40</text>
<line x1="257.10" y1="152.68" x2="259.10" y2="152.68" stroke="#1a1a1a" stroke-width="1.0" />
<text x="0" y="0" transform="translate(239.30,189.70) rotate(-90) scale(1,1.05)" text-anchor="middle" font-size="8">Response (RU)</text>
<text transform="translate(324.00,254.40) scale(1,1.05)" text-anchor="middle" font-size="8" >Time (s)</text>
<text transform="translate(266.30,151.70) scale(1,1.05)" font-size="8">K<tspan font-size="5" dy="2.3">D</tspan><tspan dx="-0.5" dy="-2.3">: 43.8 µM ± 0.89</tspan></text>
<text transform="translate(408.20,150.60) scale(1,1.05)" text-anchor="start" font-size="8" >[Hb] (nM)</text>
<line x1="409.80" y1="167.50" x2="426.60" y2="167.50" stroke="#46296f" stroke-width="1.6" />
<text transform="translate(452.20,170.40) scale(1,1.05)" text-anchor="end" font-size="8" >20000</text>
<line x1="409.80" y1="181.50" x2="426.60" y2="181.50" stroke="#4f72c2" stroke-width="1.6" />
<text transform="translate(452.20,184.40) scale(1,1.05)" text-anchor="end" font-size="8" >10000</text>
<line x1="409.80" y1="195.60" x2="426.60" y2="195.60" stroke="#2b858c" stroke-width="1.6" />
<text transform="translate(452.20,198.50) scale(1,1.05)" text-anchor="end" font-size="8" >5000</text>
<line x1="409.80" y1="209.60" x2="426.60" y2="209.60" stroke="#f28c33" stroke-width="1.6" />
<text transform="translate(452.20,212.50) scale(1,1.05)" text-anchor="end" font-size="8" >2500</text>
<line x1="409.80" y1="223.70" x2="426.60" y2="223.70" stroke="#e9552f" stroke-width="1.6" />
<text transform="translate(452.20,226.60) scale(1,1.05)" text-anchor="end" font-size="8" >1250</text>
<path d="M268.6,225.3 L269.0,223.7 L269.4,222.4 L269.8,221.5 L270.2,220.9 L270.6,220.4 L271.0,220.0 L271.4,219.7 L271.8,219.5 L272.2,219.4 L272.6,219.2 L273.0,219.2 L273.4,219.1 L273.8,219.0 L274.2,219.0 L274.6,219.0 L275.0,219.0 L275.4,219.0 L275.8,218.9 L276.2,218.9 L276.6,218.9 L277.0,218.9 L277.4,218.9 L277.8,218.9 L278.2,218.9 L278.6,218.9 L279.0,218.9 L279.4,218.9 L279.8,218.9 L280.2,218.9 L280.6,218.9 L281.0,218.9 L281.4,218.9 L281.8,218.9 L282.2,218.9 L282.6,218.9 L283.0,218.9 L283.4,218.9 L283.8,218.9 L284.2,218.9 L284.6,218.9 L285.0,218.9 L285.4,218.9 L285.8,218.9 L286.2,218.9 L286.6,218.9 L287.0,218.9 L287.4,218.9 L287.8,218.9 L288.2,218.9 L288.6,218.9 L289.0,218.9 L289.4,218.9 L289.8,218.9 L290.2,218.9 L290.6,218.9 L291.0,218.9 L291.4,218.9 L291.8,218.9 L292.2,218.9 L292.6,218.9 L293.0,218.9 L293.4,218.9 L293.8,218.9 L294.2,218.9 L294.6,218.9 L295.0,218.9 L295.4,218.9 L295.8,218.9 L296.2,218.9 L296.6,218.9 L297.0,218.9 L297.4,218.9 L297.8,218.9 L298.2,218.9 L298.6,218.9 L299.0,218.9 L299.4,218.9 L299.8,218.9 L300.2,218.9 L300.6,218.9 L301.0,218.9 L301.4,218.9 L301.8,218.9 L302.2,218.9 L302.6,218.9 L303.0,218.9 L303.4,218.9 L303.8,218.9 L304.2,218.9 L304.6,218.9 L305.0,218.9 L305.4,218.9 L305.8,218.9 L306.2,218.9 L306.6,218.9 L307.0,218.9 L307.4,218.9 L307.8,218.9 L308.2,218.9 L308.6,218.9 L309.0,218.9 L309.4,218.9 L309.8,218.9 L310.2,218.9 L310.6,218.9 L311.0,218.9 L311.4,218.9 L311.8,218.9 L312.2,218.9 L312.6,218.9 L313.0,218.9 L313.4,218.9 L313.8,218.9 L314.2,218.9 L314.6,218.9 L315.0,218.9 L315.4,218.9 L315.8,218.9 L316.2,218.9 L316.6,218.9 L317.0,218.9 L317.4,218.9 L317.8,218.9 L318.2,218.9 L318.6,218.9 L319.0,218.9 L319.4,218.9 L319.8,218.9 L320.2,218.9 L320.6,218.9 L321.0,218.9 L321.4,218.9 L321.8,218.9 L322.2,218.9 L322.6,218.9 L323.0,218.9 L323.4,218.9 L323.8,218.9 L324.2,218.9 L324.6,218.9 L325.0,218.9 L325.4,218.9 L325.8,218.9 L326.2,218.9 L326.6,218.9 L327.0,218.9 L327.4,218.9 L327.8,218.9 L328.2,218.9 L328.6,218.9 L329.0,218.9 L329.4,218.9 L329.8,218.9 L330.2,218.9 L330.6,218.9 L331.0,218.9 L331.4,218.9 L331.8,219.1 L332.2,220.1 L332.6,221.0 L333.0,221.7 L333.4,222.3 L333.8,222.8 L334.2,223.2 L334.6,223.6 L335.0,223.9 L335.4,224.1 L335.8,224.3 L336.2,224.5 L336.6,224.6 L337.0,224.7 L337.4,224.8 L337.8,224.9 L338.2,225.0 L338.6,225.0 L339.0,225.1 L339.4,225.1 L339.8,225.1 L340.2,225.2 L340.6,225.2 L341.0,225.2 L341.4,225.2 L341.8,225.2 L342.2,225.2 L342.6,225.3 L343.0,225.3 L343.4,225.3 L343.8,225.3 L344.2,225.3 L344.6,225.3 L345.0,225.3 L345.4,225.3 L345.8,225.3 L346.2,225.3 L346.6,225.3 L347.0,225.3 L347.4,225.3 L347.8,225.3 L348.2,225.3 L348.6,225.3 L349.0,225.3 L349.4,225.3 L349.8,225.3 L350.2,225.3 L350.6,225.3 L351.0,225.3 L351.4,225.3 L351.8,225.3 L352.2,225.3 L352.6,225.3 L353.0,225.3 L353.4,225.3 L353.8,225.3 L354.2,225.3 L354.6,225.3 L355.0,225.3 L355.4,225.3 L355.8,225.3 L356.2,225.3 L356.6,225.3 L357.0,225.3 L357.4,225.3 L357.8,225.3 L358.2,225.3 L358.6,225.3 L359.0,225.3 L359.4,225.3 L359.8,225.3 L360.2,225.3 L360.6,225.3 L361.0,225.3 L361.4,225.3 L361.8,225.3 L362.2,225.3 L362.6,225.3 L363.0,225.3 L363.4,225.3 L363.8,225.3 L364.2,225.3 L364.6,225.3 L365.0,225.3 L365.4,225.3 L365.8,225.3 L366.2,225.3 L366.6,225.3 L367.0,225.3 L367.4,225.3 L367.8,225.3 L368.2,225.3 L368.6,225.3 L369.0,225.3 L369.4,225.3 L369.8,225.3 L370.2,225.3 L370.6,225.3 L371.0,225.3 L371.4,225.3 L371.8,225.3 L372.2,225.3 L372.6,225.3 L373.0,225.3 L373.4,225.3 L373.8,225.3 L374.2,225.3 L374.6,225.3 L375.0,225.3 L375.4,225.3 L375.8,225.3 L376.2,225.3 L376.6,225.3 L377.0,225.3 L377.4,225.3 L377.8,225.3 L378.2,225.3 L378.6,225.3 L379.0,225.3 L379.4,225.3 L379.8,225.3 L380.2,225.3 L380.6,225.3 L381.0,225.3 L381.4,225.3 L381.8,225.3 L382.2,225.3 L382.6,225.3 L383.0,225.3 L383.4,225.3 L383.8,225.3 L384.2,225.3 L384.6,225.3 L385.0,225.3 L385.4,225.3 L385.8,225.3 L386.2,225.3 L386.6,225.3 L387.0,225.3 L387.4,225.3 L387.8,225.3 L388.2,225.3 L388.6,225.3" fill="none" stroke="#6a6a6a" stroke-width="1.1" stroke-linejoin="round" stroke-dasharray="3.3,2.3"/>
<path d="M268.6,225.3 L269.0,222.7 L269.4,220.8 L269.8,219.4 L270.2,218.4 L270.6,217.6 L271.0,217.0 L271.4,216.5 L271.8,216.2 L272.2,216.0 L272.6,215.8 L273.0,215.7 L273.4,215.6 L273.8,215.5 L274.2,215.4 L274.6,215.4 L275.0,215.4 L275.4,215.3 L275.8,215.3 L276.2,215.3 L276.6,215.3 L277.0,215.3 L277.4,215.3 L277.8,215.3 L278.2,215.3 L278.6,215.3 L279.0,215.3 L279.4,215.3 L279.8,215.3 L280.2,215.3 L280.6,215.3 L281.0,215.3 L281.4,215.3 L281.8,215.3 L282.2,215.3 L282.6,215.3 L283.0,215.3 L283.4,215.3 L283.8,215.3 L284.2,215.3 L284.6,215.3 L285.0,215.3 L285.4,215.3 L285.8,215.3 L286.2,215.3 L286.6,215.3 L287.0,215.3 L287.4,215.3 L287.8,215.3 L288.2,215.3 L288.6,215.3 L289.0,215.3 L289.4,215.3 L289.8,215.3 L290.2,215.3 L290.6,215.3 L291.0,215.3 L291.4,215.3 L291.8,215.3 L292.2,215.3 L292.6,215.3 L293.0,215.3 L293.4,215.3 L293.8,215.3 L294.2,215.3 L294.6,215.3 L295.0,215.3 L295.4,215.3 L295.8,215.3 L296.2,215.3 L296.6,215.3 L297.0,215.3 L297.4,215.3 L297.8,215.3 L298.2,215.3 L298.6,215.3 L299.0,215.3 L299.4,215.3 L299.8,215.3 L300.2,215.3 L300.6,215.3 L301.0,215.3 L301.4,215.3 L301.8,215.3 L302.2,215.3 L302.6,215.3 L303.0,215.3 L303.4,215.3 L303.8,215.3 L304.2,215.3 L304.6,215.3 L305.0,215.3 L305.4,215.3 L305.8,215.3 L306.2,215.3 L306.6,215.3 L307.0,215.3 L307.4,215.3 L307.8,215.3 L308.2,215.3 L308.6,215.3 L309.0,215.3 L309.4,215.3 L309.8,215.3 L310.2,215.3 L310.6,215.3 L311.0,215.3 L311.4,215.3 L311.8,215.3 L312.2,215.3 L312.6,215.3 L313.0,215.3 L313.4,215.3 L313.8,215.3 L314.2,215.3 L314.6,215.3 L315.0,215.3 L315.4,215.3 L315.8,215.3 L316.2,215.3 L316.6,215.3 L317.0,215.3 L317.4,215.3 L317.8,215.3 L318.2,215.3 L318.6,215.3 L319.0,215.3 L319.4,215.3 L319.8,215.3 L320.2,215.3 L320.6,215.3 L321.0,215.3 L321.4,215.3 L321.8,215.3 L322.2,215.3 L322.6,215.3 L323.0,215.3 L323.4,215.3 L323.8,215.3 L324.2,215.3 L324.6,215.3 L325.0,215.3 L325.4,215.3 L325.8,215.3 L326.2,215.3 L326.6,215.3 L327.0,215.3 L327.4,215.3 L327.8,215.3 L328.2,215.3 L328.6,215.3 L329.0,215.3 L329.4,215.3 L329.8,215.3 L330.2,215.3 L330.6,215.3 L331.0,215.3 L331.4,215.3 L331.8,215.5 L332.2,217.2 L332.6,218.6 L333.0,219.7 L333.4,220.6 L333.8,221.4 L334.2,222.1 L334.6,222.6 L335.0,223.1 L335.4,223.4 L335.8,223.8 L336.2,224.0 L336.6,224.2 L337.0,224.4 L337.4,224.6 L337.8,224.7 L338.2,224.8 L338.6,224.9 L339.0,224.9 L339.4,225.0 L339.8,225.1 L340.2,225.1 L340.6,225.1 L341.0,225.2 L341.4,225.2 L341.8,225.2 L342.2,225.2 L342.6,225.2 L343.0,225.2 L343.4,225.3 L343.8,225.3 L344.2,225.3 L344.6,225.3 L345.0,225.3 L345.4,225.3 L345.8,225.3 L346.2,225.3 L346.6,225.3 L347.0,225.3 L347.4,225.3 L347.8,225.3 L348.2,225.3 L348.6,225.3 L349.0,225.3 L349.4,225.3 L349.8,225.3 L350.2,225.3 L350.6,225.3 L351.0,225.3 L351.4,225.3 L351.8,225.3 L352.2,225.3 L352.6,225.3 L353.0,225.3 L353.4,225.3 L353.8,225.3 L354.2,225.3 L354.6,225.3 L355.0,225.3 L355.4,225.3 L355.8,225.3 L356.2,225.3 L356.6,225.3 L357.0,225.3 L357.4,225.3 L357.8,225.3 L358.2,225.3 L358.6,225.3 L359.0,225.3 L359.4,225.3 L359.8,225.3 L360.2,225.3 L360.6,225.3 L361.0,225.3 L361.4,225.3 L361.8,225.3 L362.2,225.3 L362.6,225.3 L363.0,225.3 L363.4,225.3 L363.8,225.3 L364.2,225.3 L364.6,225.3 L365.0,225.3 L365.4,225.3 L365.8,225.3 L366.2,225.3 L366.6,225.3 L367.0,225.3 L367.4,225.3 L367.8,225.3 L368.2,225.3 L368.6,225.3 L369.0,225.3 L369.4,225.3 L369.8,225.3 L370.2,225.3 L370.6,225.3 L371.0,225.3 L371.4,225.3 L371.8,225.3 L372.2,225.3 L372.6,225.3 L373.0,225.3 L373.4,225.3 L373.8,225.3 L374.2,225.3 L374.6,225.3 L375.0,225.3 L375.4,225.3 L375.8,225.3 L376.2,225.3 L376.6,225.3 L377.0,225.3 L377.4,225.3 L377.8,225.3 L378.2,225.3 L378.6,225.3 L379.0,225.3 L379.4,225.3 L379.8,225.3 L380.2,225.3 L380.6,225.3 L381.0,225.3 L381.4,225.3 L381.8,225.3 L382.2,225.3 L382.6,225.3 L383.0,225.3 L383.4,225.3 L383.8,225.3 L384.2,225.3 L384.6,225.3 L385.0,225.3 L385.4,225.3 L385.8,225.3 L386.2,225.3 L386.6,225.3 L387.0,225.3 L387.4,225.3 L387.8,225.3 L388.2,225.3 L388.6,225.3" fill="none" stroke="#6a6a6a" stroke-width="1.1" stroke-linejoin="round" stroke-dasharray="3.3,2.3"/>
<path d="M268.6,225.3 L269.0,220.3 L269.4,216.6 L269.8,213.8 L270.2,211.7 L270.6,210.2 L271.0,209.0 L271.4,208.2 L271.8,207.5 L272.2,207.1 L272.6,206.7 L273.0,206.5 L273.4,206.3 L273.8,206.1 L274.2,206.0 L274.6,205.9 L275.0,205.9 L275.4,205.8 L275.8,205.8 L276.2,205.8 L276.6,205.7 L277.0,205.7 L277.4,205.7 L277.8,205.7 L278.2,205.7 L278.6,205.7 L279.0,205.7 L279.4,205.7 L279.8,205.7 L280.2,205.7 L280.6,205.7 L281.0,205.7 L281.4,205.7 L281.8,205.7 L282.2,205.7 L282.6,205.7 L283.0,205.7 L283.4,205.7 L283.8,205.7 L284.2,205.7 L284.6,205.7 L285.0,205.7 L285.4,205.7 L285.8,205.7 L286.2,205.7 L286.6,205.7 L287.0,205.7 L287.4,205.7 L287.8,205.7 L288.2,205.7 L288.6,205.7 L289.0,205.7 L289.4,205.7 L289.8,205.7 L290.2,205.7 L290.6,205.7 L291.0,205.7 L291.4,205.7 L291.8,205.7 L292.2,205.7 L292.6,205.7 L293.0,205.7 L293.4,205.7 L293.8,205.7 L294.2,205.7 L294.6,205.7 L295.0,205.7 L295.4,205.7 L295.8,205.7 L296.2,205.7 L296.6,205.7 L297.0,205.7 L297.4,205.7 L297.8,205.7 L298.2,205.7 L298.6,205.7 L299.0,205.7 L299.4,205.7 L299.8,205.7 L300.2,205.7 L300.6,205.7 L301.0,205.7 L301.4,205.7 L301.8,205.7 L302.2,205.7 L302.6,205.7 L303.0,205.7 L303.4,205.7 L303.8,205.7 L304.2,205.7 L304.6,205.7 L305.0,205.7 L305.4,205.7 L305.8,205.7 L306.2,205.7 L306.6,205.7 L307.0,205.7 L307.4,205.7 L307.8,205.7 L308.2,205.7 L308.6,205.7 L309.0,205.7 L309.4,205.7 L309.8,205.7 L310.2,205.7 L310.6,205.7 L311.0,205.7 L311.4,205.7 L311.8,205.7 L312.2,205.7 L312.6,205.7 L313.0,205.7 L313.4,205.7 L313.8,205.7 L314.2,205.7 L314.6,205.7 L315.0,205.7 L315.4,205.7 L315.8,205.7 L316.2,205.7 L316.6,205.7 L317.0,205.7 L317.4,205.7 L317.8,205.7 L318.2,205.7 L318.6,205.7 L319.0,205.7 L319.4,205.7 L319.8,205.7 L320.2,205.7 L320.6,205.7 L321.0,205.7 L321.4,205.7 L321.8,205.7 L322.2,205.7 L322.6,205.7 L323.0,205.7 L323.4,205.7 L323.8,205.7 L324.2,205.7 L324.6,205.7 L325.0,205.7 L325.4,205.7 L325.8,205.7 L326.2,205.7 L326.6,205.7 L327.0,205.7 L327.4,205.7 L327.8,205.7 L328.2,205.7 L328.6,205.7 L329.0,205.7 L329.4,205.7 L329.8,205.7 L330.2,205.7 L330.6,205.7 L331.0,205.7 L331.4,205.7 L331.8,206.2 L332.2,209.4 L332.6,212.1 L333.0,214.3 L333.4,216.2 L333.8,217.7 L334.2,219.0 L334.6,220.1 L335.0,220.9 L335.4,221.7 L335.8,222.3 L336.2,222.8 L336.6,223.2 L337.0,223.6 L337.4,223.9 L337.8,224.1 L338.2,224.3 L338.6,224.5 L339.0,224.6 L339.4,224.7 L339.8,224.8 L340.2,224.9 L340.6,225.0 L341.0,225.0 L341.4,225.1 L341.8,225.1 L342.2,225.1 L342.6,225.2 L343.0,225.2 L343.4,225.2 L343.8,225.2 L344.2,225.2 L344.6,225.2 L345.0,225.3 L345.4,225.3 L345.8,225.3 L346.2,225.3 L346.6,225.3 L347.0,225.3 L347.4,225.3 L347.8,225.3 L348.2,225.3 L348.6,225.3 L349.0,225.3 L349.4,225.3 L349.8,225.3 L350.2,225.3 L350.6,225.3 L351.0,225.3 L351.4,225.3 L351.8,225.3 L352.2,225.3 L352.6,225.3 L353.0,225.3 L353.4,225.3 L353.8,225.3 L354.2,225.3 L354.6,225.3 L355.0,225.3 L355.4,225.3 L355.8,225.3 L356.2,225.3 L356.6,225.3 L357.0,225.3 L357.4,225.3 L357.8,225.3 L358.2,225.3 L358.6,225.3 L359.0,225.3 L359.4,225.3 L359.8,225.3 L360.2,225.3 L360.6,225.3 L361.0,225.3 L361.4,225.3 L361.8,225.3 L362.2,225.3 L362.6,225.3 L363.0,225.3 L363.4,225.3 L363.8,225.3 L364.2,225.3 L364.6,225.3 L365.0,225.3 L365.4,225.3 L365.8,225.3 L366.2,225.3 L366.6,225.3 L367.0,225.3 L367.4,225.3 L367.8,225.3 L368.2,225.3 L368.6,225.3 L369.0,225.3 L369.4,225.3 L369.8,225.3 L370.2,225.3 L370.6,225.3 L371.0,225.3 L371.4,225.3 L371.8,225.3 L372.2,225.3 L372.6,225.3 L373.0,225.3 L373.4,225.3 L373.8,225.3 L374.2,225.3 L374.6,225.3 L375.0,225.3 L375.4,225.3 L375.8,225.3 L376.2,225.3 L376.6,225.3 L377.0,225.3 L377.4,225.3 L377.8,225.3 L378.2,225.3 L378.6,225.3 L379.0,225.3 L379.4,225.3 L379.8,225.3 L380.2,225.3 L380.6,225.3 L381.0,225.3 L381.4,225.3 L381.8,225.3 L382.2,225.3 L382.6,225.3 L383.0,225.3 L383.4,225.3 L383.8,225.3 L384.2,225.3 L384.6,225.3 L385.0,225.3 L385.4,225.3 L385.8,225.3 L386.2,225.3 L386.6,225.3 L387.0,225.3 L387.4,225.3 L387.8,225.3 L388.2,225.3 L388.6,225.3" fill="none" stroke="#6a6a6a" stroke-width="1.1" stroke-linejoin="round" stroke-dasharray="3.3,2.3"/>
<path d="M268.6,225.3 L269.0,216.1 L269.4,209.3 L269.8,204.2 L270.2,200.4 L270.6,197.6 L271.0,195.5 L271.4,194.0 L271.8,192.8 L272.2,191.9 L272.6,191.3 L273.0,190.8 L273.4,190.5 L273.8,190.2 L274.2,190.0 L274.6,189.8 L275.0,189.7 L275.4,189.7 L275.8,189.6 L276.2,189.6 L276.6,189.5 L277.0,189.5 L277.4,189.5 L277.8,189.5 L278.2,189.5 L278.6,189.4 L279.0,189.4 L279.4,189.4 L279.8,189.4 L280.2,189.4 L280.6,189.4 L281.0,189.4 L281.4,189.4 L281.8,189.4 L282.2,189.4 L282.6,189.4 L283.0,189.4 L283.4,189.4 L283.8,189.4 L284.2,189.4 L284.6,189.4 L285.0,189.4 L285.4,189.4 L285.8,189.4 L286.2,189.4 L286.6,189.4 L287.0,189.4 L287.4,189.4 L287.8,189.4 L288.2,189.4 L288.6,189.4 L289.0,189.4 L289.4,189.4 L289.8,189.4 L290.2,189.4 L290.6,189.4 L291.0,189.4 L291.4,189.4 L291.8,189.4 L292.2,189.4 L292.6,189.4 L293.0,189.4 L293.4,189.4 L293.8,189.4 L294.2,189.4 L294.6,189.4 L295.0,189.4 L295.4,189.4 L295.8,189.4 L296.2,189.4 L296.6,189.4 L297.0,189.4 L297.4,189.4 L297.8,189.4 L298.2,189.4 L298.6,189.4 L299.0,189.4 L299.4,189.4 L299.8,189.4 L300.2,189.4 L300.6,189.4 L301.0,189.4 L301.4,189.4 L301.8,189.4 L302.2,189.4 L302.6,189.4 L303.0,189.4 L303.4,189.4 L303.8,189.4 L304.2,189.4 L304.6,189.4 L305.0,189.4 L305.4,189.4 L305.8,189.4 L306.2,189.4 L306.6,189.4 L307.0,189.4 L307.4,189.4 L307.8,189.4 L308.2,189.4 L308.6,189.4 L309.0,189.4 L309.4,189.4 L309.8,189.4 L310.2,189.4 L310.6,189.4 L311.0,189.4 L311.4,189.4 L311.8,189.4 L312.2,189.4 L312.6,189.4 L313.0,189.4 L313.4,189.4 L313.8,189.4 L314.2,189.4 L314.6,189.4 L315.0,189.4 L315.4,189.4 L315.8,189.4 L316.2,189.4 L316.6,189.4 L317.0,189.4 L317.4,189.4 L317.8,189.4 L318.2,189.4 L318.6,189.4 L319.0,189.4 L319.4,189.4 L319.8,189.4 L320.2,189.4 L320.6,189.4 L321.0,189.4 L321.4,189.4 L321.8,189.4 L322.2,189.4 L322.6,189.4 L323.0,189.4 L323.4,189.4 L323.8,189.4 L324.2,189.4 L324.6,189.4 L325.0,189.4 L325.4,189.4 L325.8,189.4 L326.2,189.4 L326.6,189.4 L327.0,189.4 L327.4,189.4 L327.8,189.4 L328.2,189.4 L328.6,189.4 L329.0,189.4 L329.4,189.4 L329.8,189.4 L330.2,189.4 L330.6,189.4 L331.0,189.4 L331.4,189.4 L331.8,190.4 L332.2,196.3 L332.6,201.2 L333.0,205.2 L333.4,208.6 L333.8,211.4 L334.2,213.8 L334.6,215.7 L335.0,217.3 L335.4,218.7 L335.8,219.8 L336.2,220.7 L336.6,221.5 L337.0,222.1 L337.4,222.7 L337.8,223.1 L338.2,223.5 L338.6,223.8 L339.0,224.0 L339.4,224.3 L339.8,224.4 L340.2,224.6 L340.6,224.7 L341.0,224.8 L341.4,224.9 L341.8,225.0 L342.2,225.0 L342.6,225.1 L343.0,225.1 L343.4,225.1 L343.8,225.2 L344.2,225.2 L344.6,225.2 L345.0,225.2 L345.4,225.2 L345.8,225.2 L346.2,225.3 L346.6,225.3 L347.0,225.3 L347.4,225.3 L347.8,225.3 L348.2,225.3 L348.6,225.3 L349.0,225.3 L349.4,225.3 L349.8,225.3 L350.2,225.3 L350.6,225.3 L351.0,225.3 L351.4,225.3 L351.8,225.3 L352.2,225.3 L352.6,225.3 L353.0,225.3 L353.4,225.3 L353.8,225.3 L354.2,225.3 L354.6,225.3 L355.0,225.3 L355.4,225.3 L355.8,225.3 L356.2,225.3 L356.6,225.3 L357.0,225.3 L357.4,225.3 L357.8,225.3 L358.2,225.3 L358.6,225.3 L359.0,225.3 L359.4,225.3 L359.8,225.3 L360.2,225.3 L360.6,225.3 L361.0,225.3 L361.4,225.3 L361.8,225.3 L362.2,225.3 L362.6,225.3 L363.0,225.3 L363.4,225.3 L363.8,225.3 L364.2,225.3 L364.6,225.3 L365.0,225.3 L365.4,225.3 L365.8,225.3 L366.2,225.3 L366.6,225.3 L367.0,225.3 L367.4,225.3 L367.8,225.3 L368.2,225.3 L368.6,225.3 L369.0,225.3 L369.4,225.3 L369.8,225.3 L370.2,225.3 L370.6,225.3 L371.0,225.3 L371.4,225.3 L371.8,225.3 L372.2,225.3 L372.6,225.3 L373.0,225.3 L373.4,225.3 L373.8,225.3 L374.2,225.3 L374.6,225.3 L375.0,225.3 L375.4,225.3 L375.8,225.3 L376.2,225.3 L376.6,225.3 L377.0,225.3 L377.4,225.3 L377.8,225.3 L378.2,225.3 L378.6,225.3 L379.0,225.3 L379.4,225.3 L379.8,225.3 L380.2,225.3 L380.6,225.3 L381.0,225.3 L381.4,225.3 L381.8,225.3 L382.2,225.3 L382.6,225.3 L383.0,225.3 L383.4,225.3 L383.8,225.3 L384.2,225.3 L384.6,225.3 L385.0,225.3 L385.4,225.3 L385.8,225.3 L386.2,225.3 L386.6,225.3 L387.0,225.3 L387.4,225.3 L387.8,225.3 L388.2,225.3 L388.6,225.3" fill="none" stroke="#6a6a6a" stroke-width="1.1" stroke-linejoin="round" stroke-dasharray="3.3,2.3"/>
<path d="M268.6,225.3 L269.0,209.5 L269.4,197.8 L269.8,189.1 L270.2,182.6 L270.6,177.8 L271.0,174.2 L271.4,171.5 L271.8,169.5 L272.2,168.0 L272.6,166.9 L273.0,166.1 L273.4,165.5 L273.8,165.0 L274.2,164.7 L274.6,164.4 L275.0,164.3 L275.4,164.1 L275.8,164.0 L276.2,163.9 L276.6,163.9 L277.0,163.8 L277.4,163.8 L277.8,163.8 L278.2,163.8 L278.6,163.8 L279.0,163.7 L279.4,163.7 L279.8,163.7 L280.2,163.7 L280.6,163.7 L281.0,163.7 L281.4,163.7 L281.8,163.7 L282.2,163.7 L282.6,163.7 L283.0,163.7 L283.4,163.7 L283.8,163.7 L284.2,163.7 L284.6,163.7 L285.0,163.7 L285.4,163.7 L285.8,163.7 L286.2,163.7 L286.6,163.7 L287.0,163.7 L287.4,163.7 L287.8,163.7 L288.2,163.7 L288.6,163.7 L289.0,163.7 L289.4,163.7 L289.8,163.7 L290.2,163.7 L290.6,163.7 L291.0,163.7 L291.4,163.7 L291.8,163.7 L292.2,163.7 L292.6,163.7 L293.0,163.7 L293.4,163.7 L293.8,163.7 L294.2,163.7 L294.6,163.7 L295.0,163.7 L295.4,163.7 L295.8,163.7 L296.2,163.7 L296.6,163.7 L297.0,163.7 L297.4,163.7 L297.8,163.7 L298.2,163.7 L298.6,163.7 L299.0,163.7 L299.4,163.7 L299.8,163.7 L300.2,163.7 L300.6,163.7 L301.0,163.7 L301.4,163.7 L301.8,163.7 L302.2,163.7 L302.6,163.7 L303.0,163.7 L303.4,163.7 L303.8,163.7 L304.2,163.7 L304.6,163.7 L305.0,163.7 L305.4,163.7 L305.8,163.7 L306.2,163.7 L306.6,163.7 L307.0,163.7 L307.4,163.7 L307.8,163.7 L308.2,163.7 L308.6,163.7 L309.0,163.7 L309.4,163.7 L309.8,163.7 L310.2,163.7 L310.6,163.7 L311.0,163.7 L311.4,163.7 L311.8,163.7 L312.2,163.7 L312.6,163.7 L313.0,163.7 L313.4,163.7 L313.8,163.7 L314.2,163.7 L314.6,163.7 L315.0,163.7 L315.4,163.7 L315.8,163.7 L316.2,163.7 L316.6,163.7 L317.0,163.7 L317.4,163.7 L317.8,163.7 L318.2,163.7 L318.6,163.7 L319.0,163.7 L319.4,163.7 L319.8,163.7 L320.2,163.7 L320.6,163.7 L321.0,163.7 L321.4,163.7 L321.8,163.7 L322.2,163.7 L322.6,163.7 L323.0,163.7 L323.4,163.7 L323.8,163.7 L324.2,163.7 L324.6,163.7 L325.0,163.7 L325.4,163.7 L325.8,163.7 L326.2,163.7 L326.6,163.7 L327.0,163.7 L327.4,163.7 L327.8,163.7 L328.2,163.7 L328.6,163.7 L329.0,163.7 L329.4,163.7 L329.8,163.7 L330.2,163.7 L330.6,163.7 L331.0,163.7 L331.4,163.7 L331.8,165.4 L332.2,175.5 L332.6,183.9 L333.0,190.9 L333.4,196.7 L333.8,201.5 L334.2,205.5 L334.6,208.8 L335.0,211.6 L335.4,213.9 L335.8,215.8 L336.2,217.4 L336.6,218.8 L337.0,219.9 L337.4,220.8 L337.8,221.5 L338.2,222.2 L338.6,222.7 L339.0,223.1 L339.4,223.5 L339.8,223.8 L340.2,224.1 L340.6,224.3 L341.0,224.4 L341.4,224.6 L341.8,224.7 L342.2,224.8 L342.6,224.9 L343.0,225.0 L343.4,225.0 L343.8,225.1 L344.2,225.1 L344.6,225.1 L345.0,225.2 L345.4,225.2 L345.8,225.2 L346.2,225.2 L346.6,225.2 L347.0,225.2 L347.4,225.3 L347.8,225.3 L348.2,225.3 L348.6,225.3 L349.0,225.3 L349.4,225.3 L349.8,225.3 L350.2,225.3 L350.6,225.3 L351.0,225.3 L351.4,225.3 L351.8,225.3 L352.2,225.3 L352.6,225.3 L353.0,225.3 L353.4,225.3 L353.8,225.3 L354.2,225.3 L354.6,225.3 L355.0,225.3 L355.4,225.3 L355.8,225.3 L356.2,225.3 L356.6,225.3 L357.0,225.3 L357.4,225.3 L357.8,225.3 L358.2,225.3 L358.6,225.3 L359.0,225.3 L359.4,225.3 L359.8,225.3 L360.2,225.3 L360.6,225.3 L361.0,225.3 L361.4,225.3 L361.8,225.3 L362.2,225.3 L362.6,225.3 L363.0,225.3 L363.4,225.3 L363.8,225.3 L364.2,225.3 L364.6,225.3 L365.0,225.3 L365.4,225.3 L365.8,225.3 L366.2,225.3 L366.6,225.3 L367.0,225.3 L367.4,225.3 L367.8,225.3 L368.2,225.3 L368.6,225.3 L369.0,225.3 L369.4,225.3 L369.8,225.3 L370.2,225.3 L370.6,225.3 L371.0,225.3 L371.4,225.3 L371.8,225.3 L372.2,225.3 L372.6,225.3 L373.0,225.3 L373.4,225.3 L373.8,225.3 L374.2,225.3 L374.6,225.3 L375.0,225.3 L375.4,225.3 L375.8,225.3 L376.2,225.3 L376.6,225.3 L377.0,225.3 L377.4,225.3 L377.8,225.3 L378.2,225.3 L378.6,225.3 L379.0,225.3 L379.4,225.3 L379.8,225.3 L380.2,225.3 L380.6,225.3 L381.0,225.3 L381.4,225.3 L381.8,225.3 L382.2,225.3 L382.6,225.3 L383.0,225.3 L383.4,225.3 L383.8,225.3 L384.2,225.3 L384.6,225.3 L385.0,225.3 L385.4,225.3 L385.8,225.3 L386.2,225.3 L386.6,225.3 L387.0,225.3 L387.4,225.3 L387.8,225.3 L388.2,225.3 L388.6,225.3" fill="none" stroke="#6a6a6a" stroke-width="1.1" stroke-linejoin="round" stroke-dasharray="3.3,2.3"/>
<path d="M258.6,225.2 L259.0,225.2 L259.3,225.3 L259.6,225.0 L259.9,225.1 L260.3,225.2 L260.6,224.9 L260.9,224.8 L261.2,224.9 L261.6,225.1 L261.9,225.3 L262.2,225.1 L262.5,225.3 L262.9,225.1 L263.2,225.3 L263.5,225.3 L263.8,225.2 L264.2,225.2 L264.5,225.2 L264.8,225.2 L265.1,225.4 L265.5,225.6 L265.8,225.5 L266.1,225.1 L266.4,225.2 L266.8,225.4 L267.1,225.5 L267.4,225.4 L267.7,225.2 L268.1,225.0 L268.4,224.3 L268.7,223.5 L269.0,222.9 L269.4,222.6 L269.7,222.2 L270.0,222.0 L270.3,221.7 L270.7,221.9 L271.0,221.5 L271.3,221.3 L271.6,221.1 L272.0,220.9 L272.3,220.9 L272.6,221.2 L272.9,221.1 L273.3,221.0 L273.6,221.0 L273.9,221.2 L274.2,220.9 L274.6,220.8 L274.9,220.8 L275.2,220.8 L275.5,220.9 L275.9,220.9 L276.2,220.8 L276.5,220.5 L276.8,220.8 L277.2,220.8 L277.5,220.4 L277.8,220.4 L278.1,220.4 L278.5,220.3 L278.8,220.5 L279.1,220.7 L279.4,220.9 L279.8,220.9 L280.1,220.7 L280.4,220.4 L280.7,220.4 L281.1,220.5 L281.4,220.4 L281.7,220.2 L282.0,220.2 L282.4,220.6 L282.7,220.5 L283.0,220.8 L283.3,220.6 L283.7,220.6 L284.0,220.5 L284.3,220.1 L284.6,219.9 L285.0,219.9 L285.3,220.0 L285.6,220.0 L285.9,220.2 L286.3,220.1 L286.6,219.8 L286.9,220.1 L287.2,220.2 L287.6,220.1 L287.9,219.9 L288.2,219.8 L288.5,220.1 L288.9,220.1 L289.2,220.1 L289.5,220.3 L289.8,220.1 L290.2,220.2 L290.5,219.9 L290.8,219.9 L291.1,220.0 L291.5,220.0 L291.8,220.0 L292.1,220.1 L292.4,220.1 L292.8,219.8 L293.1,219.9 L293.4,220.2 L293.7,220.2 L294.1,219.9 L294.4,219.5 L294.7,219.8 L295.0,219.9 L295.3,219.9 L295.7,220.1 L296.0,219.9 L296.3,219.8 L296.6,219.7 L297.0,219.4 L297.3,219.5 L297.6,219.5 L297.9,219.4 L298.3,219.6 L298.6,219.7 L298.9,219.4 L299.2,219.4 L299.6,219.4 L299.9,219.7 L300.2,219.5 L300.5,219.4 L300.9,219.1 L301.2,219.0 L301.5,219.1 L301.8,219.2 L302.2,219.3 L302.5,219.5 L302.8,219.4 L303.1,219.4 L303.5,219.3 L303.8,219.1 L304.1,219.2 L304.4,219.4 L304.8,219.2 L305.1,219.0 L305.4,219.3 L305.7,219.2 L306.1,219.2 L306.4,219.1 L306.7,219.1 L307.0,219.2 L307.4,219.2 L307.7,218.9 L308.0,218.8 L308.3,219.2 L308.7,219.6 L309.0,219.4 L309.3,219.4 L309.6,219.4 L310.0,219.5 L310.3,219.3 L310.6,219.2 L310.9,219.3 L311.3,219.0 L311.6,218.6 L311.9,218.5 L312.2,218.5 L312.6,218.8 L312.9,218.8 L313.2,218.9 L313.5,218.7 L313.9,218.7 L314.2,218.8 L314.5,218.8 L314.8,219.0 L315.2,218.8 L315.5,218.6 L315.8,218.8 L316.1,218.7 L316.5,219.1 L316.8,218.8 L317.1,218.7 L317.4,218.9 L317.8,218.6 L318.1,218.7 L318.4,219.0 L318.7,219.2 L319.1,218.9 L319.4,218.9 L319.7,218.6 L320.0,219.0 L320.4,218.9 L320.7,218.7 L321.0,218.8 L321.3,218.7 L321.7,218.7 L322.0,218.7 L322.3,218.6 L322.6,218.3 L323.0,218.6 L323.3,218.5 L323.6,218.4 L323.9,218.7 L324.3,218.6 L324.6,218.2 L324.9,218.2 L325.2,218.9 L325.6,218.8 L325.9,219.0 L326.2,218.8 L326.5,218.8 L326.9,218.8 L327.2,218.9 L327.5,218.7 L327.8,218.7 L328.2,218.8 L328.5,218.7 L328.8,218.6 L329.1,218.7 L329.5,218.4 L329.8,218.7 L330.1,218.6 L330.4,218.6 L330.8,219.7 L331.1,221.0 L331.4,222.0 L331.7,222.8 L332.1,222.8 L332.4,223.2 L332.7,223.7 L333.0,224.0 L333.4,224.3 L333.7,224.0 L334.0,224.1 L334.3,224.6 L334.7,224.5 L335.0,224.4 L335.3,224.4 L335.6,224.4 L336.0,224.5 L336.3,224.5 L336.6,224.5 L336.9,224.6 L337.3,224.5 L337.6,224.5 L337.9,224.5 L338.2,224.7 L338.6,224.8 L338.9,224.7 L339.2,224.5 L339.5,224.9 L339.9,224.9 L340.2,224.5 L340.5,224.4 L340.8,224.6 L341.2,224.4 L341.5,224.6 L341.8,224.7 L342.1,224.3 L342.5,224.5 L342.8,224.6 L343.1,224.9 L343.4,224.9 L343.8,225.0 L344.1,224.8 L344.4,225.0 L344.7,224.7 L345.1,224.7 L345.4,224.7 L345.7,224.8 L346.0,224.6 L346.4,224.3 L346.7,224.5 L347.0,224.2 L347.3,224.1 L347.7,224.1 L348.0,224.2 L348.3,224.6 L348.6,224.5 L349.0,224.6 L349.3,224.5 L349.6,224.9 L349.9,224.8 L350.3,224.7 L350.6,224.8 L350.9,224.7 L351.2,224.3 L351.6,224.4 L351.9,224.6 L352.2,224.2 L352.5,224.7 L352.9,224.8 L353.2,224.6 L353.5,224.7 L353.8,225.0 L354.2,224.8 L354.5,224.6 L354.8,224.7 L355.1,224.4 L355.5,224.4 L355.8,224.3 L356.1,224.6 L356.4,224.6 L356.8,224.3 L357.1,224.1 L357.4,224.1 L357.7,224.3 L358.1,224.4 L358.4,224.5 L358.7,224.4 L359.0,224.6 L359.4,224.6 L359.7,224.9 L360.0,225.0 L360.3,224.5 L360.7,224.5 L361.0,224.5 L361.3,224.9 L361.6,224.8 L362.0,224.3 L362.3,224.7 L362.6,225.0 L362.9,224.9 L363.3,224.9 L363.6,224.8 L363.9,224.9 L364.2,225.0 L364.6,225.0 L364.9,224.7 L365.2,224.7 L365.5,224.5 L365.9,224.7 L366.2,224.6 L366.5,224.6 L366.8,224.6 L367.2,224.4 L367.5,224.5 L367.8,224.6 L368.1,224.9 L368.5,224.7 L368.8,224.5 L369.1,224.7 L369.4,224.6 L369.8,224.9 L370.1,225.0 L370.4,224.8 L370.7,224.5 L371.1,224.6 L371.4,224.9 L371.7,224.8 L372.0,225.0 L372.4,224.9 L372.7,224.4 L373.0,224.4 L373.3,224.5 L373.7,224.4 L374.0,224.5 L374.3,224.5 L374.6,224.5 L375.0,224.4 L375.3,224.7 L375.6,224.6 L375.9,224.4 L376.2,224.9 L376.6,225.2 L376.9,225.1 L377.2,224.6 L377.5,224.6 L377.9,224.5 L378.2,224.4 L378.5,224.3 L378.8,224.5 L379.2,224.7 L379.5,224.6 L379.8,224.5 L380.1,224.4 L380.5,224.4 L380.8,224.6 L381.1,224.4 L381.4,224.4 L381.8,224.3 L382.1,224.8 L382.4,224.6 L382.7,225.0 L383.1,224.8 L383.4,224.8 L383.7,224.7 L384.0,224.7 L384.4,224.7 L384.7,224.6 L385.0,224.5 L385.3,224.7 L385.7,225.1 L386.0,225.0 L386.3,224.7 L386.6,224.8 L387.0,224.6 L387.3,224.7 L387.6,224.8 L387.9,224.5 L388.3,224.3 L388.6,224.4" fill="none" stroke="#e9552f" stroke-width="1.7" stroke-linejoin="round" />
<path d="M258.6,225.3 L259.0,225.1 L259.3,225.4 L259.6,225.5 L259.9,225.2 L260.3,225.1 L260.6,225.3 L260.9,225.4 L261.2,225.3 L261.6,225.5 L261.9,225.5 L262.2,225.5 L262.5,225.8 L262.9,225.5 L263.2,225.3 L263.5,225.1 L263.8,225.4 L264.2,225.6 L264.5,225.6 L264.8,225.7 L265.1,225.2 L265.5,225.4 L265.8,225.4 L266.1,225.3 L266.4,225.2 L266.8,225.0 L267.1,225.3 L267.4,225.2 L267.7,225.2 L268.1,224.9 L268.4,223.5 L268.7,222.1 L269.0,220.4 L269.4,219.8 L269.7,218.9 L270.0,218.3 L270.3,218.3 L270.7,218.3 L271.0,218.0 L271.3,218.0 L271.6,217.6 L272.0,217.4 L272.3,217.4 L272.6,217.4 L272.9,217.0 L273.3,217.2 L273.6,216.7 L273.9,216.8 L274.2,216.7 L274.6,216.8 L274.9,216.3 L275.2,216.2 L275.5,216.0 L275.9,216.0 L276.2,216.1 L276.5,215.9 L276.8,215.9 L277.2,215.9 L277.5,215.9 L277.8,215.9 L278.1,216.0 L278.5,216.1 L278.8,216.3 L279.1,215.9 L279.4,216.2 L279.8,216.5 L280.1,216.4 L280.4,215.9 L280.7,215.8 L281.1,216.0 L281.4,215.9 L281.7,215.9 L282.0,216.3 L282.4,216.2 L282.7,216.0 L283.0,215.8 L283.3,216.0 L283.7,216.4 L284.0,216.4 L284.3,216.2 L284.6,216.0 L285.0,215.9 L285.3,215.9 L285.6,215.9 L285.9,216.1 L286.3,215.9 L286.6,215.8 L286.9,215.7 L287.2,215.5 L287.6,215.8 L287.9,216.2 L288.2,216.3 L288.5,215.7 L288.9,215.9 L289.2,215.8 L289.5,215.7 L289.8,215.6 L290.2,215.1 L290.5,215.4 L290.8,215.6 L291.1,215.7 L291.5,215.7 L291.8,215.6 L292.1,215.8 L292.4,215.5 L292.8,215.4 L293.1,215.4 L293.4,215.5 L293.7,215.6 L294.1,215.9 L294.4,215.7 L294.7,215.8 L295.0,215.8 L295.3,215.5 L295.7,215.7 L296.0,215.7 L296.3,215.5 L296.6,215.2 L297.0,215.4 L297.3,215.3 L297.6,215.5 L297.9,215.4 L298.3,215.4 L298.6,215.6 L298.9,215.4 L299.2,215.1 L299.6,215.2 L299.9,215.3 L300.2,215.5 L300.5,215.2 L300.9,215.2 L301.2,215.5 L301.5,215.3 L301.8,215.6 L302.2,215.6 L302.5,215.9 L302.8,215.4 L303.1,215.0 L303.5,215.2 L303.8,215.4 L304.1,215.4 L304.4,215.5 L304.8,215.3 L305.1,215.0 L305.4,215.3 L305.7,215.2 L306.1,215.5 L306.4,215.1 L306.7,215.2 L307.0,215.3 L307.4,215.0 L307.7,215.1 L308.0,214.9 L308.3,214.8 L308.7,214.7 L309.0,215.0 L309.3,215.1 L309.6,215.0 L310.0,215.1 L310.3,214.8 L310.6,215.1 L310.9,214.9 L311.3,214.7 L311.6,215.2 L311.9,215.3 L312.2,215.4 L312.6,215.4 L312.9,215.2 L313.2,215.1 L313.5,215.1 L313.9,215.1 L314.2,215.1 L314.5,215.0 L314.8,214.9 L315.2,215.1 L315.5,215.0 L315.8,215.2 L316.1,215.1 L316.5,215.3 L316.8,215.0 L317.1,214.9 L317.4,214.9 L317.8,215.0 L318.1,215.1 L318.4,215.1 L318.7,215.3 L319.1,214.9 L319.4,214.3 L319.7,214.8 L320.0,215.0 L320.4,214.9 L320.7,214.8 L321.0,215.1 L321.3,215.3 L321.7,215.0 L322.0,215.3 L322.3,214.9 L322.6,214.9 L323.0,214.9 L323.3,214.9 L323.6,214.9 L323.9,214.9 L324.3,214.9 L324.6,214.7 L324.9,214.7 L325.2,214.8 L325.6,214.9 L325.9,214.9 L326.2,215.0 L326.5,214.9 L326.9,214.5 L327.2,214.4 L327.5,214.5 L327.8,214.3 L328.2,214.3 L328.5,214.4 L328.8,214.6 L329.1,214.8 L329.5,214.7 L329.8,214.8 L330.1,215.0 L330.4,215.1 L330.8,216.9 L331.1,218.7 L331.4,220.0 L331.7,221.0 L332.1,221.9 L332.4,222.4 L332.7,222.7 L333.0,223.2 L333.4,223.4 L333.7,223.5 L334.0,223.9 L334.3,224.0 L334.7,224.2 L335.0,224.2 L335.3,224.3 L335.6,224.1 L336.0,224.4 L336.3,224.1 L336.6,224.3 L336.9,224.5 L337.3,224.6 L337.6,224.4 L337.9,224.6 L338.2,224.2 L338.6,224.1 L338.9,224.1 L339.2,224.5 L339.5,224.5 L339.9,224.6 L340.2,224.8 L340.5,224.6 L340.8,224.1 L341.2,224.4 L341.5,224.2 L341.8,224.1 L342.1,224.4 L342.5,224.5 L342.8,224.4 L343.1,224.3 L343.4,224.6 L343.8,224.5 L344.1,224.5 L344.4,224.3 L344.7,224.6 L345.1,224.6 L345.4,224.6 L345.7,224.6 L346.0,224.4 L346.4,224.5 L346.7,224.0 L347.0,224.3 L347.3,224.2 L347.7,224.1 L348.0,224.1 L348.3,224.3 L348.6,224.5 L349.0,224.5 L349.3,224.4 L349.6,224.4 L349.9,224.3 L350.3,224.2 L350.6,224.5 L350.9,224.6 L351.2,224.3 L351.6,224.4 L351.9,224.7 L352.2,224.3 L352.5,224.5 L352.9,224.6 L353.2,224.4 L353.5,224.6 L353.8,224.7 L354.2,224.4 L354.5,224.6 L354.8,224.1 L355.1,224.2 L355.5,223.8 L355.8,224.0 L356.1,224.2 L356.4,224.4 L356.8,224.4 L357.1,224.5 L357.4,224.5 L357.7,224.3 L358.1,224.6 L358.4,224.7 L358.7,224.9 L359.0,224.5 L359.4,224.5 L359.7,224.5 L360.0,224.5 L360.3,224.3 L360.7,224.3 L361.0,224.2 L361.3,224.3 L361.6,224.4 L362.0,224.4 L362.3,224.7 L362.6,224.4 L362.9,224.7 L363.3,224.8 L363.6,224.5 L363.9,224.5 L364.2,224.3 L364.6,224.1 L364.9,223.9 L365.2,223.9 L365.5,224.1 L365.9,223.9 L366.2,224.3 L366.5,224.3 L366.8,224.2 L367.2,224.3 L367.5,224.4 L367.8,224.5 L368.1,224.2 L368.5,224.7 L368.8,224.4 L369.1,224.2 L369.4,224.3 L369.8,224.3 L370.1,224.5 L370.4,224.3 L370.7,223.8 L371.1,224.2 L371.4,224.1 L371.7,224.2 L372.0,224.4 L372.4,224.5 L372.7,224.5 L373.0,224.7 L373.3,224.8 L373.7,224.4 L374.0,224.4 L374.3,224.3 L374.6,224.3 L375.0,224.3 L375.3,224.6 L375.6,224.7 L375.9,224.5 L376.2,224.3 L376.6,224.5 L376.9,224.6 L377.2,224.7 L377.5,224.5 L377.9,224.4 L378.2,224.4 L378.5,224.5 L378.8,224.4 L379.2,224.4 L379.5,224.6 L379.8,224.4 L380.1,224.6 L380.5,224.3 L380.8,224.3 L381.1,224.5 L381.4,224.3 L381.8,224.4 L382.1,224.5 L382.4,224.6 L382.7,224.8 L383.1,224.9 L383.4,224.6 L383.7,224.3 L384.0,224.5 L384.4,224.4 L384.7,224.4 L385.0,224.3 L385.3,224.2 L385.7,224.1 L386.0,224.1 L386.3,224.4 L386.6,224.3 L387.0,224.8 L387.3,224.7 L387.6,224.6 L387.9,224.4 L388.3,224.5 L388.6,224.3" fill="none" stroke="#f28c33" stroke-width="1.7" stroke-linejoin="round" />
<path d="M258.6,225.1 L259.0,225.3 L259.3,225.4 L259.6,225.3 L259.9,225.2 L260.3,225.2 L260.6,225.1 L260.9,225.4 L261.2,225.2 L261.6,225.0 L261.9,225.0 L262.2,225.0 L262.5,225.2 L262.9,225.2 L263.2,225.2 L263.5,225.5 L263.8,225.5 L264.2,225.5 L264.5,225.5 L264.8,225.6 L265.1,225.5 L265.5,225.5 L265.8,225.4 L266.1,225.4 L266.4,225.3 L266.8,225.1 L267.1,225.2 L267.4,225.2 L267.7,225.4 L268.1,225.0 L268.4,222.8 L268.7,219.7 L269.0,216.8 L269.4,214.4 L269.7,213.0 L270.0,211.2 L270.3,210.0 L270.7,208.9 L271.0,208.3 L271.3,208.1 L271.6,207.5 L272.0,207.5 L272.3,207.3 L272.6,207.1 L272.9,207.2 L273.3,207.1 L273.6,207.1 L273.9,207.1 L274.2,206.9 L274.6,206.9 L274.9,206.5 L275.2,206.6 L275.5,206.7 L275.9,206.5 L276.2,206.6 L276.5,206.5 L276.8,206.5 L277.2,206.7 L277.5,206.9 L277.8,206.9 L278.1,206.4 L278.5,206.2 L278.8,206.2 L279.1,206.2 L279.4,206.2 L279.8,206.1 L280.1,206.3 L280.4,206.4 L280.7,206.4 L281.1,206.0 L281.4,206.2 L281.7,205.9 L282.0,206.0 L282.4,205.5 L282.7,205.7 L283.0,205.7 L283.3,205.6 L283.7,205.5 L284.0,205.5 L284.3,205.8 L284.6,205.6 L285.0,205.4 L285.3,205.6 L285.6,205.7 L285.9,205.9 L286.3,205.7 L286.6,205.6 L286.9,205.7 L287.2,205.9 L287.6,205.5 L287.9,205.4 L288.2,205.5 L288.5,205.3 L288.9,205.6 L289.2,205.5 L289.5,205.7 L289.8,205.4 L290.2,205.5 L290.5,205.3 L290.8,205.5 L291.1,205.5 L291.5,205.3 L291.8,205.6 L292.1,205.5 L292.4,205.7 L292.8,205.5 L293.1,205.6 L293.4,205.6 L293.7,205.6 L294.1,205.3 L294.4,205.6 L294.7,205.5 L295.0,205.5 L295.3,205.6 L295.7,205.6 L296.0,205.6 L296.3,205.5 L296.6,205.7 L297.0,205.5 L297.3,205.6 L297.6,205.5 L297.9,205.0 L298.3,205.3 L298.6,205.3 L298.9,205.3 L299.2,205.1 L299.6,205.2 L299.9,205.5 L300.2,205.7 L300.5,205.5 L300.9,205.3 L301.2,205.1 L301.5,205.2 L301.8,205.1 L302.2,205.3 L302.5,205.0 L302.8,205.0 L303.1,205.2 L303.5,205.1 L303.8,204.8 L304.1,205.0 L304.4,205.3 L304.8,205.3 L305.1,205.4 L305.4,205.3 L305.7,205.1 L306.1,205.1 L306.4,205.0 L306.7,204.8 L307.0,204.9 L307.4,205.1 L307.7,205.4 L308.0,205.2 L308.3,205.2 L308.7,205.1 L309.0,204.9 L309.3,204.8 L309.6,205.1 L310.0,205.2 L310.3,205.0 L310.6,205.0 L310.9,204.7 L311.3,204.8 L311.6,205.2 L311.9,204.8 L312.2,205.1 L312.6,205.1 L312.9,204.9 L313.2,205.0 L313.5,204.5 L313.9,204.5 L314.2,204.5 L314.5,204.7 L314.8,204.3 L315.2,204.4 L315.5,204.6 L315.8,204.4 L316.1,204.8 L316.5,204.8 L316.8,204.7 L317.1,204.7 L317.4,204.8 L317.8,204.5 L318.1,204.3 L318.4,204.6 L318.7,204.5 L319.1,204.7 L319.4,204.7 L319.7,204.5 L320.0,204.5 L320.4,204.5 L320.7,204.5 L321.0,204.7 L321.3,204.5 L321.7,204.6 L322.0,204.4 L322.3,204.5 L322.6,204.6 L323.0,204.3 L323.3,204.4 L323.6,204.5 L323.9,204.6 L324.3,204.5 L324.6,204.1 L324.9,204.2 L325.2,204.4 L325.6,204.6 L325.9,204.7 L326.2,204.6 L326.5,204.5 L326.9,204.6 L327.2,204.3 L327.5,204.5 L327.8,204.6 L328.2,204.4 L328.5,204.3 L328.8,204.4 L329.1,204.3 L329.5,204.6 L329.8,204.2 L330.1,203.9 L330.4,203.7 L330.8,208.2 L331.1,211.3 L331.4,213.9 L331.7,215.7 L332.1,217.4 L332.4,218.5 L332.7,219.4 L333.0,220.4 L333.4,220.8 L333.7,220.8 L334.0,221.7 L334.3,221.7 L334.7,221.7 L335.0,221.7 L335.3,221.8 L335.6,221.7 L336.0,221.8 L336.3,222.3 L336.6,222.4 L336.9,222.4 L337.3,222.3 L337.6,222.3 L337.9,222.3 L338.2,222.0 L338.6,222.6 L338.9,222.3 L339.2,222.1 L339.5,222.0 L339.9,222.1 L340.2,222.2 L340.5,222.1 L340.8,222.1 L341.2,222.3 L341.5,222.1 L341.8,222.3 L342.1,222.3 L342.5,222.3 L342.8,222.5 L343.1,222.3 L343.4,222.3 L343.8,222.5 L344.1,222.4 L344.4,222.6 L344.7,222.2 L345.1,222.1 L345.4,221.8 L345.7,222.1 L346.0,222.0 L346.4,222.3 L346.7,222.4 L347.0,222.4 L347.3,222.2 L347.7,222.1 L348.0,222.2 L348.3,222.0 L348.6,221.9 L349.0,222.2 L349.3,222.3 L349.6,222.4 L349.9,222.1 L350.3,222.2 L350.6,222.1 L350.9,222.0 L351.2,222.1 L351.6,222.3 L351.9,222.2 L352.2,222.4 L352.5,222.5 L352.9,222.6 L353.2,222.4 L353.5,222.3 L353.8,222.0 L354.2,222.4 L354.5,222.3 L354.8,222.5 L355.1,222.2 L355.5,222.1 L355.8,222.1 L356.1,221.9 L356.4,222.1 L356.8,222.3 L357.1,222.4 L357.4,222.5 L357.7,222.4 L358.1,222.2 L358.4,222.0 L358.7,222.1 L359.0,222.3 L359.4,222.3 L359.7,222.4 L360.0,222.4 L360.3,222.4 L360.7,222.5 L361.0,222.4 L361.3,222.4 L361.6,222.4 L362.0,222.6 L362.3,222.4 L362.6,222.3 L362.9,222.1 L363.3,222.3 L363.6,222.5 L363.9,222.6 L364.2,222.7 L364.6,222.6 L364.9,222.5 L365.2,222.7 L365.5,222.4 L365.9,222.6 L366.2,222.6 L366.5,222.6 L366.8,222.3 L367.2,222.0 L367.5,222.1 L367.8,222.2 L368.1,222.3 L368.5,222.3 L368.8,222.3 L369.1,221.9 L369.4,222.2 L369.8,222.2 L370.1,222.4 L370.4,222.3 L370.7,222.4 L371.1,222.2 L371.4,222.4 L371.7,222.0 L372.0,222.1 L372.4,222.4 L372.7,222.2 L373.0,222.3 L373.3,222.5 L373.7,222.3 L374.0,222.4 L374.3,222.2 L374.6,222.3 L375.0,222.1 L375.3,222.2 L375.6,222.1 L375.9,222.2 L376.2,222.3 L376.6,222.3 L376.9,222.2 L377.2,222.1 L377.5,222.2 L377.9,221.9 L378.2,221.7 L378.5,222.1 L378.8,222.0 L379.2,222.1 L379.5,222.1 L379.8,222.3 L380.1,222.0 L380.5,222.2 L380.8,222.3 L381.1,222.4 L381.4,222.0 L381.8,221.9 L382.1,222.3 L382.4,222.3 L382.7,222.2 L383.1,222.3 L383.4,222.3 L383.7,222.5 L384.0,222.4 L384.4,222.5 L384.7,222.3 L385.0,221.8 L385.3,222.1 L385.7,221.9 L386.0,221.9 L386.3,222.2 L386.6,222.3 L387.0,222.4 L387.3,222.3 L387.6,222.2 L387.9,222.0 L388.3,222.2 L388.6,222.4" fill="none" stroke="#2b858c" stroke-width="1.7" stroke-linejoin="round" />
<path d="M258.6,225.3 L259.0,225.0 L259.3,225.1 L259.6,225.2 L259.9,225.6 L260.3,225.5 L260.6,225.4 L260.9,225.5 L261.2,225.2 L261.6,225.3 L261.9,225.5 L262.2,225.5 L262.5,225.4 L262.9,225.2 L263.2,225.3 L263.5,225.6 L263.8,225.5 L264.2,225.3 L264.5,225.1 L264.8,225.3 L265.1,225.1 L265.5,225.0 L265.8,225.1 L266.1,225.3 L266.4,225.4 L266.8,225.6 L267.1,225.3 L267.4,225.3 L267.7,225.1 L268.1,223.4 L268.4,219.7 L268.7,214.9 L269.0,209.5 L269.4,205.9 L269.7,203.4 L270.0,201.1 L270.3,199.0 L270.7,197.1 L271.0,195.7 L271.3,194.4 L271.6,194.1 L272.0,193.9 L272.3,193.7 L272.6,193.5 L272.9,193.0 L273.3,192.6 L273.6,192.4 L273.9,192.1 L274.2,191.9 L274.6,191.9 L274.9,191.8 L275.2,191.7 L275.5,191.3 L275.9,191.5 L276.2,191.4 L276.5,191.3 L276.8,191.2 L277.2,191.2 L277.5,191.0 L277.8,191.3 L278.1,191.3 L278.5,191.6 L278.8,191.4 L279.1,190.9 L279.4,191.0 L279.8,191.0 L280.1,191.0 L280.4,191.0 L280.7,191.2 L281.1,191.2 L281.4,191.1 L281.7,191.0 L282.0,191.1 L282.4,191.0 L282.7,191.1 L283.0,191.2 L283.3,191.2 L283.7,191.1 L284.0,190.8 L284.3,190.6 L284.6,190.5 L285.0,190.6 L285.3,190.8 L285.6,191.0 L285.9,190.9 L286.3,190.6 L286.6,190.4 L286.9,190.4 L287.2,190.5 L287.6,190.6 L287.9,190.5 L288.2,190.5 L288.5,190.5 L288.9,190.6 L289.2,190.6 L289.5,190.6 L289.8,190.4 L290.2,190.6 L290.5,190.3 L290.8,190.4 L291.1,190.5 L291.5,190.4 L291.8,190.4 L292.1,190.4 L292.4,190.3 L292.8,190.4 L293.1,190.7 L293.4,190.4 L293.7,190.4 L294.1,190.0 L294.4,190.0 L294.7,190.5 L295.0,190.1 L295.3,190.3 L295.7,190.1 L296.0,189.7 L296.3,189.7 L296.6,190.0 L297.0,190.0 L297.3,190.3 L297.6,190.1 L297.9,189.9 L298.3,190.1 L298.6,189.9 L298.9,189.8 L299.2,189.7 L299.6,189.8 L299.9,189.9 L300.2,190.1 L300.5,190.2 L300.9,189.9 L301.2,189.8 L301.5,189.5 L301.8,189.5 L302.2,189.6 L302.5,189.9 L302.8,189.5 L303.1,189.5 L303.5,189.5 L303.8,189.7 L304.1,189.8 L304.4,189.5 L304.8,189.6 L305.1,189.4 L305.4,189.3 L305.7,189.4 L306.1,189.6 L306.4,189.4 L306.7,189.1 L307.0,189.3 L307.4,189.5 L307.7,189.2 L308.0,189.1 L308.3,189.2 L308.7,189.0 L309.0,189.1 L309.3,189.0 L309.6,189.1 L310.0,189.2 L310.3,189.0 L310.6,189.1 L310.9,189.4 L311.3,189.3 L311.6,188.9 L311.9,188.7 L312.2,188.4 L312.6,188.4 L312.9,188.2 L313.2,188.4 L313.5,188.6 L313.9,188.5 L314.2,188.8 L314.5,188.6 L314.8,188.7 L315.2,188.6 L315.5,188.7 L315.8,188.7 L316.1,188.4 L316.5,188.5 L316.8,188.6 L317.1,188.5 L317.4,188.3 L317.8,188.4 L318.1,188.6 L318.4,188.7 L318.7,188.8 L319.1,188.4 L319.4,188.4 L319.7,188.2 L320.0,188.1 L320.4,188.1 L320.7,188.0 L321.0,188.2 L321.3,188.4 L321.7,188.2 L322.0,188.2 L322.3,188.0 L322.6,188.2 L323.0,188.2 L323.3,187.8 L323.6,188.0 L323.9,188.0 L324.3,187.7 L324.6,187.8 L324.9,187.8 L325.2,188.2 L325.6,187.9 L325.9,188.0 L326.2,187.7 L326.5,187.7 L326.9,187.8 L327.2,187.7 L327.5,187.7 L327.8,187.8 L328.2,187.5 L328.5,187.4 L328.8,187.5 L329.1,187.4 L329.5,187.3 L329.8,187.3 L330.1,187.4 L330.4,187.4 L330.8,195.5 L331.1,201.6 L331.4,206.3 L331.7,210.1 L332.1,212.8 L332.4,214.8 L332.7,216.6 L333.0,217.8 L333.4,218.6 L333.7,219.3 L334.0,219.9 L334.3,220.3 L334.7,220.7 L335.0,220.8 L335.3,221.1 L335.6,221.5 L336.0,221.7 L336.3,221.6 L336.6,221.5 L336.9,221.6 L337.3,221.8 L337.6,221.8 L337.9,221.9 L338.2,221.9 L338.6,221.8 L338.9,221.9 L339.2,221.7 L339.5,221.8 L339.9,221.8 L340.2,221.8 L340.5,221.5 L340.8,221.3 L341.2,221.3 L341.5,221.6 L341.8,221.6 L342.1,221.5 L342.5,221.4 L342.8,221.8 L343.1,221.7 L343.4,221.8 L343.8,221.6 L344.1,221.5 L344.4,221.7 L344.7,221.3 L345.1,221.5 L345.4,221.1 L345.7,221.4 L346.0,221.5 L346.4,221.3 L346.7,221.5 L347.0,221.6 L347.3,221.4 L347.7,221.5 L348.0,221.5 L348.3,221.8 L348.6,221.4 L349.0,221.4 L349.3,221.4 L349.6,221.4 L349.9,221.6 L350.3,221.7 L350.6,222.0 L350.9,221.8 L351.2,221.5 L351.6,221.4 L351.9,221.4 L352.2,221.4 L352.5,221.6 L352.9,221.9 L353.2,221.7 L353.5,221.6 L353.8,221.5 L354.2,221.6 L354.5,221.8 L354.8,221.7 L355.1,221.8 L355.5,222.0 L355.8,222.0 L356.1,222.0 L356.4,222.1 L356.8,222.0 L357.1,221.7 L357.4,221.3 L357.7,221.1 L358.1,221.4 L358.4,221.3 L358.7,221.5 L359.0,221.5 L359.4,221.7 L359.7,221.7 L360.0,222.0 L360.3,221.5 L360.7,221.7 L361.0,221.6 L361.3,221.7 L361.6,221.7 L362.0,221.9 L362.3,221.8 L362.6,221.6 L362.9,221.5 L363.3,221.9 L363.6,221.7 L363.9,221.9 L364.2,221.7 L364.6,221.6 L364.9,221.8 L365.2,221.8 L365.5,221.8 L365.9,221.7 L366.2,221.5 L366.5,221.3 L366.8,221.4 L367.2,221.2 L367.5,221.5 L367.8,221.3 L368.1,221.5 L368.5,221.4 L368.8,221.5 L369.1,221.6 L369.4,221.8 L369.8,221.7 L370.1,221.3 L370.4,221.4 L370.7,221.5 L371.1,221.6 L371.4,221.5 L371.7,221.6 L372.0,221.6 L372.4,221.6 L372.7,221.4 L373.0,221.4 L373.3,221.7 L373.7,221.8 L374.0,221.7 L374.3,221.6 L374.6,221.4 L375.0,221.6 L375.3,221.2 L375.6,221.4 L375.9,221.3 L376.2,221.2 L376.6,221.1 L376.9,221.3 L377.2,221.3 L377.5,221.7 L377.9,222.0 L378.2,222.0 L378.5,221.7 L378.8,221.5 L379.2,221.6 L379.5,221.5 L379.8,221.4 L380.1,221.3 L380.5,221.7 L380.8,221.8 L381.1,221.9 L381.4,222.0 L381.8,221.6 L382.1,221.8 L382.4,221.9 L382.7,221.9 L383.1,221.6 L383.4,221.7 L383.7,221.6 L384.0,221.5 L384.4,221.7 L384.7,222.1 L385.0,222.1 L385.3,222.1 L385.7,221.7 L386.0,221.8 L386.3,221.9 L386.6,221.8 L387.0,221.7 L387.3,221.8 L387.6,221.6 L387.9,221.5 L388.3,221.5 L388.6,221.7" fill="none" stroke="#4f72c2" stroke-width="1.7" stroke-linejoin="round" />
<path d="M258.6,225.4 L259.0,225.7 L259.3,225.5 L259.6,225.3 L259.9,225.5 L260.3,225.4 L260.6,224.8 L260.9,225.2 L261.2,225.5 L261.6,225.3 L261.9,225.4 L262.2,225.4 L262.5,225.3 L262.9,225.3 L263.2,225.1 L263.5,225.1 L263.8,225.0 L264.2,225.1 L264.5,225.5 L264.8,225.2 L265.1,225.5 L265.5,225.3 L265.8,225.2 L266.1,225.5 L266.4,225.4 L266.8,225.2 L267.1,225.4 L267.4,225.4 L267.7,225.5 L268.1,222.4 L268.4,214.6 L268.7,204.8 L269.0,196.1 L269.4,188.0 L269.7,180.4 L270.0,176.5 L270.3,174.3 L270.7,172.7 L271.0,172.0 L271.3,171.2 L271.6,170.8 L272.0,170.7 L272.3,169.9 L272.6,169.6 L272.9,169.2 L273.3,168.8 L273.6,168.5 L273.9,168.1 L274.2,167.9 L274.6,167.7 L274.9,167.6 L275.2,167.4 L275.5,167.4 L275.9,167.1 L276.2,166.7 L276.5,166.5 L276.8,166.5 L277.2,166.7 L277.5,166.4 L277.8,166.2 L278.1,165.9 L278.5,166.4 L278.8,166.3 L279.1,166.2 L279.4,166.0 L279.8,166.1 L280.1,166.1 L280.4,165.6 L280.7,165.5 L281.1,165.9 L281.4,165.8 L281.7,165.5 L282.0,165.6 L282.4,165.5 L282.7,165.5 L283.0,165.7 L283.3,165.7 L283.7,165.3 L284.0,165.1 L284.3,165.3 L284.6,165.1 L285.0,165.2 L285.3,165.2 L285.6,165.1 L285.9,165.3 L286.3,165.2 L286.6,165.2 L286.9,165.5 L287.2,165.4 L287.6,165.4 L287.9,165.3 L288.2,165.3 L288.5,165.2 L288.9,165.5 L289.2,165.0 L289.5,164.9 L289.8,164.8 L290.2,164.8 L290.5,164.7 L290.8,164.7 L291.1,164.9 L291.5,165.0 L291.8,164.8 L292.1,164.5 L292.4,164.5 L292.8,164.2 L293.1,164.6 L293.4,164.6 L293.7,164.6 L294.1,164.3 L294.4,164.1 L294.7,164.3 L295.0,164.2 L295.3,164.3 L295.7,164.4 L296.0,164.4 L296.3,164.5 L296.6,164.1 L297.0,164.0 L297.3,163.9 L297.6,163.9 L297.9,164.4 L298.3,164.1 L298.6,164.1 L298.9,164.5 L299.2,164.3 L299.6,164.0 L299.9,163.7 L300.2,164.0 L300.5,163.8 L300.9,163.8 L301.2,163.9 L301.5,163.9 L301.8,163.8 L302.2,163.7 L302.5,163.7 L302.8,163.8 L303.1,164.0 L303.5,163.7 L303.8,163.5 L304.1,163.7 L304.4,163.7 L304.8,163.6 L305.1,163.9 L305.4,163.8 L305.7,163.3 L306.1,163.4 L306.4,163.6 L306.7,163.3 L307.0,163.4 L307.4,163.4 L307.7,163.6 L308.0,163.5 L308.3,163.8 L308.7,163.9 L309.0,164.0 L309.3,163.7 L309.6,163.6 L310.0,163.4 L310.3,163.7 L310.6,163.7 L310.9,163.4 L311.3,163.5 L311.6,163.8 L311.9,163.7 L312.2,163.6 L312.6,163.5 L312.9,163.2 L313.2,163.0 L313.5,162.9 L313.9,162.9 L314.2,163.1 L314.5,163.2 L314.8,163.5 L315.2,163.1 L315.5,162.9 L315.8,163.0 L316.1,163.2 L316.5,163.0 L316.8,162.9 L317.1,163.0 L317.4,163.2 L317.8,163.1 L318.1,163.1 L318.4,162.9 L318.7,162.8 L319.1,162.8 L319.4,162.9 L319.7,162.6 L320.0,162.6 L320.4,162.5 L320.7,162.5 L321.0,162.5 L321.3,162.5 L321.7,162.8 L322.0,163.1 L322.3,163.1 L322.6,162.8 L323.0,162.6 L323.3,162.6 L323.6,162.6 L323.9,162.3 L324.3,162.4 L324.6,162.8 L324.9,162.9 L325.2,162.8 L325.6,162.5 L325.9,162.3 L326.2,162.3 L326.5,162.2 L326.9,162.2 L327.2,162.3 L327.5,162.3 L327.8,162.1 L328.2,161.9 L328.5,162.0 L328.8,162.0 L329.1,161.7 L329.5,161.2 L329.8,161.6 L330.1,162.0 L330.4,162.0 L330.8,175.7 L331.1,186.4 L331.4,194.4 L331.7,200.5 L332.1,205.5 L332.4,209.0 L332.7,211.5 L333.0,213.5 L333.4,214.9 L333.7,216.3 L334.0,217.5 L334.3,217.9 L334.7,218.4 L335.0,219.0 L335.3,219.2 L335.6,219.3 L336.0,219.6 L336.3,220.2 L336.6,220.3 L336.9,220.4 L337.3,220.5 L337.6,220.4 L337.9,220.5 L338.2,220.4 L338.6,220.0 L338.9,220.4 L339.2,220.2 L339.5,220.3 L339.9,220.2 L340.2,220.3 L340.5,220.1 L340.8,220.3 L341.2,220.2 L341.5,220.4 L341.8,220.3 L342.1,220.4 L342.5,220.2 L342.8,220.5 L343.1,220.7 L343.4,220.3 L343.8,220.3 L344.1,220.0 L344.4,220.3 L344.7,220.3 L345.1,220.2 L345.4,220.0 L345.7,220.1 L346.0,220.3 L346.4,220.2 L346.7,220.3 L347.0,220.4 L347.3,220.3 L347.7,220.6 L348.0,220.7 L348.3,220.3 L348.6,220.4 L349.0,220.5 L349.3,220.4 L349.6,220.2 L349.9,220.2 L350.3,220.4 L350.6,220.5 L350.9,220.3 L351.2,220.3 L351.6,220.4 L351.9,220.3 L352.2,220.1 L352.5,219.8 L352.9,220.2 L353.2,220.4 L353.5,220.5 L353.8,220.4 L354.2,220.5 L354.5,220.2 L354.8,220.7 L355.1,220.4 L355.5,220.5 L355.8,220.5 L356.1,220.3 L356.4,220.3 L356.8,220.5 L357.1,220.2 L357.4,220.2 L357.7,220.3 L358.1,220.3 L358.4,220.5 L358.7,220.7 L359.0,220.6 L359.4,220.4 L359.7,220.4 L360.0,220.5 L360.3,220.7 L360.7,220.8 L361.0,220.4 L361.3,220.3 L361.6,220.5 L362.0,220.2 L362.3,220.2 L362.6,220.3 L362.9,220.4 L363.3,220.2 L363.6,220.2 L363.9,220.0 L364.2,220.1 L364.6,220.3 L364.9,220.4 L365.2,220.5 L365.5,220.4 L365.9,220.3 L366.2,220.3 L366.5,220.2 L366.8,220.5 L367.2,220.5 L367.5,220.6 L367.8,220.4 L368.1,220.6 L368.5,220.6 L368.8,220.7 L369.1,220.6 L369.4,220.6 L369.8,220.2 L370.1,220.3 L370.4,220.6 L370.7,220.5 L371.1,220.3 L371.4,220.3 L371.7,220.3 L372.0,220.0 L372.4,219.9 L372.7,220.1 L373.0,220.0 L373.3,220.4 L373.7,220.4 L374.0,220.5 L374.3,220.4 L374.6,220.1 L375.0,220.3 L375.3,220.1 L375.6,220.4 L375.9,220.1 L376.2,220.5 L376.6,220.6 L376.9,220.3 L377.2,220.4 L377.5,220.3 L377.9,220.3 L378.2,220.3 L378.5,220.4 L378.8,220.5 L379.2,220.5 L379.5,220.4 L379.8,220.6 L380.1,220.4 L380.5,220.1 L380.8,220.5 L381.1,220.5 L381.4,220.5 L381.8,220.4 L382.1,220.4 L382.4,220.5 L382.7,220.5 L383.1,220.4 L383.4,220.4 L383.7,220.1 L384.0,220.2 L384.4,220.5 L384.7,220.7 L385.0,220.5 L385.3,220.5 L385.7,220.5 L386.0,220.7 L386.3,220.6 L386.6,220.5 L387.0,220.6 L387.3,220.6 L387.6,220.3 L387.9,220.2 L388.3,220.2 L388.6,220.3" fill="none" stroke="#46296f" stroke-width="1.7" stroke-linejoin="round" />
<line x1="491.30" y1="146.20" x2="491.30" y2="233.10" stroke="#1a1a1a" stroke-width="1.0" />
<line x1="490.80" y1="232.60" x2="621.90" y2="232.60" stroke="#1a1a1a" stroke-width="1.0" />
<line x1="499.40" y1="232.60" x2="499.40" y2="235.60" stroke="#1a1a1a" stroke-width="1.0" />
<text transform="translate(499.40,244.00) scale(1,1.05)" text-anchor="middle" font-size="8" >0</text>
<line x1="526.67" y1="232.60" x2="526.67" y2="234.60" stroke="#1a1a1a" stroke-width="1.0" />
<line x1="553.94" y1="232.60" x2="553.94" y2="235.60" stroke="#1a1a1a" stroke-width="1.0" />
<text transform="translate(553.94,244.00) scale(1,1.05)" text-anchor="middle" font-size="8" >200</text>
<line x1="581.21" y1="232.60" x2="581.21" y2="234.60" stroke="#1a1a1a" stroke-width="1.0" />
<line x1="608.48" y1="232.60" x2="608.48" y2="235.60" stroke="#1a1a1a" stroke-width="1.0" />
<text transform="translate(608.48,244.00) scale(1,1.05)" text-anchor="middle" font-size="8" >400</text>
<line x1="488.30" y1="225.20" x2="491.30" y2="225.20" stroke="#1a1a1a" stroke-width="1.0" />
<text transform="translate(487.30,228.10) scale(1,1.05)" text-anchor="end" font-size="8" >0</text>
<line x1="489.30" y1="210.70" x2="491.30" y2="210.70" stroke="#1a1a1a" stroke-width="1.0" />
<line x1="488.30" y1="196.20" x2="491.30" y2="196.20" stroke="#1a1a1a" stroke-width="1.0" />
<text transform="translate(487.30,199.10) scale(1,1.05)" text-anchor="end" font-size="8" >50</text>
<line x1="489.30" y1="181.70" x2="491.30" y2="181.70" stroke="#1a1a1a" stroke-width="1.0" />
<line x1="488.30" y1="167.20" x2="491.30" y2="167.20" stroke="#1a1a1a" stroke-width="1.0" />
<text transform="translate(487.30,170.10) scale(1,1.05)" text-anchor="end" font-size="8" >100</text>
<line x1="489.30" y1="152.70" x2="491.30" y2="152.70" stroke="#1a1a1a" stroke-width="1.0" />
<text x="0" y="0" transform="translate(471.10,189.70) rotate(-90) scale(1,1.05)" text-anchor="middle" font-size="8">Response (RU)</text>
<text transform="translate(556.60,254.40) scale(1,1.05)" text-anchor="middle" font-size="8" >Time (s)</text>
<text transform="translate(499.00,151.70) scale(1,1.05)" font-size="8">K<tspan font-size="5" dy="2.3">D</tspan><tspan dx="-0.5" dy="-2.3">: 0.5 nM ± 0.07</tspan></text>
<text transform="translate(685.40,150.60) scale(1,1.05)" text-anchor="end" font-size="8" >[Hp(2-2)Hb] (nM)</text>
<line x1="646.00" y1="167.50" x2="662.50" y2="167.50" stroke="#46296f" stroke-width="1.6" />
<text transform="translate(685.40,170.40) scale(1,1.05)" text-anchor="end" font-size="8" >625</text>
<line x1="646.00" y1="181.50" x2="662.50" y2="181.50" stroke="#4f72c2" stroke-width="1.6" />
<text transform="translate(685.40,184.40) scale(1,1.05)" text-anchor="end" font-size="8" >312</text>
<line x1="646.00" y1="195.60" x2="662.50" y2="195.60" stroke="#2b858c" stroke-width="1.6" />
<text transform="translate(685.40,198.50) scale(1,1.05)" text-anchor="end" font-size="8" >156</text>
<line x1="646.00" y1="209.60" x2="662.50" y2="209.60" stroke="#f28c33" stroke-width="1.6" />
<text transform="translate(685.40,212.50) scale(1,1.05)" text-anchor="end" font-size="8" >78</text>
<line x1="646.00" y1="223.70" x2="662.50" y2="223.70" stroke="#e9552f" stroke-width="1.6" />
<text transform="translate(685.40,226.60) scale(1,1.05)" text-anchor="end" font-size="8" >39</text>
<path d="M491.2,225.4 L491.8,225.2 L492.4,225.0 L492.9,225.0 L493.5,224.9 L494.1,225.0 L494.6,225.0 L495.2,225.1 L495.8,225.0 L496.3,225.1 L496.9,224.9 L497.5,224.9 L498.0,225.1 L498.6,225.1 L499.2,225.3 L499.7,225.3 L500.3,224.9 L500.9,224.1 L501.4,223.8 L502.0,223.3 L502.6,223.0 L503.1,222.6 L503.7,222.2 L504.3,222.0 L504.8,221.5 L505.4,220.9 L506.0,220.6 L506.5,220.3 L507.1,220.0 L507.7,219.6 L508.3,219.4 L508.8,219.0 L509.4,218.7 L510.0,218.4 L510.5,218.1 L511.1,217.7 L511.7,217.4 L512.2,217.2 L512.8,217.0 L513.4,216.7 L513.9,216.2 L514.5,215.9 L515.1,215.8 L515.6,215.6 L516.2,215.0 L516.8,214.7 L517.3,214.5 L517.9,214.3 L518.5,213.9 L519.0,213.3 L519.6,212.9 L520.2,212.7 L520.7,212.4 L521.3,211.9 L521.9,211.8 L522.4,211.3 L523.0,211.0 L523.6,210.7 L524.1,210.3 L524.7,210.0 L525.3,209.8 L525.8,209.7 L526.4,209.3 L527.0,208.9 L527.6,208.5 L528.1,208.6 L528.7,208.0 L529.3,207.7 L529.8,207.3 L530.4,207.1 L531.0,206.9 L531.5,206.6 L532.1,206.4 L532.7,206.3 L533.2,206.1 L533.8,205.9 L534.4,205.7 L534.9,205.6 L535.5,205.5 L536.1,205.1 L536.6,204.8 L537.2,204.6 L537.8,204.5 L538.3,204.1 L538.9,203.9 L539.5,203.9 L540.0,203.4 L540.6,203.3 L541.2,202.7 L541.7,202.4 L542.3,202.3 L542.9,202.4 L543.4,202.1 L544.0,201.7 L544.6,201.4 L545.2,201.4 L545.7,201.5 L546.3,201.5 L546.9,201.5 L547.4,201.4 L548.0,201.4 L548.6,201.4 L549.1,201.6 L549.7,201.6 L550.3,201.4 L550.8,201.5 L551.4,201.4 L552.0,201.1 L552.5,201.2 L553.1,201.4 L553.7,201.3 L554.2,201.6 L554.8,201.5 L555.4,201.5 L555.9,201.3 L556.5,201.2 L557.1,201.3 L557.6,201.1 L558.2,201.1 L558.8,201.3 L559.3,201.5 L559.9,201.2 L560.5,201.3 L561.0,201.3 L561.6,201.4 L562.2,201.5 L562.8,201.6 L563.3,201.6 L563.9,201.5 L564.5,201.4 L565.0,201.5 L565.6,201.6 L566.2,201.7 L566.7,201.6 L567.3,201.5 L567.9,201.4 L568.4,201.5 L569.0,201.4 L569.6,201.4 L570.1,201.2 L570.7,201.3 L571.3,201.4 L571.8,201.3 L572.4,201.2 L573.0,201.4 L573.5,201.5 L574.1,201.5 L574.7,201.7 L575.2,201.5 L575.8,201.4 L576.4,201.4 L576.9,201.0 L577.5,201.1 L578.1,201.0 L578.6,201.0 L579.2,201.1 L579.8,201.4 L580.3,201.3 L580.9,201.3 L581.5,201.5 L582.1,201.5 L582.6,201.4 L583.2,201.3 L583.8,201.4 L584.3,201.5 L584.9,201.4 L585.5,201.5 L586.0,201.5 L586.6,201.4 L587.2,201.6 L587.7,201.5 L588.3,201.7 L588.9,201.7 L589.4,201.8 L590.0,201.7 L590.6,201.5 L591.1,201.5 L591.7,201.4 L592.3,201.4 L592.8,201.5 L593.4,201.4 L594.0,201.5 L594.5,201.5 L595.1,201.4 L595.7,201.5 L596.2,201.4 L596.8,201.6 L597.4,201.6 L597.9,201.7 L598.5,201.7 L599.1,201.5 L599.7,201.5 L600.2,201.3 L600.8,201.6 L601.4,201.7 L601.9,201.6 L602.5,201.5 L603.1,201.4 L603.6,201.6 L604.2,201.6 L604.8,201.6 L605.3,201.5 L605.9,201.5 L606.5,201.5 L607.0,201.7 L607.6,201.8 L608.2,201.9 L608.7,201.9 L609.3,201.8 L609.9,201.5 L610.4,201.6 L611.0,201.7 L611.6,201.8 L612.1,201.9 L612.7,201.8 L613.3,201.7 L613.8,201.7 L614.4,201.8 L615.0,201.6 L615.5,201.8 L616.1,201.6" fill="none" stroke="#e9552f" stroke-width="1.7" stroke-linejoin="round" />
<path d="M491.2,225.3 L491.8,225.2 L492.4,225.3 L492.9,225.2 L493.5,225.1 L494.1,225.2 L494.6,225.0 L495.2,225.1 L495.8,225.2 L496.3,225.1 L496.9,225.3 L497.5,225.3 L498.0,225.3 L498.6,225.2 L499.2,225.0 L499.7,225.1 L500.3,224.2 L500.9,222.8 L501.4,221.5 L502.0,220.6 L502.6,219.6 L503.1,219.1 L503.7,218.4 L504.3,217.6 L504.8,217.0 L505.4,216.5 L506.0,215.9 L506.5,215.1 L507.1,214.4 L507.7,213.5 L508.3,212.8 L508.8,212.4 L509.4,211.6 L510.0,210.9 L510.5,210.2 L511.1,209.7 L511.7,209.2 L512.2,208.6 L512.8,207.9 L513.4,207.4 L513.9,206.7 L514.5,206.2 L515.1,205.8 L515.6,205.5 L516.2,204.7 L516.8,204.5 L517.3,204.0 L517.9,203.5 L518.5,203.1 L519.0,202.6 L519.6,202.0 L520.2,201.2 L520.7,200.8 L521.3,200.5 L521.9,200.0 L522.4,199.4 L523.0,199.1 L523.6,198.7 L524.1,198.4 L524.7,197.8 L525.3,197.2 L525.8,196.6 L526.4,196.4 L527.0,195.7 L527.6,195.3 L528.1,194.9 L528.7,194.6 L529.3,194.2 L529.8,193.9 L530.4,193.3 L531.0,192.9 L531.5,192.5 L532.1,192.0 L532.7,191.6 L533.2,191.4 L533.8,191.0 L534.4,190.8 L534.9,190.3 L535.5,189.9 L536.1,189.8 L536.6,189.5 L537.2,189.1 L537.8,189.0 L538.3,188.5 L538.9,188.3 L539.5,188.0 L540.0,188.0 L540.6,187.6 L541.2,187.3 L541.7,187.0 L542.3,186.7 L542.9,186.5 L543.4,186.4 L544.0,186.1 L544.6,186.0 L545.2,186.0 L545.7,186.0 L546.3,185.9 L546.9,185.9 L547.4,186.2 L548.0,186.4 L548.6,186.2 L549.1,186.2 L549.7,185.9 L550.3,186.2 L550.8,186.3 L551.4,186.3 L552.0,186.2 L552.5,186.1 L553.1,186.0 L553.7,186.2 L554.2,186.1 L554.8,186.3 L555.4,186.2 L555.9,186.2 L556.5,186.2 L557.1,186.3 L557.6,186.1 L558.2,186.2 L558.8,186.2 L559.3,186.3 L559.9,186.4 L560.5,186.3 L561.0,186.2 L561.6,186.2 L562.2,186.0 L562.8,186.2 L563.3,186.3 L563.9,186.3 L564.5,186.2 L565.0,186.2 L565.6,186.1 L566.2,186.1 L566.7,186.4 L567.3,186.4 L567.9,186.6 L568.4,186.5 L569.0,186.4 L569.6,186.3 L570.1,186.3 L570.7,186.3 L571.3,186.1 L571.8,186.1 L572.4,186.3 L573.0,186.4 L573.5,186.3 L574.1,186.1 L574.7,186.2 L575.2,186.2 L575.8,186.2 L576.4,186.2 L576.9,186.2 L577.5,186.2 L578.1,186.3 L578.6,186.3 L579.2,186.4 L579.8,186.3 L580.3,186.3 L580.9,186.3 L581.5,186.2 L582.1,186.1 L582.6,186.5 L583.2,186.5 L583.8,186.6 L584.3,186.5 L584.9,186.3 L585.5,186.0 L586.0,186.0 L586.6,185.9 L587.2,186.0 L587.7,186.2 L588.3,186.2 L588.9,186.5 L589.4,186.3 L590.0,186.3 L590.6,186.2 L591.1,186.4 L591.7,186.5 L592.3,186.5 L592.8,186.4 L593.4,186.3 L594.0,186.4 L594.5,186.3 L595.1,186.2 L595.7,186.4 L596.2,186.4 L596.8,186.5 L597.4,186.5 L597.9,186.3 L598.5,186.4 L599.1,186.2 L599.7,186.2 L600.2,186.1 L600.8,186.2 L601.4,186.1 L601.9,186.1 L602.5,186.2 L603.1,186.3 L603.6,186.4 L604.2,186.1 L604.8,186.2 L605.3,186.3 L605.9,186.4 L606.5,186.6 L607.0,186.5 L607.6,186.4 L608.2,186.4 L608.7,186.5 L609.3,186.4 L609.9,186.3 L610.4,186.4 L611.0,186.3 L611.6,186.4 L612.1,186.3 L612.7,186.4 L613.3,186.4 L613.8,186.4 L614.4,186.4 L615.0,186.5 L615.5,186.2 L616.1,186.1" fill="none" stroke="#f28c33" stroke-width="1.7" stroke-linejoin="round" />
<path d="M491.2,225.4 L491.8,225.3 L492.4,225.4 L492.9,225.3 L493.5,225.4 L494.1,225.3 L494.6,225.2 L495.2,225.0 L495.8,224.9 L496.3,225.1 L496.9,225.0 L497.5,225.1 L498.0,225.2 L498.6,225.2 L499.2,225.4 L499.7,224.8 L500.3,223.0 L500.9,220.9 L501.4,219.1 L502.0,217.4 L502.6,216.1 L503.1,214.6 L503.7,213.1 L504.3,211.6 L504.8,210.2 L505.4,209.3 L506.0,208.0 L506.5,207.0 L507.1,205.8 L507.7,205.0 L508.3,204.0 L508.8,202.9 L509.4,202.1 L510.0,201.2 L510.5,200.4 L511.1,199.4 L511.7,198.8 L512.2,198.1 L512.8,197.3 L513.4,196.7 L513.9,195.8 L514.5,195.3 L515.1,195.0 L515.6,194.4 L516.2,194.0 L516.8,193.6 L517.3,193.2 L517.9,192.8 L518.5,192.6 L519.0,192.3 L519.6,191.9 L520.2,191.6 L520.7,191.0 L521.3,190.4 L521.9,189.9 L522.4,189.5 L523.0,189.1 L523.6,188.8 L524.1,188.5 L524.7,188.0 L525.3,187.7 L525.8,187.1 L526.4,186.7 L527.0,186.1 L527.6,185.6 L528.1,185.1 L528.7,184.6 L529.3,184.2 L529.8,183.6 L530.4,183.0 L531.0,182.5 L531.5,182.0 L532.1,181.8 L532.7,181.6 L533.2,181.1 L533.8,180.8 L534.4,180.2 L534.9,180.0 L535.5,179.9 L536.1,179.7 L536.6,179.2 L537.2,179.1 L537.8,178.8 L538.3,178.7 L538.9,178.2 L539.5,178.0 L540.0,177.9 L540.6,177.8 L541.2,177.6 L541.7,177.6 L542.3,177.3 L542.9,176.7 L543.4,176.6 L544.0,176.5 L544.6,176.5 L545.2,176.3 L545.7,176.3 L546.3,176.3 L546.9,176.2 L547.4,176.2 L548.0,176.4 L548.6,176.2 L549.1,176.3 L549.7,176.3 L550.3,176.3 L550.8,176.3 L551.4,176.3 L552.0,176.4 L552.5,176.3 L553.1,176.4 L553.7,176.4 L554.2,176.3 L554.8,176.5 L555.4,176.6 L555.9,176.6 L556.5,176.6 L557.1,176.4 L557.6,176.6 L558.2,176.3 L558.8,176.2 L559.3,176.4 L559.9,176.4 L560.5,176.5 L561.0,176.4 L561.6,176.4 L562.2,176.4 L562.8,176.3 L563.3,176.2 L563.9,176.4 L564.5,176.4 L565.0,176.5 L565.6,176.5 L566.2,176.5 L566.7,176.5 L567.3,176.5 L567.9,176.6 L568.4,176.6 L569.0,176.7 L569.6,176.8 L570.1,176.8 L570.7,176.7 L571.3,176.7 L571.8,176.8 L572.4,176.7 L573.0,176.8 L573.5,176.8 L574.1,176.7 L574.7,176.5 L575.2,176.5 L575.8,176.6 L576.4,176.6 L576.9,176.5 L577.5,176.7 L578.1,176.5 L578.6,176.7 L579.2,176.7 L579.8,176.7 L580.3,176.7 L580.9,176.5 L581.5,176.5 L582.1,176.5 L582.6,176.4 L583.2,176.5 L583.8,176.6 L584.3,176.5 L584.9,176.4 L585.5,176.3 L586.0,176.6 L586.6,176.4 L587.2,176.5 L587.7,176.5 L588.3,176.4 L588.9,176.2 L589.4,176.6 L590.0,176.7 L590.6,176.5 L591.1,176.5 L591.7,176.6 L592.3,176.9 L592.8,176.8 L593.4,176.7 L594.0,177.0 L594.5,176.6 L595.1,176.9 L595.7,176.8 L596.2,176.8 L596.8,176.7 L597.4,176.6 L597.9,176.6 L598.5,176.8 L599.1,176.8 L599.7,177.0 L600.2,177.0 L600.8,176.6 L601.4,176.7 L601.9,176.7 L602.5,176.5 L603.1,176.4 L603.6,176.5 L604.2,176.5 L604.8,176.6 L605.3,176.7 L605.9,176.6 L606.5,176.6 L607.0,176.5 L607.6,176.6 L608.2,176.7 L608.7,176.6 L609.3,176.7 L609.9,176.7 L610.4,176.8 L611.0,176.7 L611.6,176.7 L612.1,176.5 L612.7,176.6 L613.3,176.8 L613.8,176.7 L614.4,176.5 L615.0,176.6 L615.5,176.7 L616.1,176.7" fill="none" stroke="#2b858c" stroke-width="1.7" stroke-linejoin="round" />
<path d="M491.2,225.5 L491.8,225.4 L492.4,225.4 L492.9,225.5 L493.5,225.3 L494.1,225.4 L494.6,225.5 L495.2,225.5 L495.8,225.3 L496.3,225.0 L496.9,225.0 L497.5,225.0 L498.0,225.2 L498.6,225.2 L499.2,225.1 L499.7,224.5 L500.3,221.8 L500.9,219.2 L501.4,216.7 L502.0,214.0 L502.6,211.2 L503.1,208.9 L503.7,206.9 L504.3,205.1 L504.8,203.4 L505.4,201.6 L506.0,199.9 L506.5,198.7 L507.1,197.2 L507.7,195.8 L508.3,194.2 L508.8,192.9 L509.4,191.4 L510.0,190.1 L510.5,189.1 L511.1,188.1 L511.7,187.5 L512.2,186.8 L512.8,185.9 L513.4,185.1 L513.9,184.4 L514.5,183.8 L515.1,183.2 L515.6,182.5 L516.2,181.9 L516.8,181.5 L517.3,181.1 L517.9,180.5 L518.5,180.0 L519.0,179.5 L519.6,179.2 L520.2,178.9 L520.7,178.5 L521.3,178.1 L521.9,177.6 L522.4,177.2 L523.0,177.1 L523.6,176.6 L524.1,176.2 L524.7,175.8 L525.3,175.6 L525.8,175.4 L526.4,174.9 L527.0,174.5 L527.6,174.2 L528.1,174.0 L528.7,173.6 L529.3,173.0 L529.8,172.6 L530.4,172.3 L531.0,171.9 L531.5,171.5 L532.1,171.5 L532.7,171.3 L533.2,170.9 L533.8,170.7 L534.4,170.6 L534.9,170.3 L535.5,170.3 L536.1,170.3 L536.6,170.1 L537.2,169.7 L537.8,169.6 L538.3,169.5 L538.9,169.4 L539.5,169.4 L540.0,169.5 L540.6,169.5 L541.2,169.3 L541.7,169.1 L542.3,169.0 L542.9,168.9 L543.4,168.9 L544.0,168.7 L544.6,168.6 L545.2,168.8 L545.7,168.5 L546.3,168.6 L546.9,168.6 L547.4,168.6 L548.0,168.5 L548.6,168.6 L549.1,168.5 L549.7,168.6 L550.3,168.7 L550.8,168.8 L551.4,168.7 L552.0,168.8 L552.5,168.7 L553.1,168.8 L553.7,168.9 L554.2,168.9 L554.8,168.9 L555.4,168.7 L555.9,168.6 L556.5,168.7 L557.1,168.8 L557.6,168.6 L558.2,168.7 L558.8,168.7 L559.3,168.8 L559.9,168.7 L560.5,168.7 L561.0,168.8 L561.6,168.8 L562.2,168.9 L562.8,169.0 L563.3,168.9 L563.9,169.2 L564.5,168.9 L565.0,168.6 L565.6,168.8 L566.2,168.8 L566.7,169.0 L567.3,168.9 L567.9,168.8 L568.4,168.7 L569.0,168.9 L569.6,168.9 L570.1,169.0 L570.7,168.9 L571.3,168.6 L571.8,168.7 L572.4,168.8 L573.0,168.8 L573.5,168.7 L574.1,168.5 L574.7,168.5 L575.2,168.4 L575.8,168.7 L576.4,168.6 L576.9,168.7 L577.5,168.6 L578.1,168.6 L578.6,168.6 L579.2,168.9 L579.8,168.8 L580.3,168.9 L580.9,168.8 L581.5,168.8 L582.1,168.7 L582.6,168.9 L583.2,169.0 L583.8,168.9 L584.3,168.9 L584.9,168.9 L585.5,168.9 L586.0,168.9 L586.6,168.7 L587.2,168.8 L587.7,168.8 L588.3,169.0 L588.9,169.2 L589.4,169.3 L590.0,169.1 L590.6,169.2 L591.1,169.0 L591.7,169.0 L592.3,168.9 L592.8,169.0 L593.4,169.0 L594.0,168.8 L594.5,168.8 L595.1,168.8 L595.7,168.9 L596.2,168.9 L596.8,168.7 L597.4,168.8 L597.9,168.9 L598.5,169.0 L599.1,168.9 L599.7,169.0 L600.2,169.1 L600.8,168.9 L601.4,169.0 L601.9,169.2 L602.5,169.1 L603.1,168.8 L603.6,168.9 L604.2,169.0 L604.8,169.1 L605.3,168.9 L605.9,168.9 L606.5,168.9 L607.0,168.9 L607.6,168.8 L608.2,168.7 L608.7,168.7 L609.3,168.8 L609.9,169.0 L610.4,168.9 L611.0,168.7 L611.6,168.7 L612.1,169.0 L612.7,168.9 L613.3,168.8 L613.8,168.9 L614.4,168.9 L615.0,168.7 L615.5,168.6 L616.1,168.9" fill="none" stroke="#4f72c2" stroke-width="1.7" stroke-linejoin="round" />
<path d="M491.2,225.4 L491.8,225.3 L492.4,225.2 L492.9,225.2 L493.5,225.2 L494.1,225.3 L494.6,225.1 L495.2,225.4 L495.8,225.3 L496.3,225.4 L496.9,225.4 L497.5,225.5 L498.0,225.5 L498.6,225.4 L499.2,225.3 L499.7,222.5 L500.3,217.6 L500.9,213.2 L501.4,208.9 L502.0,204.6 L502.6,200.4 L503.1,196.8 L503.7,193.8 L504.3,191.3 L504.8,189.2 L505.4,187.5 L506.0,185.8 L506.5,184.5 L507.1,183.3 L507.7,182.1 L508.3,180.9 L508.8,180.0 L509.4,178.9 L510.0,178.1 L510.5,177.2 L511.1,176.2 L511.7,175.6 L512.2,175.0 L512.8,174.5 L513.4,173.8 L513.9,173.2 L514.5,172.6 L515.1,172.2 L515.6,171.7 L516.2,171.2 L516.8,170.9 L517.3,170.7 L517.9,170.6 L518.5,170.3 L519.0,170.0 L519.6,169.7 L520.2,169.7 L520.7,169.6 L521.3,169.5 L521.9,169.4 L522.4,169.2 L523.0,168.9 L523.6,168.6 L524.1,168.6 L524.7,168.3 L525.3,168.6 L525.8,168.3 L526.4,168.2 L527.0,168.1 L527.6,168.0 L528.1,168.0 L528.7,167.8 L529.3,167.7 L529.8,168.0 L530.4,168.0 L531.0,167.7 L531.5,167.6 L532.1,167.4 L532.7,167.4 L533.2,167.4 L533.8,167.4 L534.4,167.3 L534.9,167.2 L535.5,167.3 L536.1,167.2 L536.6,167.2 L537.2,167.3 L537.8,167.4 L538.3,167.6 L538.9,167.5 L539.5,167.4 L540.0,167.4 L540.6,167.4 L541.2,167.4 L541.7,167.3 L542.3,167.2 L542.9,167.1 L543.4,167.1 L544.0,167.1 L544.6,167.3 L545.2,167.2 L545.7,167.2 L546.3,167.3 L546.9,167.5 L547.4,167.5 L548.0,167.5 L548.6,167.8 L549.1,167.9 L549.7,167.7 L550.3,167.6 L550.8,167.7 L551.4,167.6 L552.0,167.8 L552.5,167.9 L553.1,167.8 L553.7,167.9 L554.2,168.0 L554.8,167.9 L555.4,167.8 L555.9,168.1 L556.5,168.0 L557.1,168.2 L557.6,168.1 L558.2,168.2 L558.8,167.9 L559.3,168.0 L559.9,168.0 L560.5,168.1 L561.0,168.2 L561.6,168.2 L562.2,168.1 L562.8,167.9 L563.3,167.9 L563.9,167.8 L564.5,168.1 L565.0,168.1 L565.6,168.1 L566.2,168.3 L566.7,167.8 L567.3,168.0 L567.9,168.0 L568.4,168.1 L569.0,168.2 L569.6,168.3 L570.1,168.1 L570.7,168.2 L571.3,168.2 L571.8,168.2 L572.4,168.3 L573.0,168.2 L573.5,168.2 L574.1,168.2 L574.7,168.2 L575.2,168.2 L575.8,168.1 L576.4,168.1 L576.9,168.2 L577.5,168.1 L578.1,168.3 L578.6,168.3 L579.2,168.2 L579.8,168.2 L580.3,168.5 L580.9,168.5 L581.5,168.4 L582.1,168.3 L582.6,168.3 L583.2,168.1 L583.8,168.4 L584.3,168.3 L584.9,168.3 L585.5,168.3 L586.0,168.3 L586.6,168.2 L587.2,168.3 L587.7,168.3 L588.3,168.2 L588.9,168.3 L589.4,168.6 L590.0,168.6 L590.6,168.6 L591.1,168.6 L591.7,168.5 L592.3,168.5 L592.8,168.2 L593.4,168.2 L594.0,168.4 L594.5,168.4 L595.1,168.2 L595.7,168.2 L596.2,168.4 L596.8,168.3 L597.4,168.4 L597.9,168.1 L598.5,168.3 L599.1,168.3 L599.7,168.3 L600.2,168.4 L600.8,168.4 L601.4,168.3 L601.9,168.3 L602.5,168.4 L603.1,168.4 L603.6,168.2 L604.2,168.2 L604.8,168.3 L605.3,168.3 L605.9,168.6 L606.5,168.5 L607.0,168.6 L607.6,168.5 L608.2,168.5 L608.7,168.5 L609.3,168.6 L609.9,168.5 L610.4,168.6 L611.0,168.6 L611.6,168.5 L612.1,168.5 L612.7,168.5 L613.3,168.4 L613.8,168.3 L614.4,168.6 L615.0,168.7 L615.5,168.6 L616.1,168.5" fill="none" stroke="#46296f" stroke-width="1.7" stroke-linejoin="round" />
<path d="M499.4,225.2 L500.6,224.5 L501.7,223.8 L502.9,223.1 L504.1,222.5 L505.2,221.8 L506.4,221.1 L507.6,220.5 L508.7,219.8 L509.9,219.2 L511.1,218.5 L512.2,217.9 L513.4,217.3 L514.6,216.6 L515.7,216.0 L516.9,215.4 L518.1,214.8 L519.2,214.2 L520.4,213.6 L521.6,213.0 L522.7,212.4 L523.9,211.8 L525.1,211.3 L526.2,210.7 L527.4,210.1 L528.6,209.6 L529.7,209.0 L530.9,208.5 L532.1,207.9 L533.2,207.4 L534.4,206.8 L535.6,206.3 L536.7,205.8 L537.9,205.3 L539.1,204.7 L540.3,204.2 L541.4,203.7 L542.6,203.2 L543.8,202.7 L544.9,202.2 L546.1,201.7 L547.3,201.2 L548.4,201.2 L549.6,201.2 L550.8,201.2 L551.9,201.2 L553.1,201.2 L554.3,201.2 L555.4,201.2 L556.6,201.2 L557.8,201.2 L558.9,201.2 L560.1,201.2 L561.3,201.2 L562.4,201.2 L563.6,201.2 L564.8,201.2 L565.9,201.2 L567.1,201.2 L568.3,201.2 L569.4,201.2 L570.6,201.2 L571.8,201.2 L572.9,201.3 L574.1,201.3 L575.3,201.3 L576.4,201.3 L577.6,201.3 L578.8,201.3 L579.9,201.3 L581.1,201.3 L582.3,201.3 L583.4,201.3 L584.6,201.3 L585.8,201.3 L586.9,201.3 L588.1,201.3 L589.3,201.3 L590.4,201.3 L591.6,201.3 L592.8,201.3 L593.9,201.3 L595.1,201.3 L596.3,201.3 L597.4,201.3 L598.6,201.3 L599.8,201.3 L600.9,201.3 L602.1,201.3 L603.3,201.3 L604.4,201.3 L605.6,201.3 L606.8,201.3 L607.9,201.3 L609.1,201.3 L610.3,201.4 L611.4,201.4 L612.6,201.4 L613.8,201.4 L614.9,201.4 L616.1,201.4" fill="none" stroke="#6a6a6a" stroke-width="1.1" stroke-linejoin="round" stroke-dasharray="3.3,2.3"/>
<path d="M499.4,225.2 L500.6,223.6 L501.7,222.0 L502.9,220.5 L504.1,219.0 L505.2,217.6 L506.4,216.2 L507.6,214.9 L508.7,213.6 L509.9,212.3 L511.1,211.1 L512.2,209.9 L513.4,208.7 L514.6,207.6 L515.7,206.5 L516.9,205.4 L518.1,204.4 L519.2,203.4 L520.4,202.4 L521.6,201.4 L522.7,200.5 L523.9,199.6 L525.1,198.7 L526.2,197.9 L527.4,197.1 L528.6,196.3 L529.7,195.5 L530.9,194.7 L532.1,194.0 L533.2,193.3 L534.4,192.6 L535.6,191.9 L536.7,191.3 L537.9,190.7 L539.1,190.0 L540.3,189.4 L541.4,188.9 L542.6,188.3 L543.8,187.8 L544.9,187.2 L546.1,186.7 L547.3,186.2 L548.4,186.1 L549.6,186.2 L550.8,186.2 L551.9,186.2 L553.1,186.2 L554.3,186.2 L555.4,186.2 L556.6,186.2 L557.8,186.2 L558.9,186.2 L560.1,186.2 L561.3,186.2 L562.4,186.2 L563.6,186.2 L564.8,186.2 L565.9,186.2 L567.1,186.2 L568.3,186.2 L569.4,186.2 L570.6,186.2 L571.8,186.2 L572.9,186.3 L574.1,186.3 L575.3,186.3 L576.4,186.3 L577.6,186.3 L578.8,186.3 L579.9,186.3 L581.1,186.3 L582.3,186.3 L583.4,186.3 L584.6,186.3 L585.8,186.3 L586.9,186.3 L588.1,186.3 L589.3,186.3 L590.4,186.3 L591.6,186.3 L592.8,186.3 L593.9,186.3 L595.1,186.3 L596.3,186.4 L597.4,186.4 L598.6,186.4 L599.8,186.4 L600.9,186.4 L602.1,186.4 L603.3,186.4 L604.4,186.4 L605.6,186.4 L606.8,186.4 L607.9,186.4 L609.1,186.4 L610.3,186.4 L611.4,186.4 L612.6,186.4 L613.8,186.4 L614.9,186.4 L616.1,186.4" fill="none" stroke="#6a6a6a" stroke-width="1.1" stroke-linejoin="round" stroke-dasharray="3.3,2.3"/>
<path d="M499.4,225.2 L500.6,220.9 L501.7,217.0 L502.9,213.4 L504.1,210.1 L505.2,207.0 L506.4,204.2 L507.6,201.7 L508.7,199.3 L509.9,197.2 L511.1,195.2 L512.2,193.4 L513.4,191.7 L514.6,190.2 L515.7,188.7 L516.9,187.5 L518.1,186.3 L519.2,185.2 L520.4,184.2 L521.6,183.3 L522.7,182.4 L523.9,181.6 L525.1,180.9 L526.2,180.3 L527.4,179.7 L528.6,179.1 L529.7,178.6 L530.9,178.2 L532.1,177.8 L533.2,177.4 L534.4,177.0 L535.6,176.7 L536.7,176.4 L537.9,176.1 L539.1,175.8 L540.3,175.6 L541.4,175.4 L542.6,175.2 L543.8,175.0 L544.9,174.9 L546.1,174.7 L547.3,174.6 L548.4,174.6 L549.6,174.6 L550.8,174.6 L551.9,174.6 L553.1,174.6 L554.3,174.6 L555.4,174.6 L556.6,174.6 L557.8,174.6 L558.9,174.6 L560.1,174.6 L561.3,174.6 L562.4,174.6 L563.6,174.6 L564.8,174.6 L565.9,174.6 L567.1,174.7 L568.3,174.7 L569.4,174.7 L570.6,174.7 L571.8,174.7 L572.9,174.7 L574.1,174.7 L575.3,174.7 L576.4,174.7 L577.6,174.7 L578.8,174.7 L579.9,174.7 L581.1,174.7 L582.3,174.7 L583.4,174.7 L584.6,174.8 L585.8,174.8 L586.9,174.8 L588.1,174.8 L589.3,174.8 L590.4,174.8 L591.6,174.8 L592.8,174.8 L593.9,174.8 L595.1,174.8 L596.3,174.8 L597.4,174.8 L598.6,174.8 L599.8,174.8 L600.9,174.8 L602.1,174.8 L603.3,174.9 L604.4,174.9 L605.6,174.9 L606.8,174.9 L607.9,174.9 L609.1,174.9 L610.3,174.9 L611.4,174.9 L612.6,174.9 L613.8,174.9 L614.9,174.9 L616.1,174.9" fill="none" stroke="#6a6a6a" stroke-width="1.1" stroke-linejoin="round" stroke-dasharray="3.3,2.3"/>
<path d="M499.4,225.2 L500.6,218.8 L501.7,213.1 L502.9,208.1 L504.1,203.7 L505.2,199.7 L506.4,196.2 L507.6,193.1 L508.7,190.3 L509.9,187.9 L511.1,185.7 L512.2,183.8 L513.4,182.1 L514.6,180.6 L515.7,179.2 L516.9,178.0 L518.1,177.0 L519.2,176.0 L520.4,175.2 L521.6,174.5 L522.7,173.8 L523.9,173.2 L525.1,172.7 L526.2,172.2 L527.4,171.8 L528.6,171.5 L529.7,171.2 L530.9,170.9 L532.1,170.6 L533.2,170.4 L534.4,170.2 L535.6,170.0 L536.7,169.9 L537.9,169.7 L539.1,169.6 L540.3,169.5 L541.4,169.4 L542.6,169.3 L543.8,169.2 L544.9,169.2 L546.1,169.1 L547.3,169.1 L548.4,169.1 L549.6,169.1 L550.8,169.1 L551.9,169.1 L553.1,169.1 L554.3,169.1 L555.4,169.1 L556.6,169.1 L557.8,169.1 L558.9,169.1 L560.1,169.1 L561.3,169.1 L562.4,169.2 L563.6,169.2 L564.8,169.2 L565.9,169.2 L567.1,169.2 L568.3,169.2 L569.4,169.2 L570.6,169.2 L571.8,169.2 L572.9,169.2 L574.1,169.2 L575.3,169.2 L576.4,169.2 L577.6,169.2 L578.8,169.3 L579.9,169.3 L581.1,169.3 L582.3,169.3 L583.4,169.3 L584.6,169.3 L585.8,169.3 L586.9,169.3 L588.1,169.3 L589.3,169.3 L590.4,169.3 L591.6,169.3 L592.8,169.3 L593.9,169.3 L595.1,169.4 L596.3,169.4 L597.4,169.4 L598.6,169.4 L599.8,169.4 L600.9,169.4 L602.1,169.4 L603.3,169.4 L604.4,169.4 L605.6,169.4 L606.8,169.4 L607.9,169.4 L609.1,169.4 L610.3,169.4 L611.4,169.5 L612.6,169.5 L613.8,169.5 L614.9,169.5 L616.1,169.5" fill="none" stroke="#6a6a6a" stroke-width="1.1" stroke-linejoin="round" stroke-dasharray="3.3,2.3"/>
<path d="M499.4,225.2 L500.6,214.1 L501.7,205.1 L502.9,197.9 L504.1,192.0 L505.2,187.3 L506.4,183.5 L507.6,180.4 L508.7,177.9 L509.9,175.9 L511.1,174.3 L512.2,173.0 L513.4,171.9 L514.6,171.1 L515.7,170.4 L516.9,169.8 L518.1,169.4 L519.2,169.0 L520.4,168.7 L521.6,168.5 L522.7,168.3 L523.9,168.1 L525.1,168.0 L526.2,167.9 L527.4,167.8 L528.6,167.8 L529.7,167.7 L530.9,167.7 L532.1,167.6 L533.2,167.6 L534.4,167.6 L535.6,167.6 L536.7,167.6 L537.9,167.5 L539.1,167.5 L540.3,167.5 L541.4,167.5 L542.6,167.5 L543.8,167.5 L544.9,167.5 L546.1,167.5 L547.3,167.5 L548.4,167.5 L549.6,167.5 L550.8,167.5 L551.9,167.5 L553.1,167.6 L554.3,167.6 L555.4,167.6 L556.6,167.6 L557.8,167.6 L558.9,167.6 L560.1,167.6 L561.3,167.6 L562.4,167.7 L563.6,167.7 L564.8,167.7 L565.9,167.7 L567.1,167.7 L568.3,167.7 L569.4,167.7 L570.6,167.7 L571.8,167.8 L572.9,167.8 L574.1,167.8 L575.3,167.8 L576.4,167.8 L577.6,167.8 L578.8,167.8 L579.9,167.8 L581.1,167.9 L582.3,167.9 L583.4,167.9 L584.6,167.9 L585.8,167.9 L586.9,167.9 L588.1,167.9 L589.3,167.9 L590.4,168.0 L591.6,168.0 L592.8,168.0 L593.9,168.0 L595.1,168.0 L596.3,168.0 L597.4,168.0 L598.6,168.0 L599.8,168.1 L600.9,168.1 L602.1,168.1 L603.3,168.1 L604.4,168.1 L605.6,168.1 L606.8,168.1 L607.9,168.1 L609.1,168.1 L610.3,168.2 L611.4,168.2 L612.6,168.2 L613.8,168.2 L614.9,168.2 L616.1,168.2" fill="none" stroke="#6a6a6a" stroke-width="1.1" stroke-linejoin="round" stroke-dasharray="3.3,2.3"/>
<text transform="translate(-0.6,13.2) scale(1.06,1.05)" font-size="22" style="stroke-width:0.45px">a</text>
<text transform="translate(-2.1,141.4) scale(1.12,1.0)" font-size="24.6" style="stroke-width:0.45px">b</text>
<text transform="translate(464.3,141.3) scale(1.04,1.0)" font-size="24.4" style="stroke-width:0.45px">c</text>
</svg>
</body></html>
